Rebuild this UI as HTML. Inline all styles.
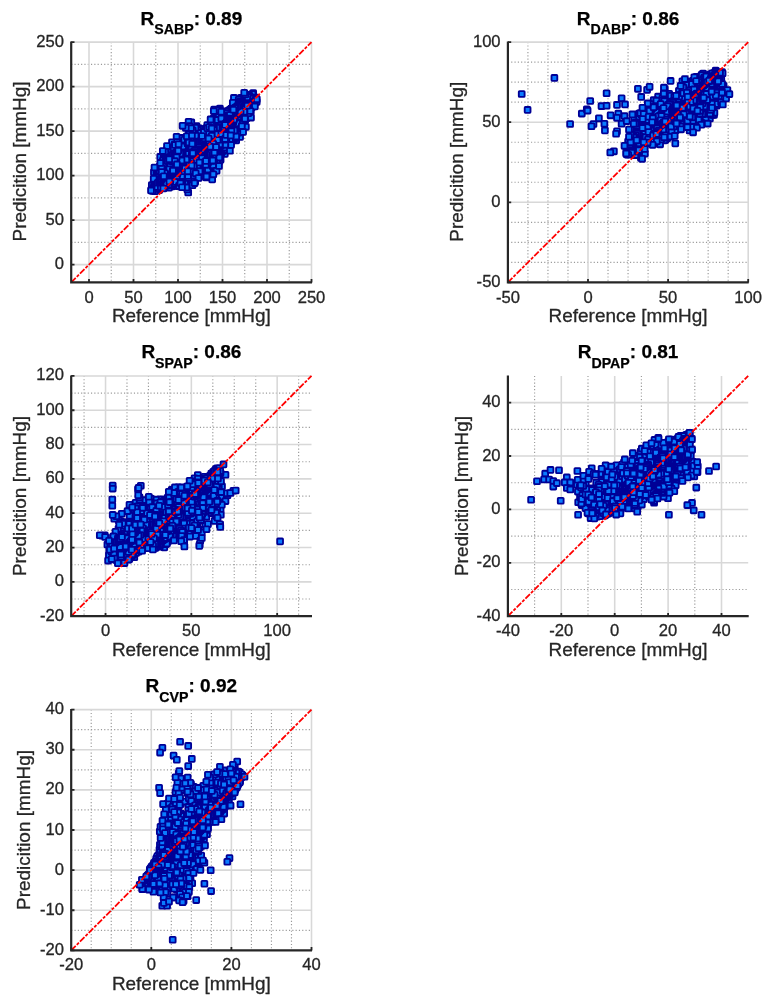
<!DOCTYPE html>
<html><head><meta charset="utf-8"><title>Prediction vs Reference</title>
<style>html,body{margin:0;padding:0;background:#fff}svg{display:block}text{font-family:"Liberation Sans",Arial,Helvetica,sans-serif;fill:#262626}.tk,.lb{stroke:#262626;stroke-width:0.3px}.tk{font-size:16.6px}.lb{font-size:18.95px}.tt{font-size:19px;font-weight:bold;fill:#000;stroke:#000;stroke-width:0.25px}.m{fill:none;stroke:none;marker-start:url(#sq);marker-mid:url(#sq);marker-end:url(#sq)}.gM{stroke:#d8d8d8;stroke-width:1.55;fill:none}.gm{stroke:#9a9a9a;stroke-width:1.15;stroke-dasharray:1.15 2.15;fill:none}.ax{stroke:#262626;stroke-width:2.2;fill:none}.tkm{stroke:#262626;stroke-width:1.8;fill:none}.rl{stroke:#ff0000;stroke-width:1.8;stroke-dasharray:6.4 1.5 3 1.5;fill:none}</style></head><body>
<svg width="776" height="1006" viewBox="0 0 776 1006">
<rect width="776" height="1006" fill="#fff"/>
<defs><marker id="sq" markerUnits="userSpaceOnUse" markerWidth="10" markerHeight="10" refX="5" refY="5" viewBox="0 0 10 10" orient="0" overflow="visible"><rect x="2.10" y="2.10" width="5.80" height="5.80" fill="#0a7cff" stroke="#000096" stroke-width="1.85" stroke-linejoin="round" rx="0.7"/></marker></defs>
<g>
<path class="gm" d="M111.25 42.10V282.40M155.75 42.10V282.40M200.25 42.10V282.40M244.75 42.10V282.40M289.25 42.10V282.40M71.20 242.35H311.50M71.20 197.85H311.50M71.20 153.35H311.50M71.20 108.85H311.50M71.20 64.35H311.50"/>
<path class="gM" d="M89.00 42.10V282.40M133.50 42.10V282.40M178.00 42.10V282.40M222.50 42.10V282.40M267.00 42.10V282.40M311.50 42.10V282.40M71.20 264.60H311.50M71.20 220.10H311.50M71.20 175.60H311.50M71.20 131.10H311.50M71.20 86.60H311.50M71.20 42.10H311.50"/>
<polyline class="m" points="202.9,146.7 202.0,147.9 200.5,149.4 199.6,150.4 198.2,151.7 197.6,152.9 196.9,153.9 196.2,155.1 176.8,168.3 230.9,128.5 181.0,140.2 175.4,171.7 211.0,173.6 169.4,160.9 179.4,141.6 177.0,167.8 215.6,126.8 216.8,125.9 217.5,125.3 218.2,124.4 219.5,123.0 178.8,161.2 205.8,145.8 207.3,127.2 174.8,178.0 162.2,169.2 160.8,170.6 159.2,172.3 158.4,173.5 157.5,174.8 157.0,175.6 155.9,176.1 182.9,162.9 198.3,145.7 214.6,156.9 215.2,156.3 216.4,155.7 217.4,154.2 218.5,153.1 219.4,152.1 185.9,176.8 226.9,115.7 217.8,124.8 161.9,182.0 161.1,183.7 160.5,184.9 159.4,186.4 158.5,188.1 157.4,188.5 156.4,189.3 199.6,134.9 168.9,182.1 161.8,176.1 160.5,177.4 159.3,178.3 158.2,179.6 195.8,137.9 244.2,105.2 181.9,146.9 224.2,147.4 209.9,157.4 210.8,155.8 211.7,155.1 212.5,154.1 213.3,153.5 239.4,130.5 198.4,160.9 232.6,111.0 227.3,148.1 197.9,129.1 233.1,138.0 197.0,176.8 175.5,148.4 160.2,156.9 225.5,144.1 180.0,176.0 229.1,121.4 231.9,110.5 151.8,185.1 164.5,175.1 182.3,160.6 241.0,97.9 193.3,160.3 223.5,115.0 161.1,187.2 197.8,156.1 173.0,173.3 185.3,175.9 220.2,145.0 255.9,97.6 196.5,126.0 231.4,125.5 218.6,113.0 166.8,165.9 211.2,149.9 178.5,173.5 198.5,138.3 176.4,175.3 230.8,111.5 232.9,115.8 172.9,162.4 171.9,163.6 170.7,164.2 170.3,165.4 168.9,167.1 167.8,168.2 166.8,168.9 166.4,169.8 233.6,120.5 222.5,120.1 203.9,166.7 238.8,110.8 196.4,141.8 188.9,171.9 192.1,161.2 180.6,149.5 192.8,143.7 191.5,143.2 189.6,148.0 235.7,120.0 189.4,179.8 190.4,178.3 191.2,177.3 192.1,176.9 192.5,176.5 193.8,175.1 194.7,174.0 240.0,107.9 196.1,168.4 245.4,104.1 244.8,104.8 243.9,105.6 242.4,106.1 241.6,107.2 240.6,108.1 239.7,109.6 211.3,156.4 177.6,182.6 176.8,183.2 175.8,184.2 175.2,184.5 173.7,185.4 228.0,120.0 235.1,115.1 221.2,137.5 218.8,133.4 240.5,123.0 236.5,107.5 217.0,158.4 203.8,154.5 203.0,155.4 201.6,156.0 200.0,156.8 199.2,158.3 198.5,159.1 187.4,160.6 217.2,122.9 174.3,159.4 193.7,174.2 192.9,153.3 184.0,145.6 241.2,101.0 208.7,171.0 245.8,105.2 246.8,103.7 248.0,102.7 248.5,101.8 249.5,100.9 250.8,99.8 252.2,98.5 252.7,97.9 218.9,120.1 196.6,152.7 167.2,178.2 165.9,179.1 164.8,180.3 163.8,181.8 162.8,182.9 162.0,184.3 161.1,185.6 212.0,129.9 190.9,146.6 207.8,137.0 196.3,133.5 158.5,184.5 159.8,183.3 160.7,182.1 161.8,180.8 162.4,179.8 163.1,178.7 200.4,162.3 173.2,149.0 208.2,148.5 170.6,154.6 164.7,167.7 226.4,128.3 172.6,174.2 251.5,96.2 235.8,124.4 204.7,156.8 196.8,129.0 237.7,99.2 224.0,147.6 226.0,133.1 237.2,113.9 236.8,114.4 235.3,115.5 234.0,116.2 232.9,116.7 231.9,118.1 189.0,166.3 192.3,144.1 218.4,113.0 182.4,178.4 183.6,145.3 200.8,161.4 219.0,131.3 222.0,146.9 252.4,105.5 223.5,134.4 215.7,157.9 180.5,147.2 220.5,111.4 198.7,147.9 197.9,148.8 197.0,150.2 196.2,151.2 195.5,151.5 194.5,152.0 181.3,183.0 178.9,161.8 194.5,151.5 163.8,158.7 203.6,140.9 186.5,158.0 201.6,167.6 183.6,154.4 202.1,157.1 216.3,139.4 182.5,176.9 250.3,102.5 197.5,143.5 181.9,173.4 238.9,112.4 171.0,167.1 170.1,173.7 159.1,190.1 214.6,138.9 186.5,162.3 199.1,135.2 225.2,125.7 219.8,124.4 245.4,114.4 227.9,120.6 253.1,101.2 251.9,101.7 250.8,103.0 249.6,104.1 192.6,139.7 230.7,123.5 225.1,137.5 171.3,161.2 172.7,160.0 173.5,159.0 174.8,158.3 175.2,157.5 176.5,156.3 230.3,141.0 168.3,176.4 169.7,175.0 170.2,174.4 171.8,172.9 178.3,140.1 206.2,161.3 208.1,137.6 182.6,147.3 205.1,133.2 196.2,132.1 197.1,130.7 198.0,129.3 199.2,128.4 206.8,128.0 204.3,151.4 204.9,150.2 206.2,149.4 207.3,148.1 207.8,146.8 233.5,117.4 230.6,132.6 236.2,140.3 203.4,133.8 231.4,108.5 233.9,138.2 234.5,137.8 235.1,136.8 235.9,135.4 237.0,134.7 238.2,133.1 175.3,180.8 254.3,102.5 199.1,142.2 185.3,168.3 218.9,145.9 245.0,98.5 231.6,134.9 252.5,101.5 251.6,102.3 251.2,103.1 250.7,103.5 242.2,103.8 223.9,149.6 185.2,158.0 173.5,176.8 221.4,127.3 178.7,155.7 245.8,99.9 241.4,126.4 212.2,132.1 226.7,135.5 213.8,169.0 226.7,141.5 179.4,179.5 234.6,120.4 235.3,119.4 236.2,117.8 237.2,116.5 163.7,157.3 213.7,148.0 180.0,163.4 231.1,136.1 230.8,124.6 241.5,102.6 173.1,171.3 162.2,172.6 211.8,136.4 225.4,112.6 167.7,175.0 199.6,162.3 252.5,101.8 173.0,147.6 157.6,184.0 224.8,153.9 196.1,164.1 251.5,102.2 199.9,160.8 164.0,179.7 204.1,140.9 234.0,130.4 235.6,129.1 236.1,128.1 236.8,126.8 238.0,125.8 238.9,125.4 239.4,124.7 241.0,123.8 163.5,182.1 199.4,150.9 188.6,157.0 189.1,156.1 190.6,154.7 192.1,153.5 193.6,152.6 194.3,151.4 195.7,149.9 197.1,148.5 207.0,164.3 184.4,145.8 179.7,146.2 193.5,142.6 158.9,174.3 246.2,110.0 247.7,103.2 200.4,162.1 194.8,150.1 205.1,153.0 209.2,145.7 192.4,127.5 221.1,124.9 201.9,166.2 194.9,138.6 201.5,137.5 180.1,146.6 227.3,115.7 226.8,116.6 226.1,117.8 225.6,119.0 224.8,119.9 223.8,120.6 223.2,121.4 222.0,122.4 198.2,155.0 206.8,134.3 250.0,102.3 170.0,182.1 182.2,155.0 176.4,174.9 245.7,98.8 174.3,169.5 209.4,153.4 208.8,153.6 174.0,158.3 240.8,126.7 211.9,140.1 213.3,139.4 214.9,138.5 215.9,138.0 216.8,137.0 218.2,135.5 162.5,179.2 240.6,130.6 181.4,157.4 197.2,140.4 218.5,135.7 236.8,104.1 238.0,103.5 239.5,102.8 240.2,101.5 160.5,180.3 221.9,143.5 180.7,144.4 173.2,154.3 208.4,161.3 201.2,169.5 220.2,116.5 158.0,175.6 193.7,167.7 211.6,174.4 203.6,173.7 191.5,165.7 201.8,131.2 248.5,108.2 246.9,109.2 245.6,110.6 244.4,111.7 243.3,113.1 169.8,175.1 253.2,93.1 183.5,142.2 190.0,144.7 219.6,117.4 214.4,151.8 207.7,151.7 155.4,180.0 176.6,162.0 225.4,113.3 248.9,110.0 218.8,128.4 189.4,176.3 210.9,137.6 211.6,136.8 212.3,136.2 213.5,135.7 214.6,134.2 215.9,132.7 217.0,131.8 203.8,137.7 214.4,159.0 247.8,101.9 187.5,174.1 191.7,132.5 228.6,119.5 228.5,122.7 224.1,134.3 184.9,159.3 207.8,129.1 206.4,130.1 205.4,131.2 204.8,132.4 227.1,123.5 243.4,102.9 244.1,101.6 244.8,100.6 245.7,99.9 246.6,99.0 248.1,98.1 248.7,97.1 226.6,127.9 236.2,116.1 251.3,99.1 245.4,108.0 187.4,150.4 217.6,139.3 236.3,126.9 205.1,163.0 200.5,154.3 182.0,169.6 180.5,170.3 179.6,171.3 178.1,172.8 222.9,136.0 224.1,135.4 224.6,135.0 226.1,133.6 227.4,132.2 190.7,175.2 163.8,168.4 195.9,156.6 171.4,154.7 225.2,123.8 180.4,180.4 212.2,127.3 211.3,128.2 209.9,128.9 208.7,129.7 207.0,131.1 205.4,132.8 204.4,133.9 186.1,178.4 161.0,186.2 205.7,172.4 183.6,147.5 193.0,153.1 191.7,154.5 190.7,156.0 189.2,156.7 188.2,157.7 187.2,158.2 185.9,159.2 222.2,118.7 229.7,123.2 237.0,117.9 157.3,188.4 156.4,189.7 155.0,191.2 176.5,156.0 164.8,178.7 242.8,125.4 219.2,126.7 219.7,125.8 220.8,125.2 221.2,123.9 174.1,176.9 214.8,164.0 175.4,183.1 174.1,184.5 173.0,185.5 171.6,186.5 186.0,183.8 236.4,131.7 237.9,130.8 238.5,129.7 239.4,128.9 240.7,127.6 241.5,126.8 242.6,125.4 224.1,124.7 169.7,177.5 209.6,137.0 227.7,148.1 196.2,134.8 208.1,175.7 174.7,185.9 221.5,131.3 207.2,148.2 198.8,157.4 177.5,162.2 211.0,156.8 212.8,155.0 213.7,153.9 214.4,152.5 215.9,150.9 172.1,167.3 172.0,157.8 173.2,156.9 174.9,155.7 175.4,154.7 176.1,153.9 185.8,184.5 187.1,183.2 187.9,181.7 189.2,180.7 189.9,179.5 176.5,170.3 251.9,98.6 193.4,164.3 199.3,158.1 227.8,141.0 249.2,95.4 232.8,132.3 198.0,168.7 241.0,128.9 210.8,157.5 172.3,152.8 189.1,140.9 216.6,143.4 215.3,144.6 214.7,145.4 214.0,146.2 213.0,147.5 211.5,148.5 232.1,115.3 225.2,129.4 206.4,159.2 187.7,165.4 231.4,108.9 230.6,109.7 229.7,110.5 228.6,111.5 227.5,112.6 207.4,146.7 208.5,145.3 209.4,144.5 210.1,143.4 211.4,142.8 212.0,142.3 201.4,143.0 201.0,172.6 174.7,181.8 199.0,143.5 200.9,132.1 213.3,129.9 222.2,140.3 199.4,146.2 214.8,147.3 199.6,161.6 245.1,105.7 208.2,161.9 183.8,183.3 182.3,184.4 180.7,185.9 215.1,139.4 240.6,120.9 247.2,110.4 161.0,168.2 169.8,168.3 217.7,117.1 217.2,157.5 237.6,122.9 248.4,102.4 210.1,176.4 193.1,158.3 250.8,101.8 155.2,184.9 214.1,128.8 248.0,97.9 247.1,99.5 246.0,100.1 245.1,100.9 244.6,101.5 243.2,102.5 242.0,103.7 241.2,104.2 200.7,163.8 199.2,170.2 180.7,138.5 159.4,187.2 194.3,162.3 165.2,170.0 175.9,168.0 171.4,163.0 237.3,127.8 240.9,111.3 241.2,122.6 242.3,121.7 243.4,121.1 245.0,119.8 245.4,119.4 246.4,118.2 216.5,152.9 215.8,154.0 215.0,155.2 213.7,156.1 212.2,157.0 211.5,158.0 210.4,159.0 178.6,180.4 155.0,183.8 192.0,141.5 234.8,109.7 234.2,110.2 232.4,111.6 231.8,112.1 230.9,113.1 229.6,114.1 228.1,115.4 159.1,181.6 206.1,147.9 207.6,168.3 244.0,115.2 220.0,112.8 191.9,155.9 224.4,114.7 209.1,126.4 168.5,178.0 169.4,177.2 170.5,176.3 171.6,175.6 172.9,174.8 174.2,174.0 175.2,172.8 213.9,164.6 213.3,165.2 212.1,165.9 210.6,166.8 209.9,167.5 209.1,168.7 207.7,170.1 206.2,171.0 198.4,135.3 218.1,141.0 245.7,113.7 168.4,181.2 251.4,100.2 200.2,173.0 207.8,133.9 199.9,156.0 198.6,156.8 197.5,157.6 196.7,158.8 236.0,114.3 183.8,167.3 156.6,178.7 185.0,163.2 185.6,162.8 186.7,161.4 188.2,160.5 201.1,135.4 201.5,134.4 203.1,133.6 204.1,132.5 204.7,131.5 206.3,129.9 200.1,135.5 201.6,134.5 202.5,133.9 204.0,132.7 191.8,154.5 201.5,138.1 182.0,164.9 180.7,166.1 179.7,167.3 179.1,168.2 155.0,186.9 224.3,114.8 197.0,172.5 221.8,137.2 216.5,125.0 190.7,161.3 231.0,132.3 248.2,96.1 188.7,149.2 174.5,182.2 188.8,163.5 191.5,156.7 204.4,138.5 180.3,181.7 162.5,167.9 187.5,144.9 193.2,166.6 207.1,168.4 162.4,166.6 164.5,166.8 222.6,121.1 217.4,145.1 210.8,128.6 187.1,168.9 191.5,154.5 190.5,155.2 189.0,156.7 188.6,157.3 187.9,158.6 187.4,159.4 186.7,160.0 242.3,113.2 187.0,167.5 159.8,166.2 218.1,150.4 213.0,137.9 168.3,162.7 220.1,118.4 198.2,143.2 235.9,110.0 161.7,164.7 229.2,129.6 188.2,192.5 236.6,118.9 241.1,129.1 181.4,158.5 223.0,150.9 225.9,138.9 226.6,138.0 228.1,137.2 229.5,135.9 230.7,135.1 231.8,133.7 191.3,138.8 192.2,137.3 192.9,136.1 194.3,135.0 195.1,133.8 196.1,132.6 202.8,129.1 211.2,130.4 211.8,129.8 212.9,129.4 214.2,128.7 215.2,128.1 216.1,127.1 217.7,125.5 218.7,124.9 195.3,163.0 181.6,172.1 222.4,147.7 191.0,162.0 221.1,145.6 222.3,144.0 223.4,142.8 224.7,141.7 225.3,140.7 225.8,139.4 227.4,138.6 213.4,158.6 216.6,160.3 188.0,172.1 189.2,171.1 190.3,170.0 191.5,168.5 192.5,167.7 254.7,100.8 253.8,101.9 253.2,103.2 252.3,104.1 251.2,105.6 249.8,106.4 248.5,107.3 247.4,107.8 223.4,129.2 209.9,127.2 246.5,102.7 248.0,101.7 248.9,100.7 250.0,100.0 227.3,124.7 248.9,111.1 188.8,178.2 187.8,179.3 186.4,180.8 185.3,182.6 217.4,150.5 223.2,117.0 180.2,144.6 158.9,184.1 187.1,175.0 205.1,148.2 177.3,157.6 207.3,132.4 156.1,187.3 195.6,170.7 197.4,156.1 211.1,137.8 210.7,138.8 209.9,140.2 208.3,141.3 179.4,171.8 207.8,155.4 220.4,130.5 238.8,119.6 207.3,128.5 206.1,129.7 204.7,130.6 204.1,131.6 203.0,132.7 202.0,134.0 200.3,134.7 198.7,135.6 185.4,179.0 200.0,134.5 168.0,182.8 223.4,144.4 222.4,145.1 221.9,145.5 221.0,146.1 219.8,147.0 219.0,148.2 217.9,149.5 247.3,96.0 178.0,183.5 244.3,111.0 223.7,134.9 164.1,176.4 165.4,175.7 166.9,174.4 168.1,173.5 169.7,171.8 170.7,170.6 171.8,169.9 178.1,179.0 180.6,150.7 190.3,157.2 237.2,126.5 238.2,125.0 239.5,123.8 240.2,123.1 157.5,179.7 231.2,133.9 189.7,151.4 217.6,128.4 173.9,159.7 174.7,159.1 176.5,157.3 177.9,156.6 166.9,175.9 177.2,143.2 178.1,142.3 179.0,141.9 180.0,140.6 181.0,139.9 181.5,138.6 182.3,137.9 195.4,177.6 200.0,171.0 155.9,182.0 173.3,162.6 159.9,176.1 205.9,141.5 247.2,101.3 238.3,104.2 189.0,162.5 222.3,145.0 219.7,151.1 229.0,142.3 170.0,153.4 247.1,111.5 246.0,112.8 244.8,113.5 243.9,114.1 243.2,115.3 242.7,116.4 242.3,116.9 240.9,118.5 173.6,144.6 196.8,173.4 197.9,172.7 198.4,171.9 199.6,170.5 200.7,169.2 202.2,168.2 202.4,167.1 203.9,166.3 192.2,154.3 215.6,137.4 173.1,166.2 165.3,173.9 164.5,174.8 163.1,176.0 162.4,177.1 161.3,178.0 159.9,179.6 189.0,167.4 205.6,150.2 199.6,135.4 186.2,184.0 187.0,183.5 188.5,182.7 189.3,182.2 190.9,180.5 184.5,158.0 194.8,162.0 188.9,130.3 191.3,153.3 186.5,160.1 232.8,128.4 181.4,153.6 179.7,154.7 178.7,155.6 177.6,156.9 247.0,113.9 200.6,143.4 176.3,177.9 164.2,154.9 251.0,98.9 177.5,174.5 196.9,173.9 204.5,155.6 209.3,137.5 238.5,102.8 232.9,117.2 234.3,115.8 235.5,114.9 236.4,114.1 237.1,112.9 238.7,112.1 240.1,110.7 182.3,166.2 168.9,172.5 238.3,129.2 229.5,111.1 172.5,175.9 205.6,148.9 200.9,145.4 206.0,157.5 203.1,143.2 214.2,109.6 207.2,162.7 247.5,113.2 248.7,101.2 248.0,102.7 247.2,103.6 246.8,104.4 245.5,105.7 245.1,106.5 243.7,107.1 243.2,108.0 234.5,116.7 170.9,183.1 172.1,181.7 172.9,181.2 173.8,180.1 174.8,179.8 176.0,178.3 177.0,177.4 251.1,103.7 229.6,118.0 228.4,119.1 227.6,119.6 226.1,121.0 224.9,122.1 231.4,113.0 230.3,113.6 228.9,115.2 227.4,116.8 226.8,118.0 225.5,119.6 224.8,120.9 165.1,183.1 199.5,131.8 189.1,162.5 190.9,160.9 191.8,160.2 192.4,159.0 193.5,158.0 204.5,150.7 196.1,157.4 216.2,126.8 222.0,137.0 179.3,177.2 226.4,128.9 229.5,117.8 230.0,116.6 231.3,115.9 231.7,114.9 232.7,113.9 233.8,112.1 235.1,110.9 236.1,109.9 183.7,167.5 221.6,152.4 193.5,149.0 207.6,136.7 170.4,172.7 253.8,103.3 157.5,183.8 156.5,184.6 155.6,185.6 154.6,186.8 153.5,187.7 209.1,146.3 201.8,165.6 225.7,118.9 232.2,116.6 242.3,120.2 235.3,111.6 234.7,112.8 233.4,114.3 232.8,114.8 201.3,165.4 154.1,184.4 155.6,182.8 156.3,182.0 157.4,180.6 158.6,179.7 187.3,142.6 200.9,159.0 214.5,132.2 226.8,138.2 158.6,170.3 191.1,148.0 215.6,127.6 192.0,160.5 168.3,160.8 182.4,163.6 238.9,111.5 219.0,154.7 220.2,153.3 220.8,152.7 221.8,151.1 222.4,150.2 223.4,149.0 224.2,148.5 173.5,154.8 185.8,167.1 182.4,178.4 191.3,163.6 207.0,145.9 221.0,138.9 222.2,137.5 222.6,136.8 224.1,135.7 225.0,134.8 239.2,104.7 214.3,146.5 242.4,109.8 243.5,109.3 245.1,108.0 245.8,107.2 247.1,105.7 217.2,145.0 244.5,113.5 236.0,128.1 237.1,127.2 237.7,126.0 239.5,124.8 240.5,124.0 240.9,123.0 241.8,122.3 237.5,120.6 202.5,138.2 223.7,123.8 223.1,124.5 222.6,125.7 221.6,126.7 220.4,127.9 219.3,129.3 218.6,129.7 246.3,114.8 209.5,170.9 155.2,182.8 231.7,116.0 233.1,115.3 234.1,114.3 235.1,113.5 235.6,112.9 237.3,111.4 238.3,110.4 239.8,109.3 241.6,114.8 241.1,115.8 240.2,116.8 239.3,117.8 172.4,157.7 200.8,153.2 171.5,183.0 171.0,184.3 170.3,184.9 169.9,185.8 168.9,186.2 174.8,169.3 194.7,141.9 250.1,103.2 183.3,150.4 171.8,154.7 171.0,155.6 169.7,156.6 168.7,157.7 167.2,159.3 183.6,152.8 243.3,116.3 194.4,156.6 232.9,127.0 168.0,178.0 226.3,141.0 230.2,138.2 212.6,160.4 222.9,143.5 224.4,141.9 225.2,141.0 226.0,140.1 227.2,139.0 228.3,138.1 229.5,137.0 230.8,136.3 188.2,162.7 177.0,154.6 187.6,173.5 250.1,98.7 215.2,144.9 184.7,181.8 222.6,143.2 224.2,139.1 167.2,149.4 226.3,136.2 214.3,126.7 233.0,135.7 236.7,112.9 233.3,110.6 169.8,172.8 213.0,128.3 192.6,153.2 220.7,144.2 220.2,145.2 219.5,145.7 218.0,146.5 216.5,147.6 215.9,148.3 214.7,149.3 243.6,118.4 235.8,132.7 186.6,165.6 185.7,156.4 177.8,172.6 183.2,158.6 205.1,135.2 201.5,140.6 225.8,129.7 182.4,181.3 181.7,182.2 180.3,182.8 178.7,184.3 177.8,185.2 222.7,112.5 221.4,113.8 220.3,115.0 219.4,116.0 173.0,175.0 211.7,148.0 220.6,159.5 187.8,136.4 223.3,126.7 222.6,127.8 221.6,128.2 220.5,129.2 240.8,117.0 223.7,130.7 209.5,144.9 188.1,183.0 236.0,128.6 220.1,122.2 161.9,175.3 169.9,171.7 176.2,142.6 236.3,103.4 229.1,125.1 175.1,159.2 231.4,129.5 197.4,131.1 237.6,118.1 219.9,123.9 195.2,181.5 170.5,160.9 203.2,155.2 202.4,156.3 201.0,157.1 199.3,158.8 198.4,160.1 171.3,173.0 183.5,183.2 193.8,162.8 166.9,169.5 157.4,172.3 185.1,146.7 216.5,136.6 229.0,110.2 224.3,137.4 225.3,136.5 225.8,135.3 226.2,134.9 226.7,134.1 227.6,133.7 228.4,133.0 229.7,132.4 162.6,177.7 163.9,176.6 164.9,175.7 165.9,175.4 167.1,174.8 167.7,173.6 168.7,172.6 169.9,171.4 224.5,119.6 209.8,142.0 242.8,107.1 244.8,111.4 220.6,141.9 180.9,161.2 188.0,181.6 189.3,180.6 189.8,179.3 191.1,178.0 191.8,177.2 192.3,176.8 194.0,175.0 187.3,167.0 243.1,119.0 243.8,116.5 244.8,116.1 245.7,115.3 246.8,114.6 248.5,113.8 250.0,112.3 250.8,111.3 203.4,161.0 189.6,143.5 187.9,144.7 186.7,145.8 185.2,147.5 184.5,148.7 176.7,178.2 177.8,177.1 178.6,176.0 179.7,175.1 180.2,173.7 181.4,172.8 211.2,136.4 170.8,161.4 188.4,170.4 228.7,129.0 180.8,166.6 240.1,136.9 200.7,139.2 201.8,138.1 203.1,137.5 203.6,137.0 204.6,135.8 233.4,136.4 190.2,172.4 171.4,175.1 202.5,167.3 235.2,127.5 213.9,140.0 228.0,134.4 227.0,135.3 226.2,136.5 225.1,137.2 224.3,138.5 223.1,139.9 222.5,140.6 221.9,141.5 184.3,172.1 191.3,122.3 177.3,172.7 226.9,114.9 186.1,157.9 169.5,175.9 169.0,187.6 238.7,118.5 240.3,117.3 240.8,116.1 242.1,114.4 243.2,113.5 244.2,112.0 245.9,110.8 246.5,110.0 174.3,169.3 196.1,136.4 194.7,165.8 195.3,164.6 196.6,163.3 198.2,161.9 198.9,161.5 170.5,177.1 169.8,178.4 169.2,179.9 168.0,180.4 166.9,181.7 165.7,183.1 164.8,184.5 217.8,155.6 227.8,139.1 236.1,135.1 192.6,159.6 191.4,161.0 189.8,161.9 188.8,162.5 187.8,163.9 186.5,165.2 185.2,166.1 244.2,110.0 242.6,117.3 236.5,119.1 244.5,109.2 245.3,108.4 246.7,107.2 248.1,105.8 249.0,104.9 250.0,103.8 242.2,105.2 220.8,143.7 197.3,169.7 194.6,170.4 183.0,142.7 170.9,161.8 241.3,103.5 199.1,152.6 244.7,118.0 226.8,112.7 227.9,148.8 165.0,156.0 219.9,154.9 206.0,134.4 173.8,147.6 194.4,142.7 239.5,118.6 188.2,162.0 189.8,160.8 190.4,160.4 191.1,159.7 192.1,158.6 224.9,136.0 225.7,134.8 226.9,134.1 227.9,133.0 229.2,132.3 230.1,130.8 163.6,171.6 242.1,113.0 214.7,137.9 157.1,183.3 172.7,169.1 171.2,170.6 170.7,171.9 169.9,173.0 168.6,173.9 167.2,175.1 166.1,176.2 190.8,168.2 222.2,143.7 220.1,137.2 209.9,139.0 218.2,117.9 221.8,147.2 168.7,181.3 213.5,159.9 208.9,151.9 210.0,151.0 211.2,150.2 212.2,149.1 213.4,148.5 214.2,146.9 214.7,143.7 207.4,130.7 162.7,170.5 161.4,171.3 160.5,172.9 159.5,173.5 158.2,174.4 157.5,175.7 156.9,176.5 191.6,157.2 177.7,176.4 202.1,154.4 203.8,153.4 205.0,152.8 205.9,151.4 207.7,150.4 187.6,156.5 217.6,118.8 180.4,151.5 217.2,145.6 230.2,134.9 199.1,159.3 158.8,168.7 219.7,111.6 157.7,180.2 187.6,181.8 178.5,167.8 180.2,166.5 181.3,165.6 181.7,164.5 181.7,183.5 180.1,184.8 179.0,186.2 238.2,122.3 185.2,182.8 218.4,116.4 198.9,163.8 166.9,155.8 235.9,112.2 236.7,111.7 238.3,110.1 239.5,109.2 240.1,108.0 241.7,106.9 242.7,106.5 242.0,104.3 156.0,185.6 153.9,172.2 241.0,124.3 241.4,123.1 241.9,122.2 243.3,120.8 244.2,119.2 244.8,117.8 245.6,116.8 246.3,115.7 188.3,165.5 189.2,164.8 190.3,163.8 190.6,162.7 191.4,161.3 192.5,161.0 193.4,160.2 194.2,159.6 166.9,152.7 179.8,151.2 200.3,168.5 253.9,104.4 253.5,104.6 252.9,105.7 251.6,107.5 250.0,108.5 220.9,111.8 250.6,95.8 251.2,95.3 252.5,94.0 217.8,151.4 236.0,101.2 234.6,102.9 233.3,104.0 232.9,104.8 236.5,124.5 234.9,113.1 246.0,101.1 237.8,119.9 238.4,118.6 238.9,117.4 240.0,116.6 216.7,151.7 164.0,179.7 200.1,132.9 209.0,158.8 218.7,111.9 228.5,116.4 200.5,140.8 201.5,140.0 202.1,139.2 203.0,138.5 203.8,137.6 204.9,136.8 206.5,135.3 240.9,125.0 218.9,122.3 230.3,133.5 211.6,133.5 214.9,149.7 214.3,150.5 213.7,151.8 212.5,152.8 211.6,154.2 210.7,155.9 209.7,157.1 212.5,151.6 176.7,167.8 189.4,162.2 159.6,186.6 160.5,185.8 160.9,184.8 162.1,183.4 163.2,182.1 164.0,181.4 158.6,176.1 223.3,140.1 224.3,139.4 225.6,138.5 226.7,137.4 227.4,137.0 188.9,166.6 190.9,172.1 228.4,148.5 174.8,155.6 179.8,164.4 177.1,170.7 183.7,158.5 211.8,123.9 246.0,116.1 243.4,108.3 194.0,127.7 182.6,175.2 193.4,132.4 167.6,171.2 166.0,172.5 165.1,173.5 163.8,174.8 212.2,162.0 210.2,149.2 219.3,113.1 217.9,114.3 217.4,115.0 216.5,115.4 215.8,116.7 214.7,118.1 213.5,118.6 210.6,135.5 194.9,176.7 181.3,154.1 219.9,108.6 200.9,168.3 200.5,168.9 198.7,169.8 197.1,171.3 186.6,181.8 181.2,151.1 194.2,163.2 193.1,164.1 192.3,165.1 191.2,166.3 190.1,166.8 189.4,168.2 188.4,169.0 187.6,169.8 194.0,146.3 193.7,174.6 230.9,126.6 231.7,125.7 232.6,124.4 233.2,123.2 234.0,122.4 234.8,121.5 232.3,113.6 237.1,125.0 190.9,163.4 202.9,161.4 222.8,141.9 220.8,121.0 177.2,168.6 211.5,137.5 183.5,184.8 162.9,160.5 250.0,97.1 250.4,99.6 234.2,121.0 176.2,169.8 228.1,119.7 229.2,118.1 229.9,117.0 230.9,116.0 232.2,114.4 203.8,146.9 211.2,138.0 205.1,143.1 163.6,170.8 225.5,139.0 233.7,139.2 232.9,140.1 231.1,141.4 230.5,142.7 229.6,143.7 229.1,144.5 227.9,145.5 242.4,122.8 172.7,150.2 233.9,97.9 179.7,168.9 245.4,111.5 198.5,137.2 193.5,144.7 210.7,135.7 201.6,147.9 192.9,130.1 178.5,162.1 185.3,177.7 225.5,128.2 195.0,144.0 212.1,127.6 218.2,128.8 212.1,142.0 239.1,127.2 203.6,174.4 204.4,172.9 205.2,171.4 206.0,170.5 189.8,131.6 250.9,102.4 175.2,179.8 213.2,166.1 247.0,109.3 246.3,110.5 244.8,111.9 243.5,113.0 242.2,113.7 240.6,114.8 184.8,160.4 183.6,161.1 182.9,162.3 181.6,163.3 180.3,164.2 179.2,165.0 208.2,144.4 166.7,183.0 179.3,168.0 209.3,171.5 173.9,182.6 186.5,155.9 187.5,154.7 188.0,153.4 189.8,152.2 239.9,111.1 184.7,182.6 212.3,142.4 248.5,114.4 207.6,147.9 188.1,153.2 206.6,168.7 170.7,175.5 235.8,122.9 236.9,122.0 237.9,120.7 239.3,119.3 159.5,174.5 177.6,177.0 176.6,177.8 175.9,179.2 174.8,179.6 174.2,180.9 173.6,181.4 171.8,182.4 170.4,183.8 190.7,148.1 193.9,141.3 202.2,134.2 194.6,176.8 225.5,149.5 202.7,144.1 170.0,149.6 224.3,130.3 215.9,127.1 214.8,127.9 214.1,128.8 213.3,129.6 212.0,130.6 195.4,172.0 178.2,155.6 215.9,128.9 154.8,184.4 160.7,179.3 254.1,99.4 179.2,157.0 229.5,128.9 163.8,164.5 185.4,159.3 186.7,158.4 188.3,157.2 189.4,156.9 190.6,156.0 191.8,155.4 219.4,147.9 217.9,149.0 216.8,150.2 216.0,151.1 215.3,152.3 165.1,163.3 214.3,158.4 184.2,164.3 176.9,163.5 195.9,174.8 212.5,153.3 214.2,155.0 237.2,125.8 226.4,131.4 225.1,132.1 224.5,132.8 223.3,133.6 222.5,134.8 221.2,136.4 217.8,115.5 205.1,154.8 216.6,124.3 217.4,123.5 218.7,122.9 219.9,122.2 221.1,121.4 222.0,120.1 222.7,119.7 165.5,151.6 191.4,152.9 192.8,151.3 193.2,150.6 194.8,149.3 195.9,147.9 197.3,147.3 160.5,187.5 222.6,130.7 182.6,152.6 225.6,138.6 207.2,147.4 206.6,148.4 205.4,149.1 204.6,150.0 204.1,151.2 203.3,152.0 202.1,153.1 209.2,154.1 236.8,127.0 237.7,125.6 239.4,123.9 240.7,122.6 241.9,121.7 243.1,120.6 208.5,126.4 206.2,174.9 207.0,153.2 185.2,167.4 169.4,181.9 157.7,170.8 252.5,99.6 165.8,182.2 166.9,180.6 167.6,179.6 168.1,178.2 169.1,177.0 224.5,131.4 185.7,185.5 238.8,130.5 192.4,174.2 188.8,143.2 187.0,144.8 186.1,145.6 185.2,146.4 184.0,146.8 182.7,148.4 181.8,149.5 213.0,149.0 233.5,115.5 216.4,154.4 177.2,151.7 230.5,125.2 232.1,123.8 233.2,122.7 234.6,121.8 235.4,120.2 236.7,119.5 202.8,144.7 189.2,168.9 205.9,136.5 192.8,168.9 185.8,157.9 187.0,156.9 188.5,155.9 189.3,154.8 190.6,154.2 191.5,153.6 192.3,152.8 193.6,151.5 174.9,184.0 168.1,180.9 203.5,138.4 165.7,163.2 225.5,142.6 160.4,188.3 218.9,118.0 211.3,163.1 226.0,131.5 224.8,132.8 224.3,134.2 223.0,134.8 222.2,136.3 220.9,137.2 220.4,138.2 235.0,119.7 188.5,173.5 170.2,162.0 170.8,161.5 171.2,161.0 172.1,159.9 173.0,158.9 174.5,157.5 204.3,142.5 182.0,180.3 247.4,103.8 202.6,170.3 193.2,142.4 219.1,110.1 224.9,149.4 212.4,169.8 175.7,160.4 198.6,148.2 181.8,173.4 183.2,143.4 191.7,161.3 187.8,154.8 214.8,130.6 202.8,131.8 201.8,133.1 200.4,134.0 199.1,134.9 198.1,136.3 236.4,115.4 217.9,112.5 191.1,176.0 152.6,190.9 183.3,159.1 232.8,138.8 244.6,101.3 192.5,159.0 178.3,162.7 204.2,165.1 234.0,123.5 232.9,124.2 231.9,125.5 231.6,126.6 230.1,128.2 168.0,185.1 241.8,126.7 189.4,146.8 254.7,101.8 185.2,166.4 225.2,126.4 239.4,100.0 242.1,102.8 200.3,150.8 201.5,149.4 201.9,148.6 203.0,147.4 203.7,146.4 204.6,145.0 205.9,144.1 206.8,143.5 247.6,112.1 205.5,153.0 215.1,166.6 206.8,139.9 179.0,154.7 180.2,154.2 180.5,153.6 181.1,152.8 182.4,151.9 183.3,151.4 184.1,150.6 185.1,149.6 171.9,179.1 173.1,178.2 174.4,176.5 175.1,175.3 176.4,174.7 176.9,174.4 231.2,123.0 175.2,166.4 239.2,116.0 225.4,141.2 169.0,170.3 241.7,128.2 215.9,136.2 214.7,136.9 213.8,137.9 213.4,138.9 212.3,140.4 226.3,131.2 191.7,161.3 219.9,141.1 177.3,155.9 215.4,121.1 216.9,119.7 217.7,118.4 218.5,116.9 155.0,184.8 208.9,141.3 236.3,121.0 221.4,127.1 226.1,126.6 238.7,99.7 156.4,179.1 207.7,149.0 208.9,147.7 210.2,146.7 211.0,146.4 212.2,145.8 212.7,145.0 213.6,143.9 245.4,100.5 186.0,182.3 158.8,188.8 246.7,111.7 221.7,132.0 192.3,142.0 193.9,140.7 194.6,140.0 195.3,138.6 197.0,137.5 197.7,136.5 199.0,135.6 165.9,170.8 204.9,141.5 176.2,179.2 225.5,111.2 237.3,105.9 173.0,172.8 178.7,168.4 164.1,174.7 188.9,162.7 210.8,171.8 215.3,143.5 213.5,133.7 207.7,126.9 245.9,126.8 192.0,151.8 166.0,161.9 213.1,131.2 197.8,130.3 225.7,142.3 214.5,170.8 213.7,171.9 212.6,173.7 211.3,174.8 246.2,98.1 169.1,157.9 186.6,153.2 177.8,162.1 226.7,112.2 164.4,168.8 195.9,135.0 198.9,174.2 192.0,143.4 169.1,179.9 236.1,109.4 166.0,171.0 163.2,185.2 163.8,184.5 164.6,183.7 165.7,182.0 167.0,181.1 167.7,180.0 230.3,109.9 238.4,132.7 242.4,114.5 171.4,161.7 155.1,183.8 238.5,122.1 181.5,183.6 236.7,128.7 183.3,153.1 237.7,113.1 198.2,174.4 217.6,115.4 191.9,155.8 190.8,157.1 189.4,158.7 187.6,160.1 186.7,161.3 185.8,162.5 220.1,135.9 188.6,121.7 221.8,132.7 238.8,111.2 222.9,141.5 224.2,141.1 225.6,140.1 226.6,139.6 228.2,138.5 229.2,137.3 230.2,136.7 238.2,121.4 245.3,107.1 253.5,105.6 208.8,132.4 168.8,172.1 211.3,161.9 251.0,102.2 195.1,159.0 181.0,171.3 228.8,133.8 180.7,169.0 188.2,149.8 197.8,156.4 218.0,127.3 194.3,138.8 231.0,110.3 245.7,114.3 171.3,149.3 234.6,130.9 194.1,131.8 232.2,112.6 230.7,113.9 229.7,114.4 228.6,114.8 227.6,115.5 227.0,116.4 167.2,172.6 165.5,173.8 164.4,174.8 163.4,176.3 162.0,177.9 217.6,144.7 199.4,139.5 222.4,135.1 221.2,136.5 219.5,137.7 218.5,139.0 217.8,140.3 216.9,141.0 216.0,141.4 215.1,141.8 205.1,142.0 224.2,132.0 222.9,132.7 221.9,133.5 220.8,133.8 219.5,135.2 218.9,136.0 217.4,137.7 216.1,138.5 205.8,160.6 156.6,184.7 219.5,161.0 222.7,143.8 200.9,137.5 181.6,160.1 235.0,137.8 170.7,159.6 230.2,139.2 158.4,179.3 189.5,161.3 196.2,162.5 191.2,174.4 234.2,125.6 224.1,137.1 184.0,147.0 251.0,117.6 171.1,156.9 227.6,111.6 156.6,171.1 168.2,175.7 182.4,152.3 219.2,155.4 193.6,148.4 211.5,134.9 164.5,183.0 242.0,113.8 248.4,111.6 249.6,95.9 183.3,168.0 234.8,133.6 210.7,168.9 211.7,142.5 206.0,143.1 232.6,108.8 199.5,144.1 200.4,142.9 201.6,142.5 203.0,141.0 176.1,181.8 198.0,152.7 231.1,127.8 174.2,150.8 239.6,112.2 178.5,181.2 185.4,165.9 219.3,111.0 175.7,179.0 180.4,148.9 217.4,127.9 172.8,163.2 191.2,177.3 199.1,150.9 218.7,110.3 181.6,147.4 226.9,113.4 228.4,136.3 199.9,160.0 168.3,167.0 167.0,173.4 180.9,162.9 197.5,132.5 159.4,188.6 170.5,168.1 187.7,156.4 252.0,106.6 252.8,105.2 253.7,104.5 254.9,102.8 256.7,101.8 165.8,180.8 214.1,153.5 215.0,152.5 216.5,151.3 217.7,150.5 218.5,149.3 219.3,147.9 220.9,146.3 217.9,144.6 216.8,145.7 215.5,147.3 214.3,148.1 212.8,149.3 210.4,137.5 212.1,151.5 156.6,174.6 177.7,166.7 193.3,157.4 165.4,168.1 191.3,161.2 217.8,162.9 240.3,110.7 239.6,111.9 238.1,112.9 236.5,114.5 235.8,115.7 234.5,116.4 233.4,117.5 232.6,118.1 215.5,141.0 214.6,141.4 213.5,141.9 212.4,142.7 211.4,143.8 210.7,145.0 209.9,146.6 168.0,167.9 217.2,151.8 218.9,150.9 219.6,149.5 221.2,148.7 222.1,147.3 223.6,146.1 219.4,123.1 221.7,125.1 222.7,123.7 223.5,122.8 224.4,121.3 225.5,120.2 226.1,119.4 227.7,118.6 229.1,117.4 219.0,130.6 213.8,124.3 224.8,115.6 201.2,151.7 172.2,168.9 211.4,150.4 189.8,133.2 207.2,156.2 206.3,157.5 205.6,158.3 204.9,158.7 204.2,159.2 182.5,169.4 181.4,170.3 180.4,171.2 179.4,172.6 177.9,173.4 177.5,173.7 177.2,174.4 175.8,175.3 207.5,157.9 177.5,167.8 181.9,182.6 219.8,119.2 218.5,120.7 217.7,121.2 216.6,122.1 215.4,123.3 214.4,124.8 213.7,125.3 212.9,125.6 224.8,128.5 227.3,137.9 240.7,125.5 204.7,151.8 182.6,143.6 202.4,167.5 201.5,169.0 200.4,170.2 199.1,170.9 197.9,171.7 197.4,172.7 213.4,156.7 161.1,179.6 163.4,163.6 175.7,146.2 179.5,172.1 205.4,149.5 204.6,165.3 158.8,181.5 191.7,140.1 194.7,163.9 191.1,174.5 206.3,146.4 204.8,148.1 203.9,149.7 203.4,150.6 201.8,151.6 201.1,152.5 200.2,153.4 215.0,152.1 190.9,181.2 243.5,102.0 234.0,117.2 214.1,165.1 221.3,131.6 184.0,143.1 241.5,109.6 218.5,117.6 193.0,162.6 217.5,147.1 236.4,109.8 207.3,125.0 210.4,162.3 200.7,176.0 246.7,103.8 200.0,132.9 215.0,146.7 215.7,145.8 216.3,144.6 217.1,143.3 218.3,142.0 219.1,140.8 189.9,173.3 165.7,160.0 216.6,160.7 202.4,153.6 204.2,152.4 205.4,151.6 206.3,150.9 213.5,140.7 211.9,141.7 210.2,143.2 209.7,143.5 208.7,143.8 207.9,145.4 198.7,150.5 238.8,123.5 233.0,129.6 169.3,180.4 212.2,179.4 177.6,146.4 212.0,142.6 203.6,142.2 168.2,177.9 235.5,127.8 190.9,163.0 192.1,162.1 193.4,160.7 194.1,159.9 195.3,159.1 196.2,157.7 197.4,156.6 198.0,156.1 217.1,127.3 216.1,128.2 215.0,129.0 213.9,130.2 212.8,131.3 211.9,132.6 210.3,133.8 210.1,134.5 189.2,164.5 190.1,136.5 222.6,141.6 166.2,170.6 230.6,121.7 168.9,184.8 220.2,136.1 222.6,138.7 190.2,141.9 163.1,175.6 157.0,175.1 158.3,173.4 159.0,172.0 159.7,170.8 172.9,154.0 170.7,167.5 217.1,135.2 182.8,167.1 247.6,97.4 246.2,98.6 244.6,100.0 243.7,100.9 243.3,102.2 242.5,103.7 214.8,139.3 230.3,118.4 212.9,134.1 212.3,134.8 211.7,135.8 211.1,136.9 170.7,178.2 219.3,157.5 195.7,152.0 197.0,151.0 197.8,150.1 199.3,148.9 200.6,147.1 201.1,146.0 202.0,145.4 203.4,144.5 197.7,165.7 169.0,178.6 244.7,111.8 194.9,134.3 190.8,165.3 190.7,139.9 162.4,178.1 176.6,136.7 183.2,146.4 184.4,171.8 218.0,122.4 164.6,176.8 225.6,118.7 197.6,165.4 177.0,162.7 187.4,189.5 218.4,116.7 227.5,126.9 183.0,172.1 233.8,111.6 173.8,164.6 194.0,180.9 171.7,151.7 212.3,152.0 185.8,155.7 162.9,174.5 208.7,157.5 162.7,180.2 205.8,164.9 172.0,142.2 202.8,141.3 193.3,180.0 249.0,96.7 235.5,136.1 222.0,133.1 226.6,116.7 225.5,117.9 224.3,119.5 223.1,120.6 222.4,121.7 222.2,138.9 190.9,164.2 248.6,105.2 191.3,179.3 249.7,101.6 251.1,100.4 252.0,99.9 253.2,98.9 254.8,97.8 189.5,126.0 245.8,112.2 218.8,121.4 231.9,137.7 178.6,162.0 181.7,175.9 205.7,150.4 225.5,118.2 199.2,157.3 174.6,144.5 225.4,134.1 176.2,166.1 188.3,152.1 199.6,171.3 206.2,168.8 233.1,122.3 188.5,177.9 211.5,169.3 165.3,175.6 162.1,180.4 210.2,153.5 215.0,150.0 173.7,147.7 214.1,149.7 226.9,144.3 233.6,137.4 215.6,136.8 241.6,123.6 208.5,141.8 196.8,137.1 249.5,109.6 196.8,160.4 207.0,146.8 225.5,134.7 225.0,135.4 223.3,136.4 221.8,137.4 221.1,138.8 165.9,183.5 191.5,129.0 244.9,111.1 243.4,112.7 242.4,113.7 240.7,114.6 239.7,115.6 238.1,116.7 190.4,152.8 189.4,154.4 187.8,155.8 187.0,156.6 185.8,157.1 242.4,110.8 209.2,152.5 214.3,162.8 213.7,163.9 212.1,165.2 210.6,166.0 210.3,166.4 209.7,167.9 209.2,168.4 207.9,169.4 199.9,150.1 179.2,158.2 184.2,139.8 224.8,142.7 176.9,176.2 225.7,131.7 177.2,142.1 218.9,138.5 166.1,160.7 187.6,143.5 164.5,178.0 163.7,171.8 241.5,112.9 200.0,150.7 209.2,144.8 175.0,144.9 159.7,185.6 251.7,100.9 250.8,102.0 250.5,102.9 249.0,104.2 203.9,132.0 209.1,133.2 206.2,138.3 170.6,179.4 206.4,142.7 184.2,171.2 248.3,113.2 175.9,182.0 169.9,167.7 169.5,171.7 168.7,172.7 168.0,173.2 166.4,174.4 165.1,175.6 164.1,177.0 163.1,178.4 222.9,119.3 230.7,126.3 225.5,135.8 189.3,155.3 242.6,107.1 169.7,180.1 233.9,119.1 233.0,120.5 232.6,121.3 231.6,122.5 230.1,124.0 229.2,124.3 182.4,183.7 181.7,184.1 180.6,184.7 179.0,185.8 214.4,152.6 232.6,135.2 170.1,163.9 180.5,183.1 173.1,169.2 187.9,175.3 188.2,151.6 188.8,151.1 189.5,149.6 190.2,148.2 190.7,146.9 191.4,146.5 177.5,173.3 244.4,111.8 208.2,153.2 206.7,154.7 205.0,155.9 203.8,156.5 202.6,157.0 201.9,158.1 236.9,123.3 190.0,170.5 191.8,155.4 238.6,108.5 217.6,138.2 167.8,183.8 167.0,184.8 165.6,185.3 165.0,186.4 163.9,187.3 161.6,168.2 227.7,122.6 193.9,175.4 207.4,128.2 178.6,144.2 212.5,166.0 190.9,171.3 219.2,132.4 220.1,131.5 220.8,130.6 221.5,129.6 222.4,128.3 223.9,127.2 213.2,165.2 196.3,144.6 236.2,136.4 190.2,165.6 232.2,111.3 235.7,114.2 165.9,173.5 170.2,180.9 225.4,147.6 184.6,158.2 214.8,121.8 195.7,173.3 211.8,135.7 187.8,142.2 190.7,161.2 216.6,127.8 168.5,184.7 233.3,121.9 199.7,137.0 157.4,187.0 180.2,153.5 171.2,155.9 172.7,154.9 174.0,153.8 175.5,153.0 176.2,152.7 177.3,151.3 178.2,150.8 220.7,145.6 169.3,169.3 232.8,116.1 251.3,98.2 160.8,187.2 247.8,97.2 225.6,144.8 224.9,133.6 188.8,142.4 212.0,160.9 224.6,123.8 195.5,127.8 188.6,153.9 197.4,145.7 235.9,111.3 205.4,148.8 178.4,170.6 194.0,165.7 218.8,116.9 186.4,160.2 200.9,148.4 201.6,147.9 202.7,147.2 203.5,145.7 234.4,130.4 185.0,168.5 230.0,139.0 233.4,116.3 234.9,115.6 236.2,115.0 236.7,114.2 237.8,113.3 239.1,112.1 240.6,111.4 239.6,101.9 253.0,98.7 216.6,170.7 208.1,162.3 214.0,128.2 219.7,144.3 252.2,103.1 253.3,101.9 254.4,101.0 255.6,99.8 256.8,99.2 195.6,135.8 226.4,139.1 189.5,163.6 206.1,146.4 204.8,147.3 203.9,148.0 202.5,148.9 201.6,149.8 166.5,183.1 188.0,176.0 198.6,148.5 199.3,147.0 200.1,145.7 201.8,144.3 225.7,121.2 187.2,158.6 228.3,126.3 229.6,125.3 230.1,124.5 230.9,123.5 232.1,122.6 233.0,121.2 222.5,136.6 191.6,165.4 163.3,188.5 165.0,173.2 192.7,130.2 194.3,152.6 231.4,131.1 205.8,164.8 167.8,161.0 191.0,128.1 217.6,139.9 213.2,143.8 199.8,144.7 200.2,145.9 189.6,134.0 213.5,122.8 212.4,124.5 211.1,125.3 209.3,127.0 177.2,168.2 176.3,169.3 175.5,170.6 174.7,171.0 173.5,171.8 172.8,172.5 217.6,134.2 186.3,159.4 236.4,104.5 205.9,161.0 187.8,171.3 191.8,154.9 192.5,185.2 254.9,106.4 221.2,111.7 212.8,160.5 221.4,133.9 245.4,94.4 167.0,146.0 185.8,127.8 173.4,170.9 172.7,171.1 161.7,172.0 223.8,139.7 232.8,102.8 186.8,136.3 206.0,177.4 186.4,187.4 206.5,176.4 160.3,163.0 169.4,181.4 243.1,131.9 211.7,128.5 217.6,119.9 244.2,92.8 191.9,135.6 177.6,164.1 178.6,162.8 179.7,162.5 180.5,161.9 181.5,160.4 250.3,111.0 162.8,151.0 241.8,126.1 225.1,138.9 213.8,111.1 153.7,178.7 182.6,125.8 226.3,134.9 182.0,187.2 172.6,161.2 174.1,160.6 174.7,159.5 175.4,158.6 176.6,157.2 244.9,118.8 210.6,119.4 213.3,174.3 229.9,150.7 199.0,146.6 198.2,148.0 197.0,148.9 195.7,150.0 194.6,150.8 193.6,152.0 192.8,153.3 198.5,178.0 221.3,118.5 229.9,115.0 210.3,146.8 174.8,161.1 247.3,105.7 216.1,147.0 229.8,123.2 231.4,121.8 232.8,120.4 234.0,119.4 169.2,159.3 151.0,190.4 219.0,166.0 241.2,102.7 240.7,103.3 239.7,104.3 238.3,105.2 237.2,106.6 235.8,107.2 235.0,108.2 233.4,109.7 154.5,167.5 199.1,143.7 199.9,142.0 201.1,140.6 202.6,139.9 203.4,139.4 204.6,138.3 202.0,136.0 231.1,144.9 173.0,170.6 194.6,183.1 230.5,118.5 229.4,119.5 228.7,120.4 228.1,120.9 227.1,122.1 226.4,122.7 225.8,123.5 225.1,124.9 192.2,143.7 176.9,164.4 157.8,182.7 159.2,181.7 160.0,180.9 161.1,179.3 161.7,178.9 162.9,177.7 163.8,176.3 208.6,138.5 199.4,162.5 230.7,135.4"/>
<path class="rl" d="M71.20 282.40L311.50 42.10"/>
<path class="ax" d="M71.20 41.60V282.40H312.00"/>
<path class="tkm" d="M89.00 282.40v-3.3M133.50 282.40v-3.3M178.00 282.40v-3.3M222.50 282.40v-3.3M267.00 282.40v-3.3M311.50 282.40v-3.3M71.20 264.60h3.3M71.20 220.10h3.3M71.20 175.60h3.3M71.20 131.10h3.3M71.20 86.60h3.3M71.20 42.10h3.3"/>
<text class="tk" text-anchor="middle" x="89.00" y="302.90">0</text>
<text class="tk" text-anchor="middle" x="133.50" y="302.90">50</text>
<text class="tk" text-anchor="middle" x="178.00" y="302.90">100</text>
<text class="tk" text-anchor="middle" x="222.50" y="302.90">150</text>
<text class="tk" text-anchor="middle" x="267.00" y="302.90">200</text>
<text class="tk" text-anchor="middle" x="311.50" y="302.90">250</text>
<text class="tk" text-anchor="end" x="63.90" y="269.10">0</text>
<text class="tk" text-anchor="end" x="63.90" y="224.60">50</text>
<text class="tk" text-anchor="end" x="63.90" y="180.10">100</text>
<text class="tk" text-anchor="end" x="63.90" y="135.60">150</text>
<text class="tk" text-anchor="end" x="63.90" y="91.10">200</text>
<text class="tk" text-anchor="end" x="63.90" y="46.60">250</text>
<text class="lb" text-anchor="middle" x="191.35" y="321.90">Reference [mmHg]</text>
<text class="lb" text-anchor="middle" transform="translate(26.30 161.45) rotate(-90)">Predicition [mmHg]</text>
<text class="tt" text-anchor="middle" x="191.35" y="24.60">R<tspan font-size="14.2" dy="9.4">SABP</tspan><tspan dy="-9.4">: 0.89</tspan></text>
</g>
<g>
<path class="gm" d="M527.92 42.10V282.40M547.95 42.10V282.40M567.98 42.10V282.40M608.02 42.10V282.40M628.05 42.10V282.40M648.08 42.10V282.40M688.12 42.10V282.40M708.15 42.10V282.40M728.17 42.10V282.40M507.90 262.38H748.20M507.90 242.35H748.20M507.90 222.33H748.20M507.90 182.28H748.20M507.90 162.25H748.20M507.90 142.23H748.20M507.90 102.18H748.20M507.90 82.15H748.20M507.90 62.13H748.20"/>
<path class="gM" d="M588.00 42.10V282.40M668.10 42.10V282.40M748.20 42.10V282.40M507.90 202.30H748.20M507.90 122.20H748.20M507.90 42.10H748.20"/>
<polyline class="m" points="696.9,89.3 720.6,92.5 679.3,120.2 687.6,123.7 670.0,101.1 637.8,140.0 715.1,86.0 658.3,108.8 676.6,126.8 665.5,133.8 664.4,134.8 663.6,136.0 662.3,136.7 661.3,138.1 660.1,138.8 719.5,89.2 689.3,81.7 700.8,87.6 658.1,96.6 669.7,115.9 655.7,128.5 692.6,98.4 693.1,97.6 694.1,97.0 695.4,96.0 698.0,78.9 698.7,78.5 700.0,77.2 701.2,75.8 701.9,74.5 703.1,73.6 678.3,123.7 699.9,121.1 670.6,128.9 707.2,104.6 716.7,99.6 667.2,97.7 693.9,82.9 695.5,81.5 696.3,80.8 697.6,80.0 699.1,79.1 700.0,77.9 701.0,76.5 702.4,75.2 682.2,122.0 691.9,103.9 693.0,103.0 693.4,102.1 694.3,101.2 694.9,100.8 696.2,99.1 672.8,109.9 700.4,89.8 717.7,76.8 652.3,132.2 662.8,116.9 681.2,103.4 636.3,139.1 664.4,119.7 705.6,94.1 638.4,152.0 688.5,119.2 633.0,143.3 683.6,101.1 684.6,100.1 685.9,99.0 686.7,97.8 688.3,96.3 688.9,95.3 690.2,93.9 683.1,108.4 684.0,99.2 714.7,83.4 658.6,126.2 689.1,104.7 700.4,92.8 711.6,76.9 714.7,89.3 670.4,129.6 689.6,130.5 709.9,118.5 711.7,76.8 710.4,77.8 708.8,79.5 707.3,80.5 705.9,81.7 705.2,83.2 704.4,84.6 647.5,127.2 712.6,104.5 637.3,141.6 705.5,90.4 682.7,117.6 687.6,104.0 651.2,121.7 674.4,100.3 690.6,92.8 711.4,82.0 701.5,84.9 700.8,85.7 700.1,87.1 698.8,88.8 697.8,89.7 696.6,90.7 695.6,91.6 695.0,92.1 632.1,144.8 654.6,129.8 678.3,106.9 679.9,106.1 680.8,105.7 681.6,104.0 682.6,103.2 682.9,102.4 709.6,84.5 710.7,83.0 712.4,81.5 712.9,80.5 703.3,80.1 679.0,104.7 666.8,128.2 670.2,106.6 685.8,83.8 714.6,77.6 715.5,78.3 716.9,77.5 717.7,76.1 718.9,74.9 661.8,112.4 689.0,110.2 715.4,79.6 687.4,104.0 694.8,80.5 685.0,110.3 709.8,77.1 708.6,78.0 707.7,78.9 706.5,79.4 705.5,80.4 704.7,81.0 703.3,81.8 679.0,96.9 641.5,144.4 640.5,145.5 638.9,147.0 638.1,147.7 637.3,148.5 633.4,136.9 632.2,138.4 631.2,139.1 630.3,139.9 629.1,141.1 628.1,141.6 667.7,100.5 698.2,85.0 699.3,83.8 700.7,82.4 701.9,80.9 702.6,79.9 703.7,79.6 705.1,78.0 655.5,124.7 650.2,117.6 644.6,145.0 666.5,134.7 633.7,143.1 638.0,152.2 709.2,107.8 664.5,128.9 645.3,137.0 683.6,105.8 684.8,105.1 686.1,104.4 687.2,103.1 688.4,101.9 688.8,101.0 689.8,99.8 638.7,148.4 674.9,97.4 673.8,129.1 673.5,106.5 674.5,105.6 676.0,104.0 677.2,102.6 670.3,116.0 705.0,103.6 721.0,102.8 702.1,93.9 663.3,127.8 684.2,98.5 698.2,94.0 691.0,104.7 710.3,88.3 716.0,80.9 714.9,82.1 713.8,83.2 712.8,84.2 636.9,142.0 637.7,134.4 648.5,133.4 648.0,134.1 646.6,135.3 645.6,136.5 644.3,138.0 643.7,139.1 642.3,140.8 641.8,141.9 667.9,131.1 634.5,143.6 689.5,92.7 669.7,115.9 661.7,127.2 663.1,126.1 663.8,125.6 665.2,124.5 666.9,122.9 668.0,122.1 668.6,121.3 714.0,114.8 631.0,144.6 661.0,115.9 671.0,113.3 695.1,94.3 695.6,105.0 695.9,104.3 696.9,102.6 697.5,101.8 698.9,100.9 700.3,100.0 701.4,99.2 660.8,132.8 675.4,125.9 674.4,126.7 673.0,127.1 672.3,127.9 671.2,129.2 670.3,130.0 669.6,131.1 693.7,90.6 676.8,121.7 668.9,99.1 672.6,118.3 671.4,119.3 670.5,120.0 669.3,121.0 667.5,122.6 666.1,123.9 665.2,124.9 664.3,126.2 686.6,121.3 644.3,141.7 644.9,141.3 646.4,139.9 646.7,138.9 685.3,97.2 690.5,109.0 652.5,128.8 686.2,112.3 681.4,122.2 679.9,123.2 679.0,124.8 678.1,125.9 677.5,127.1 677.1,128.1 675.8,129.8 695.0,100.5 696.4,99.8 697.8,98.8 698.8,97.3 704.5,86.0 663.5,132.4 643.6,144.8 642.3,145.6 641.1,146.3 639.9,147.1 638.6,148.3 637.7,149.6 636.3,150.5 711.9,91.1 711.4,91.9 710.2,92.8 709.7,93.6 709.0,94.7 708.4,96.1 699.8,111.7 651.2,116.4 656.7,134.1 713.1,84.5 712.1,85.5 710.6,86.4 709.8,87.1 709.2,87.7 708.3,88.8 691.9,92.6 674.0,116.9 675.1,97.2 653.7,100.1 646.8,122.8 695.5,124.3 676.2,122.1 656.0,111.8 677.5,106.7 668.9,124.4 670.2,110.3 703.9,87.6 705.4,86.2 706.6,85.0 707.2,84.6 708.3,83.8 709.4,82.1 661.6,122.9 679.8,100.0 696.1,102.6 694.9,104.3 694.4,105.0 693.2,105.7 687.1,85.1 678.8,125.2 692.9,100.0 714.8,92.5 708.8,85.5 697.2,102.5 642.2,124.0 715.6,81.0 687.6,100.4 677.7,116.8 691.6,119.7 687.4,97.5 649.9,140.4 678.7,104.7 647.1,141.7 657.1,133.6 656.2,134.9 655.7,135.3 654.9,136.7 673.1,124.7 669.4,98.7 709.0,79.3 651.8,109.1 647.6,140.2 704.3,106.2 705.1,105.3 706.3,104.2 707.7,103.0 708.5,101.9 673.5,127.8 674.4,126.6 674.8,125.5 676.0,123.8 677.5,122.6 678.8,121.0 680.2,119.3 681.4,118.8 643.0,146.7 707.1,91.2 698.9,86.0 681.5,100.9 640.1,124.8 680.8,100.4 658.9,135.8 696.9,80.7 705.0,96.6 705.7,95.6 706.7,95.2 708.2,94.3 709.5,93.3 710.4,92.7 710.9,92.0 711.6,91.2 705.7,92.4 661.6,131.8 667.2,123.6 698.5,93.9 696.9,102.6 700.6,98.1 699.1,99.1 698.2,99.7 696.8,100.4 695.5,101.0 640.9,157.7 642.3,149.0 634.2,117.3 701.5,90.1 684.9,112.4 692.0,111.2 684.6,95.7 668.9,113.0 675.2,111.3 701.9,81.4 702.7,80.8 703.9,79.4 705.1,77.7 705.8,76.9 668.6,114.2 696.1,104.0 670.1,110.8 709.0,89.3 708.3,90.0 706.8,91.5 705.2,92.7 703.8,93.3 702.7,93.8 701.2,94.5 699.7,95.5 692.5,83.5 673.8,103.9 645.5,129.5 647.2,128.6 647.8,128.0 648.8,126.8 649.5,125.5 650.4,124.2 671.2,107.8 678.5,112.8 680.1,111.8 680.9,110.7 681.7,109.4 683.1,107.8 705.0,92.0 703.4,93.5 702.8,94.9 702.2,95.8 700.7,96.8 687.9,120.8 657.8,134.3 659.0,132.8 660.0,132.2 660.9,131.1 687.0,98.2 689.5,82.7 695.0,94.6 723.5,90.7 682.9,98.6 663.9,125.3 662.9,127.0 662.0,128.1 660.6,129.0 655.0,139.3 644.7,123.7 642.5,126.8 665.2,103.2 705.9,95.2 711.3,91.4 672.2,104.7 667.1,107.0 704.0,82.8 702.5,84.2 701.6,85.2 700.6,85.7 699.5,86.4 697.8,87.5 674.6,111.3 684.3,96.8 669.7,110.0 685.9,112.7 715.8,80.2 683.8,116.7 643.6,147.5 665.5,108.8 676.5,109.3 663.3,115.5 640.2,149.4 710.2,77.3 665.0,126.7 714.9,80.2 695.3,98.2 694.3,99.3 694.0,99.7 693.2,100.7 692.1,102.2 691.1,103.1 697.6,90.9 654.2,139.4 689.4,98.3 640.2,142.8 660.7,117.5 659.6,118.2 658.7,119.6 657.9,120.4 657.0,121.2 655.7,122.2 698.6,105.6 686.0,110.5 684.7,111.6 683.8,113.2 682.7,114.2 681.2,115.6 680.2,117.1 679.1,117.9 652.0,129.6 694.3,106.2 642.9,150.2 687.5,113.4 664.2,97.2 678.9,90.8 648.3,127.9 667.4,110.6 675.4,123.3 670.3,121.3 647.8,116.3 645.0,137.0 686.6,109.1 687.9,108.3 689.2,107.2 690.7,106.1 692.0,104.5 692.8,103.4 694.0,102.8 652.2,128.0 701.4,118.6 653.1,133.6 670.7,123.9 626.5,147.9 649.2,142.0 634.3,133.4 697.8,115.6 708.3,114.0 692.8,126.1 677.9,103.3 672.4,103.1 661.4,133.5 709.7,92.8 666.7,126.8 700.2,94.4 699.0,95.5 698.1,96.1 697.3,97.1 638.3,143.3 659.6,125.2 646.9,119.9 690.9,93.8 690.3,103.0 689.2,103.5 687.8,105.0 687.5,105.5 669.9,135.4 668.5,136.6 667.2,138.2 665.5,139.9 712.4,109.4 674.2,126.8 702.7,95.6 640.4,121.4 646.8,121.0 693.7,98.7 658.9,136.4 712.2,80.8 715.4,87.7 630.5,150.7 631.3,149.2 632.3,148.5 633.6,147.2 634.6,145.8 635.3,145.2 707.6,84.5 714.2,75.9 684.5,107.1 685.7,105.9 686.6,105.3 688.2,103.8 689.0,103.3 690.1,101.7 671.5,131.1 706.2,88.3 658.7,132.8 715.7,70.5 690.9,104.5 689.8,106.3 689.1,107.9 687.4,109.0 686.2,110.4 685.1,110.8 684.4,111.6 663.2,127.0 663.7,126.3 665.2,125.5 666.2,124.4 696.1,110.4 698.6,97.6 717.8,75.8 697.9,115.4 667.7,98.3 690.4,102.0 658.9,121.3 700.8,89.0 702.1,88.2 702.9,87.3 704.4,85.9 632.7,149.8 633.6,148.1 634.6,147.1 635.0,146.3 636.0,145.0 636.7,143.9 638.4,142.8 639.6,142.0 632.7,130.0 654.6,138.9 653.7,140.3 652.6,141.4 651.5,142.7 650.7,143.5 706.2,95.8 713.4,79.1 640.7,151.5 674.4,115.2 647.8,113.8 702.4,120.5 671.7,117.1 721.3,79.7 657.9,121.2 684.9,105.9 676.7,116.8 676.8,103.1 663.2,113.6 662.6,114.6 661.9,115.5 660.8,116.6 659.8,117.7 658.8,118.8 657.8,120.3 676.6,112.0 704.4,81.6 705.5,80.8 706.7,80.0 708.3,78.6 708.7,78.2 709.3,77.1 660.8,119.7 636.7,147.5 671.1,126.9 652.3,120.1 689.7,100.0 660.0,122.8 647.9,131.0 638.9,113.6 664.5,106.7 666.0,106.1 667.2,104.9 668.4,104.4 670.0,103.1 670.7,102.3 671.9,101.7 672.7,101.0 677.2,126.9 688.4,112.6 664.8,111.4 714.9,73.6 712.4,96.4 702.3,102.9 701.2,104.0 699.7,104.9 698.9,106.0 697.2,107.3 695.6,109.0 670.2,124.7 652.2,137.1 653.6,136.2 654.5,135.6 655.4,133.7 656.2,132.1 656.7,131.6 657.0,130.8 641.3,127.8 705.7,83.7 676.9,101.9 675.3,103.0 674.2,103.7 673.5,104.7 672.8,105.1 672.3,105.8 671.0,106.6 670.1,107.8 671.4,120.4 670.6,122.0 670.1,123.4 669.1,124.1 668.3,124.8 667.6,126.4 666.4,127.9 660.8,124.0 684.7,108.6 681.2,123.6 710.0,84.0 711.0,82.9 711.7,81.6 712.7,80.2 713.8,79.7 715.1,79.2 716.5,78.0 712.4,114.9 710.5,79.7 657.0,124.4 635.8,150.8 634.3,152.3 634.0,152.7 632.7,153.8 640.4,138.8 710.7,83.5 682.3,120.0 666.1,118.6 713.4,77.0 669.8,134.1 668.5,97.6 691.4,91.4 675.8,117.4 653.4,133.0 675.8,114.7 677.4,113.6 678.2,112.3 679.5,110.6 680.2,109.3 712.7,110.6 712.9,90.4 672.9,123.8 651.5,123.7 632.6,140.8 690.9,108.4 667.0,121.8 651.4,125.8 651.7,125.2 652.6,124.6 653.8,123.2 654.3,122.6 654.9,121.9 682.2,104.5 655.9,131.9 662.4,125.7 675.4,120.7 663.5,129.4 716.5,105.7 664.4,134.3 698.7,92.5 697.6,94.2 696.6,95.2 696.0,96.4 694.6,97.7 675.1,124.3 672.0,104.8 671.1,105.9 670.2,106.7 669.6,107.8 702.4,109.1 712.5,84.9 713.3,83.8 714.3,82.5 715.4,82.1 716.7,80.4 652.1,123.9 717.0,81.7 639.0,122.3 651.8,140.3 666.3,136.3 686.1,85.1 687.5,84.3 688.8,83.1 689.5,82.5 690.2,81.6 659.3,118.7 675.6,98.3 660.7,123.3 659.5,124.1 658.3,124.9 657.3,125.8 655.9,126.7 654.4,127.9 653.1,129.0 667.3,113.0 679.0,113.8 672.7,100.4 706.7,87.3 677.6,113.9 657.2,139.0 651.7,140.5 694.4,99.0 694.9,98.0 695.9,96.4 697.2,95.4 698.8,93.7 700.2,93.0 669.9,106.8 674.1,122.8 674.8,121.6 675.7,120.9 676.4,119.5 677.5,118.0 678.8,117.0 679.6,116.3 707.7,77.1 719.7,80.8 707.7,108.4 695.6,83.1 676.0,115.5 640.2,152.8 690.5,118.5 703.1,85.4 701.8,86.6 701.4,87.7 700.9,88.2 699.3,89.8 698.3,90.1 697.5,97.6 704.5,108.9 644.8,138.8 650.4,137.3 663.1,97.6 683.8,89.2 681.7,104.7 662.9,134.3 679.3,108.5 705.3,91.7 706.3,90.4 707.5,89.1 709.0,88.0 710.2,86.9 693.3,83.7 697.1,92.6 702.9,107.1 647.9,132.5 661.7,134.9 639.1,118.9 674.7,104.5 712.3,110.5 714.5,89.3 671.1,98.0 670.3,99.2 669.2,100.1 668.7,100.9 668.1,101.8 667.2,103.3 666.0,104.3 650.2,131.4 651.2,129.8 652.0,129.0 652.6,127.7 653.0,127.2 698.4,116.6 650.2,142.1 657.1,127.8 641.3,114.5 668.1,100.0 706.6,105.7 638.9,144.2 710.0,109.5 649.2,123.9 688.5,84.2 649.4,142.7 667.8,100.9 647.8,111.3 699.7,118.3 700.9,79.2 664.0,108.3 679.7,100.9 662.1,115.6 661.1,117.2 659.9,118.0 659.1,118.9 657.5,119.9 659.7,116.7 693.7,81.0 661.4,134.0 662.3,133.2 663.3,132.5 664.3,131.6 701.9,80.1 713.3,99.4 713.8,98.3 714.4,97.6 715.0,97.0 716.5,95.3 717.3,94.2 718.7,93.0 671.7,114.4 670.5,115.2 668.7,116.3 668.1,117.5 666.8,118.6 665.8,119.5 664.6,120.8 716.9,79.0 712.1,103.7 697.3,97.9 700.2,81.5 681.7,103.4 650.7,133.8 669.1,93.8 678.1,118.2 670.6,111.3 679.7,106.2 678.7,106.8 677.9,108.1 676.9,109.2 676.0,110.7 667.1,136.1 662.6,107.3 638.2,140.1 648.6,129.2 704.0,82.7 705.7,85.6 699.5,101.7 698.8,102.5 697.9,103.7 696.4,105.0 656.4,124.0 657.5,122.7 659.2,121.4 660.5,120.4 661.9,119.4 663.4,118.0 664.8,117.0 665.7,115.4 704.8,111.2 629.0,150.5 714.1,74.5 718.7,104.1 664.4,103.4 653.0,135.1 699.8,95.1 691.0,83.3 692.2,81.6 693.4,80.9 694.7,80.3 695.3,79.8 686.0,88.2 678.6,122.2 678.8,121.1 680.1,120.2 681.6,119.1 681.9,118.3 721.3,91.2 720.9,92.0 719.9,92.8 718.8,93.9 717.3,95.4 716.3,97.0 715.2,98.0 714.7,99.2 681.9,105.2 683.1,104.4 684.2,103.7 685.5,101.9 686.3,101.0 687.5,99.5 634.4,147.2 655.0,133.2 639.8,146.4 656.8,114.4 667.7,120.3 668.9,114.5 696.0,112.9 708.7,85.8 685.2,121.6 691.4,95.5 690.2,96.7 689.2,97.5 688.2,97.8 687.3,99.4 685.9,101.1 684.7,101.9 683.7,102.6 640.3,144.5 673.1,100.5 721.6,90.6 675.0,113.6 668.1,101.0 673.4,116.3 684.4,118.7 660.8,126.6 695.7,109.7 640.4,151.7 710.2,81.0 715.3,97.0 650.7,129.6 653.2,106.7 698.0,87.1 698.9,86.5 700.1,85.1 701.7,83.6 702.6,82.1 680.8,99.3 647.7,121.7 642.0,136.8 672.6,129.8 634.1,149.3 704.7,121.1 673.8,119.8 686.6,123.9 679.3,116.2 636.7,138.1 676.4,103.1 662.4,111.4 710.1,82.5 674.8,121.8 673.4,122.6 672.0,123.1 671.1,124.6 669.4,126.4 668.4,128.2 698.2,113.3 696.7,114.2 696.1,114.9 695.4,115.4 632.3,142.0 701.0,98.1 666.8,106.3 699.5,93.7 658.4,115.7 685.5,101.2 683.9,102.4 683.1,103.4 682.0,104.0 680.4,105.4 679.9,106.5 679.0,107.4 678.1,108.3 666.7,121.9 715.7,81.2 712.1,89.8 726.1,92.8 696.3,114.9 644.4,125.0 707.0,99.1 690.5,84.2 691.3,82.7 691.9,81.9 693.1,80.9 694.4,80.2 695.4,78.4 696.4,76.9 665.0,113.9 716.3,104.7 678.8,115.7 693.7,80.6 695.5,98.4 694.6,99.2 694.2,99.7 692.6,100.5 697.7,95.6 692.0,110.2 671.1,121.0 670.0,122.0 668.8,123.1 667.7,124.0 666.8,124.6 665.6,125.2 664.6,126.1 665.0,108.5 690.1,82.0 691.6,89.2 702.7,110.7 710.3,82.4 709.2,83.1 708.3,84.1 707.6,85.2 706.2,86.1 705.1,86.9 688.1,103.5 640.2,134.1 656.4,111.8 662.6,106.0 647.3,111.4 647.9,142.5 690.2,111.5 655.2,141.7 694.8,92.6 634.9,139.2 697.8,94.2 703.7,84.9 697.1,82.3 696.6,83.3 694.8,84.7 694.2,85.4 692.5,86.5 672.3,127.2 696.0,99.0 639.6,138.6 693.7,88.9 685.1,99.1 712.1,90.4 661.9,111.0 635.9,149.3 643.7,132.3 631.0,149.4 687.4,89.0 643.9,133.6 680.7,101.1 652.5,131.6 664.0,128.2 710.7,80.7 672.6,107.0 668.1,109.9 667.5,110.6 666.4,111.6 665.6,112.9 661.8,112.1 680.7,113.3 679.5,100.3 687.4,94.0 711.7,82.3 700.2,90.4 678.9,110.9 642.6,113.8 716.6,95.3 662.1,135.3 642.0,133.9 719.3,87.6 718.5,88.2 717.2,89.1 716.0,90.7 715.1,91.0 714.3,91.7 713.2,92.6 711.9,93.1 698.5,113.4 699.9,112.7 700.9,111.6 701.8,110.5 703.4,109.6 704.8,108.6 704.0,94.0 687.9,115.1 632.8,142.2 664.3,140.3 659.3,127.4 647.7,134.9 662.8,134.0 650.4,141.5 687.9,103.9 669.7,129.9 707.2,85.9 706.5,86.8 705.4,87.8 704.2,89.1 703.3,89.6 701.9,90.9 701.1,92.3 699.7,93.4 703.5,122.4 675.9,103.3 685.4,85.7 655.2,128.8 683.1,92.0 697.7,82.3 660.4,111.5 709.1,89.1 711.4,96.9 710.5,97.8 709.9,98.6 708.9,99.6 636.2,145.6 666.5,134.9 703.9,81.8 718.9,96.2 646.8,120.0 644.6,138.5 643.8,139.8 642.9,141.1 642.3,142.5 640.9,143.9 640.4,145.2 687.1,94.2 680.0,125.6 668.7,118.1 667.8,119.2 667.2,119.7 665.9,120.6 664.8,121.4 664.2,122.6 641.0,143.9 653.0,131.9 668.2,130.3 687.2,107.8 648.7,135.7 712.8,75.5 713.5,74.2 714.4,72.9 715.9,71.7 672.0,107.9 689.6,84.1 723.0,91.0 683.6,90.5 637.0,152.7 635.1,155.1 671.7,108.8 660.2,137.0 658.7,138.4 657.8,139.6 656.9,140.3 655.6,141.6 654.4,142.7 653.4,143.9 654.6,113.1 639.6,136.0 686.3,113.3 686.7,112.9 687.9,112.2 689.0,110.9 689.8,109.7 690.3,108.7 691.8,107.6 693.0,106.6 636.1,122.3 722.1,90.0 638.2,135.9 697.2,112.2 631.9,147.4 685.0,97.4 702.1,87.5 683.0,122.2 640.7,144.2 641.6,142.8 643.3,141.1 643.8,140.0 651.4,130.1 662.4,98.3 700.5,95.9 701.4,94.8 702.6,93.5 704.2,92.3 649.7,118.7 664.1,118.9 686.7,96.9 688.2,119.0 652.7,124.9 642.6,139.8 698.2,113.1 701.3,86.1 700.4,86.4 699.2,87.5 698.7,87.9 697.5,89.3 696.6,89.8 695.7,90.9 694.4,91.7 718.3,88.0 719.5,84.6 640.3,138.6 647.8,136.0 689.9,94.9 691.0,93.7 692.0,92.6 692.6,92.0 692.9,90.8 693.7,89.9 661.6,112.0 711.2,105.5 686.2,93.2 681.7,104.9 660.3,115.0 701.8,75.2 656.6,115.1 655.3,116.4 654.4,117.9 653.3,118.7 653.0,119.8 651.4,121.3 671.2,133.2 658.6,112.2 646.8,121.4 642.3,130.4 694.4,105.6 698.7,99.3 670.9,109.9 701.8,92.5 702.5,91.4 703.9,91.1 704.4,90.1 705.6,88.6 706.9,87.0 707.8,85.9 708.3,84.4 676.5,116.7 675.3,117.9 673.9,118.6 673.4,119.4 672.4,120.1 671.0,121.4 669.8,123.0 693.0,88.0 645.3,126.0 716.0,77.8 717.4,76.6 719.0,75.1 719.9,74.1 721.1,73.3 722.0,72.0 675.4,102.3 674.1,103.1 673.2,103.8 672.5,104.7 672.1,105.6 671.4,106.9 670.5,107.6 713.9,74.8 715.2,73.1 707.3,88.7 653.9,124.3 698.8,89.0 659.2,138.9 677.9,112.3 723.6,85.7 664.9,125.7 668.1,125.0 679.7,122.6 707.8,88.4 683.4,112.1 661.5,128.2 688.9,93.4 697.8,124.5 670.5,114.8 652.9,121.6 635.7,148.3 636.9,147.3 637.9,146.0 638.7,145.1 639.1,143.9 639.8,143.2 640.6,142.7 701.6,105.7 700.5,107.1 699.1,108.7 698.2,109.7 697.5,111.1 696.3,112.8 695.4,113.9 694.0,114.9 711.0,92.6 639.3,145.7 671.2,114.7 689.3,117.0 655.1,134.6 670.7,119.5 688.6,101.4 664.8,127.5 663.9,128.6 662.2,130.1 660.6,131.3 659.3,132.7 680.4,118.2 701.5,90.4 692.9,123.8 663.0,129.3 700.1,81.0 711.7,81.2 710.6,81.9 709.2,83.6 708.6,84.8 699.1,104.4 718.7,85.3 664.6,128.1 666.1,126.9 667.5,125.5 669.0,124.1 669.6,123.0 671.1,122.0 671.8,121.4 673.2,120.6 640.9,151.4 640.1,152.3 639.0,153.3 637.9,154.1 679.3,102.8 682.0,118.0 680.8,119.2 679.0,120.4 678.2,121.6 677.0,123.0 643.8,136.1 660.1,144.3 652.9,130.5 694.5,95.2 708.0,91.3 639.1,129.2 654.7,128.6 655.4,128.3 656.8,127.4 657.2,126.3 658.0,125.1 659.2,123.5 704.5,81.1 704.8,80.8 705.7,79.2 707.1,77.9 707.5,77.1 708.5,75.5 710.2,74.4 705.2,88.1 661.3,100.8 645.1,133.4 685.0,103.4 635.5,136.8 700.2,113.0 680.7,105.4 682.0,104.5 683.2,103.7 684.4,102.7 686.0,102.1 674.8,107.6 673.7,108.9 672.2,110.3 671.1,111.2 670.1,112.8 669.5,113.5 668.5,114.7 670.2,102.6 684.8,113.3 722.6,73.3 665.4,108.3 648.2,137.1 651.9,122.5 653.3,115.5 651.6,116.3 650.5,117.6 650.0,118.8 648.7,120.1 647.4,120.8 646.3,121.8 645.2,123.0 636.4,132.1 700.7,87.7 660.7,121.7 660.3,122.3 659.8,123.6 658.1,124.7 657.6,125.3 656.3,126.3 655.2,127.0 654.8,127.5 690.6,107.5 691.2,106.3 692.3,105.7 693.4,104.5 694.6,104.0 695.2,103.2 693.0,124.0 636.2,152.0 635.4,153.2 634.5,154.3 650.5,112.4 690.1,89.9 693.8,87.8 693.2,84.0 701.5,111.8 659.1,118.7 660.5,117.8 661.5,117.2 662.9,116.4 659.6,130.1 705.7,119.6 690.8,101.7 646.1,114.7 705.2,84.4 706.3,82.8 706.7,82.3 708.3,81.0 709.1,80.4 656.4,107.9 640.8,152.1 630.9,146.4 649.8,107.9 714.8,84.4 713.7,84.8 712.7,85.7 711.9,87.2 671.3,112.6 635.9,136.1 707.2,94.9 706.8,79.3 640.4,130.4 690.8,106.2 695.5,98.3 703.9,92.0 695.2,113.5 705.5,101.1 647.6,126.8 685.2,110.0 702.6,83.4 644.2,130.0 659.2,135.5 656.6,129.1 655.1,130.6 654.1,131.0 653.8,131.6 652.9,133.0 648.3,112.8 696.3,105.1 632.7,152.4 706.8,93.3 682.7,108.8 684.1,108.0 685.1,107.4 686.7,106.5 687.2,105.3 688.5,104.8 684.7,111.0 658.3,128.8 656.7,129.8 655.7,131.4 654.4,132.5 653.3,133.4 651.6,134.7 649.1,132.7 707.1,79.7 705.6,80.6 704.8,81.9 703.9,82.7 707.6,96.3 708.9,95.3 709.7,94.1 710.4,92.9 711.2,92.3 712.3,91.0 682.7,119.2 639.9,138.2 656.1,115.9 698.0,93.9 707.2,78.3 704.2,96.4 705.3,95.8 706.2,94.7 707.2,93.5 707.9,92.1 650.2,124.0 633.6,148.5 634.8,147.2 635.2,146.6 636.1,145.9 637.3,144.6 666.8,108.8 685.2,98.5 651.9,107.8 673.3,127.7 710.1,89.1 680.4,99.3 681.7,98.4 682.7,97.2 683.1,96.4 684.6,94.9 685.7,93.9 687.0,93.1 688.0,92.5 683.4,103.5 682.6,104.1 681.1,105.0 680.3,106.3 649.5,130.7 708.9,86.0 717.2,79.5 704.1,77.5 691.0,87.9 691.6,87.1 693.0,85.8 694.1,84.8 695.5,83.3 696.1,82.6 694.8,106.1 702.5,106.9 675.2,105.2 666.3,128.2 695.0,94.2 645.8,119.2 672.0,115.6 697.2,118.4 671.5,127.8 672.3,126.4 673.0,125.9 674.3,125.3 675.1,123.8 689.7,97.0 688.3,109.1 687.4,110.4 685.7,111.7 685.1,112.3 684.6,113.5 684.3,114.0 699.9,114.3 664.9,126.0 699.6,107.2 702.2,99.0 701.4,99.8 699.9,100.7 698.7,101.5 696.8,103.2 695.6,103.7 694.3,104.6 692.9,106.0 701.8,122.9 682.4,117.5 677.4,97.2 678.2,96.3 679.8,95.2 680.6,94.5 681.9,93.5 683.4,92.0 640.7,146.4 663.6,136.2 654.3,138.3 699.9,87.7 701.3,86.7 702.0,86.1 703.3,85.1 703.6,84.8 704.2,84.0 702.7,113.5 668.9,111.4 684.3,113.5 680.3,122.1 675.5,106.3 648.2,134.7 643.9,149.2 643.2,150.4 642.6,151.4 641.3,152.5 640.5,153.4 640.1,154.2 681.8,120.1 679.4,102.7 630.1,151.4 629.3,151.9 627.9,153.1 626.8,154.3 640.5,151.5 642.2,133.8 645.4,129.7 646.1,128.4 646.7,127.5 647.8,126.7 649.2,125.5 650.0,124.0 694.1,89.6 691.3,100.3 682.7,100.1 651.7,111.8 650.7,112.9 649.4,113.9 648.0,115.0 671.5,124.4 681.2,100.1 640.5,135.7 640.9,130.6 642.0,130.1 643.2,128.9 645.0,127.5 646.0,126.6 647.4,125.7 662.7,126.6 682.5,98.8 691.0,101.5 700.6,107.8 643.4,131.0 644.9,130.3 645.8,129.4 647.2,128.7 647.8,128.0 693.7,91.9 650.7,125.0 656.1,132.1 670.2,107.7 705.7,97.4 657.4,135.8 663.2,130.1 661.3,103.3 696.7,121.2 658.2,111.1 717.7,76.3 677.0,118.0 706.7,93.4 703.4,82.5 709.0,76.3 658.1,120.8 709.5,106.9 656.7,115.7 626.5,152.7 685.3,123.8 701.8,97.8 703.2,97.2 704.0,96.2 705.1,95.0 706.1,94.2 707.5,92.7 708.3,91.9 708.8,91.1 664.2,127.3 669.6,111.1 669.2,111.8 667.9,113.0 667.0,114.2 670.9,105.3 681.3,114.5 638.2,138.1 690.3,88.3 676.7,107.1 682.8,118.6 690.4,94.5 689.3,95.9 688.1,97.2 686.7,98.7 685.7,99.5 684.5,100.6 683.4,101.7 672.2,103.7 710.2,84.0 709.2,84.5 707.9,85.3 706.6,85.9 704.7,103.5 685.4,102.0 668.7,126.7 669.4,125.2 670.4,124.3 671.2,123.2 672.9,121.8 673.9,120.7 675.2,119.4 676.0,118.6 651.4,126.6 652.2,107.0 664.4,134.7 665.7,133.3 666.6,132.3 667.5,130.9 669.1,129.9 669.9,129.4 670.3,128.4 671.4,128.0 684.6,116.9 701.5,89.2 700.9,90.5 699.4,91.9 698.0,93.3 696.6,94.5 695.8,95.6 694.5,96.9 682.1,114.1 682.7,112.6 683.6,111.9 684.2,111.4 685.6,110.0 691.3,99.3 711.6,107.2 705.0,98.1 697.2,85.6 644.8,142.5 645.9,141.5 647.0,140.2 648.7,138.8 649.6,137.8 650.6,136.8 651.8,135.6 642.0,139.7 708.4,91.2 707.7,104.0 693.4,106.4 699.4,107.4 640.3,139.2 682.0,123.7 663.5,110.6 716.2,104.0 707.6,79.4 717.7,90.3 717.1,91.0 716.4,91.4 715.1,92.7 713.8,93.2 713.2,93.6 712.2,93.9 669.2,110.7 692.9,82.3 675.0,119.5 675.9,118.9 677.4,117.4 678.6,116.4 679.6,115.3 680.4,114.2 681.4,113.0 682.7,111.5 648.5,116.5 677.2,116.7 717.6,74.7 649.1,137.4 656.7,136.1 670.3,106.8 697.7,111.1 701.5,90.1 702.5,89.3 703.5,88.3 705.0,86.6 705.9,85.7 707.1,85.2 708.2,84.7 636.6,125.9 686.2,110.8 684.9,111.4 683.9,111.8 683.4,112.4 681.9,113.6 641.8,137.0 696.1,81.3 692.4,102.0 675.6,130.1 714.6,92.4 702.6,113.7 660.8,106.2 683.0,107.6 699.1,82.0 687.0,111.1 684.0,104.2 631.6,152.2 637.9,140.9 677.5,113.4 692.1,113.3 693.0,115.2 698.6,98.4 680.3,109.2 712.2,73.4 693.6,89.9 719.9,92.0 699.3,101.6 640.4,113.1 655.2,125.5 706.5,78.5 687.4,115.2 688.7,114.3 689.7,113.8 690.9,113.0 692.3,111.6 693.7,110.7 657.7,116.7 672.5,102.8 707.1,77.2 647.5,119.9 699.0,80.2 634.0,151.6 666.3,127.9 638.0,133.2 676.5,104.2 675.8,105.1 674.4,106.4 673.7,107.4 672.2,108.4 655.9,134.9 677.8,104.8 663.4,103.6 664.4,102.3 665.7,100.8 666.7,99.8 667.5,98.8 668.6,97.7 669.5,96.6 670.8,95.8 702.7,87.5 711.7,94.0 702.5,88.9 671.3,125.5 690.3,96.5 706.7,95.4 721.1,102.4 687.3,95.5 698.6,119.6 643.2,126.6 645.7,140.7 704.3,78.5 683.6,109.8 682.2,111.0 680.6,112.2 679.5,113.7 679.2,114.7 677.9,115.6 677.2,117.1 676.6,118.5 672.3,113.8 688.1,113.2 687.7,114.3 686.4,115.6 684.6,116.6 683.3,117.0 683.1,117.8 681.3,118.9 680.3,120.1 660.3,129.7 671.5,107.9 671.9,107.4 672.8,106.3 674.1,105.3 675.2,104.7 676.2,103.8 677.6,102.6 678.7,102.0 701.6,89.3 664.8,113.1 711.8,96.9 714.4,112.7 681.9,111.4 694.9,90.2 689.9,105.0 704.2,78.6 674.4,96.7 668.6,130.0 667.4,131.0 666.6,131.5 665.9,132.0 664.5,133.1 663.1,133.6 662.6,134.7 661.9,135.4 693.9,102.9 662.0,110.7 660.7,111.5 659.2,113.1 658.6,113.7 658.1,114.0 657.7,114.4 656.4,115.6 715.5,90.8 664.3,101.2 656.0,123.4 669.2,104.1 670.3,103.7 671.6,103.3 672.5,101.8 673.9,100.8 683.9,109.6 666.3,123.7 634.1,150.7 669.8,125.3 712.5,91.3 655.4,137.2 712.4,81.4 712.8,81.0 714.4,80.1 715.6,78.6 716.9,77.8 663.2,134.4 670.1,109.3 682.4,81.2 697.4,113.2 685.8,123.9 672.1,103.2 697.8,99.6 697.0,100.3 695.7,101.4 695.3,102.3 694.0,102.9 659.6,126.8 665.3,122.0 707.9,101.4 707.1,102.9 705.8,103.5 705.0,104.3 704.3,105.7 703.2,106.9 702.4,107.9 701.5,108.8 665.2,130.6 669.2,131.1 664.6,115.0 667.7,133.2 652.6,121.9 644.0,147.2 683.6,88.9 711.9,88.1 713.2,87.0 714.9,85.7 716.5,84.8 718.0,84.1 719.7,82.7 675.0,119.5 642.9,137.8 695.4,95.0 696.0,93.9 697.0,92.9 698.1,91.5 642.7,142.3 641.8,143.4 641.5,144.5 640.3,145.9 638.9,146.6 638.2,147.5 637.7,148.5 641.0,136.4 659.5,133.5 703.6,84.2 705.8,82.1 634.1,152.4 696.9,89.1 653.9,126.5 691.5,124.6 681.6,100.1 655.4,131.3 659.2,122.7 660.6,121.4 661.6,120.3 662.3,119.5 663.7,118.1 646.4,140.3 705.7,97.7 664.1,121.3 681.0,115.5 694.6,91.9 644.7,133.6 694.3,99.3 695.0,102.8 669.9,119.4 651.9,131.5 693.1,94.8 656.3,111.6 670.3,107.7 670.3,107.5 663.9,110.6 664.5,110.0 665.8,108.6 666.8,107.1 667.2,106.1 668.4,104.8 726.1,98.4 710.9,113.6 688.2,98.7 669.0,121.6 681.2,123.8 694.3,77.2 636.3,138.5 678.5,116.5 679.3,115.1 680.1,114.3 680.8,113.2 682.2,112.4 682.7,111.9 683.9,110.9 671.7,109.2 711.3,82.3 673.9,118.4 686.0,91.0 643.6,114.0 646.1,142.2 698.9,89.3 699.3,88.1 699.9,87.2 701.5,86.0 702.9,84.9 704.2,84.1 704.7,82.8 705.3,82.0 668.7,122.5 669.5,121.0 671.1,119.5 671.7,118.2 672.6,116.9 674.0,115.8 674.8,114.7 651.7,141.8 653.4,140.0 654.3,139.2 655.1,138.0 656.8,137.0 658.0,136.7 701.7,92.6 680.6,126.4 693.6,111.6 683.8,91.6 687.5,84.5 660.9,137.0 654.5,105.1 693.0,85.3 637.8,149.7 638.5,148.7 639.8,147.8 640.6,147.2 641.0,145.9 641.8,144.5 642.2,143.6 657.2,124.8 696.3,98.2 694.6,99.4 693.7,100.9 692.6,101.6 691.8,102.7 690.4,103.6 711.9,90.9 640.5,150.0 639.8,151.2 638.6,152.1 637.6,153.3 636.8,153.7 635.3,155.1 649.5,134.6 704.8,85.7 645.6,137.2 635.0,150.0 636.2,149.3 637.0,148.8 638.2,147.3 638.5,146.7 638.9,145.7 639.5,145.0 716.2,90.0 716.9,88.5 718.1,87.2 719.1,86.5 720.4,85.7 721.7,84.4 722.1,83.9 642.7,119.0 671.4,105.6 677.1,111.2 681.8,101.2 688.8,100.4 691.6,98.3 692.3,91.6 643.0,148.6 639.5,137.8 691.5,87.1 692.9,107.2 684.0,100.4 692.9,120.7 693.7,98.3 637.8,142.8 652.7,138.8 653.9,138.1 654.6,136.9 655.5,135.6 656.5,135.2 657.9,134.3 658.4,133.7 658.7,133.2 699.9,96.9 636.1,141.5 670.9,123.8 670.1,125.2 669.4,126.7 668.3,128.3 667.1,129.6 665.6,130.6 664.4,131.9 662.6,133.0 668.7,128.8 693.0,100.3 711.3,83.8 634.0,145.2 636.4,149.9 698.4,99.2 699.4,98.9 700.5,98.1 701.8,97.4 702.0,96.7 703.1,95.8 704.2,94.9 698.9,112.3 699.5,91.3 669.9,134.7 687.5,120.7 692.7,116.8 698.5,91.3 704.8,79.6 706.0,79.0 706.6,77.9 707.5,76.9 708.4,76.5 640.4,136.7 671.9,115.9 684.0,113.3 676.8,117.3 687.1,112.7 706.1,99.5 692.3,126.9 654.8,127.9 654.2,128.3 653.0,129.0 651.9,129.8 650.9,130.4 649.4,131.7 648.9,132.6 717.0,92.7 676.6,110.7 676.7,98.7 699.9,92.6 699.1,93.4 698.3,94.0 697.5,95.5 696.5,96.6 657.3,138.0 665.6,134.7 664.6,135.9 663.3,137.3 661.9,138.0 661.0,139.5 666.6,124.9 672.4,115.3 704.4,106.5 653.8,141.6 683.7,100.4 665.3,118.0 635.6,151.4 707.3,78.6 649.9,132.8 711.8,103.8 650.6,104.0 673.8,109.5 664.3,137.4 689.5,90.7 644.9,127.6 706.8,97.7 696.0,86.7 697.3,85.5 698.1,85.0 698.9,83.5 700.1,82.5 640.8,143.6 673.2,106.4 668.7,107.2 701.3,124.7 653.9,130.8 707.9,90.5 707.1,92.1 706.1,92.9 705.4,93.7 704.6,94.3 661.4,124.7 668.8,128.7 675.7,124.1 696.2,91.6 711.4,108.2 664.2,111.8 663.1,113.0 662.0,113.6 660.7,115.1 659.6,116.0 658.5,116.3 644.9,153.6 693.9,93.5 669.8,110.7 691.9,84.0 665.7,120.7 664.1,121.8 662.8,122.7 661.4,123.4 660.1,124.1 659.0,125.2 657.5,126.5 656.7,128.2 696.7,96.0 695.3,97.2 694.4,98.4 693.5,99.3 659.9,122.1 696.2,81.0 636.5,134.3 683.3,87.4 666.2,121.9 667.3,121.0 668.3,119.9 670.0,118.9 705.9,90.1 666.4,113.7 666.8,112.8 668.2,112.2 668.8,111.3 670.1,109.8 702.3,114.1 656.4,100.6 657.9,127.0 707.2,89.6 692.3,117.3 654.7,106.4 653.3,107.4 652.1,108.4 651.0,109.6 650.6,110.2 649.6,110.7 670.6,131.5 673.1,121.0 680.1,100.8 681.6,99.8 682.3,98.5 683.1,97.4 667.3,112.4 656.8,141.3 699.9,113.4 687.5,113.6 688.9,112.5 690.2,111.6 691.0,110.7 691.8,109.5 640.3,148.8 660.2,134.8 698.8,96.6 660.2,129.6 686.1,113.8 666.9,120.8 701.8,94.5 694.1,89.4 658.6,125.3 705.6,82.1 660.7,104.0 665.4,115.8 653.6,107.2 679.3,117.6 661.4,115.9 647.7,127.1 665.6,134.7 648.7,116.7 660.7,120.3 700.1,110.8 706.5,93.9 667.4,111.6 704.2,83.1 652.8,118.1 702.4,103.4 715.8,95.4 641.2,141.4 642.8,140.4 643.8,139.1 644.4,137.8 645.6,137.3 707.1,100.1 649.7,136.0 678.1,98.4 669.6,129.6 633.1,145.9 695.8,106.2 648.5,132.0 696.7,93.5 695.7,94.6 694.8,95.6 693.4,97.2 692.3,98.1 691.0,98.7 689.5,99.7 687.9,100.8 710.0,113.5 679.2,96.4 663.2,129.4 666.8,119.7 680.5,112.2 680.1,113.1 679.3,114.2 678.0,115.0 677.3,116.1 676.1,117.0 675.3,118.4 674.4,119.7 713.4,80.3 663.5,122.6 662.0,123.9 661.6,124.7 660.6,125.4 659.0,126.7 657.8,127.7 656.9,128.4 707.6,81.6 706.2,83.1 705.3,83.4 703.6,85.1 676.2,118.7 689.8,106.5 648.0,139.5 671.0,120.8 664.3,137.2 711.6,91.6 678.4,114.4 710.7,109.9 682.6,107.8 671.6,131.3 700.3,106.9 673.2,101.8 672.6,102.8 670.8,104.1 669.5,104.8 673.2,112.9 642.4,128.0 674.1,120.1 675.9,119.1 676.5,118.4 677.7,117.3 679.4,116.1 680.6,115.4 652.1,122.3 639.3,145.2 638.4,146.1 637.7,146.8 636.5,148.0 635.6,149.0 634.0,149.9 632.7,151.0 631.7,152.6 689.8,116.5 698.8,94.3 698.0,95.5 696.7,96.8 695.6,97.4 683.3,93.2 693.2,108.4 692.4,101.9 702.9,85.7 704.1,84.5 705.6,82.9 706.9,81.5 706.2,76.4 673.6,126.5 665.2,121.5 670.7,136.6 727.4,90.0 714.8,77.3 687.4,127.1 652.6,144.8 638.9,150.1 711.3,77.1 637.4,133.7 636.0,135.2 634.5,136.8 633.7,137.5 647.8,103.4 671.1,126.4 628.2,154.7 633.4,140.7 698.3,100.4 718.1,81.2 684.9,79.1 697.5,110.8 683.8,114.3 711.9,107.7 681.0,129.3 720.0,72.7 696.9,127.7 642.5,107.8 711.5,80.6 667.5,106.2 675.2,121.4 676.9,120.4 677.6,119.6 679.2,118.8 680.0,117.4 680.6,85.9 715.3,74.3 714.1,75.3 712.8,76.4 712.0,77.7 711.2,78.4 710.5,79.3 709.1,80.8 707.7,123.6 647.6,142.5 696.3,100.5 729.4,94.1 722.8,104.5 664.8,89.1 722.0,92.6 686.9,92.6 644.7,148.9 630.0,144.2 673.6,111.4 658.3,130.7 657.7,132.0 656.4,132.7 655.2,133.3 653.8,134.2 653.1,135.4 635.4,123.8 671.9,110.3 672.4,109.2 673.2,108.8 674.3,107.7 674.8,106.9 675.6,106.1 676.7,105.4 663.8,93.4 676.1,95.7 630.6,142.3 687.7,96.7 674.7,135.9 676.5,123.4 630.5,134.8 699.5,101.5 700.7,100.8 702.0,99.4 702.7,98.2 703.7,97.8 656.5,134.0 639.3,143.2 663.6,108.0 693.1,132.3 636.7,140.3 643.7,142.3 521.7,94.0 554.4,77.9 527.6,109.9 570.1,124.0 581.8,113.6 586.8,109.4 587.6,110.6 590.2,101.0 606.6,93.2 601.5,106.1 606.6,105.7 598.9,118.3 593.5,124.0 591.5,126.2 604.4,123.7 604.9,130.4 610.6,115.3 617.0,104.9 621.6,98.2 625.0,104.4 618.3,113.6 617.0,117.8 624.5,116.1 621.6,123.7 617.0,131.2 616.1,133.7 626.7,121.1 632.4,114.4 633.7,123.7 629.0,129.5 629.0,136.7 624.5,145.8 613.9,151.3 610.3,152.5 626.2,153.5 637.9,88.8 647.1,89.8 649.6,86.8 641.2,96.9 663.9,87.6 670.6,80.9 675.3,143.4 642.1,158.8"/>
<path class="rl" d="M507.90 282.40L748.20 42.10"/>
<path class="ax" d="M507.90 41.60V282.40H748.70"/>
<path class="tkm" d="M507.90 282.40v-3.3M588.00 282.40v-3.3M668.10 282.40v-3.3M748.20 282.40v-3.3M507.90 282.40h3.3M507.90 202.30h3.3M507.90 122.20h3.3M507.90 42.10h3.3"/>
<text class="tk" text-anchor="middle" x="507.90" y="302.90">-50</text>
<text class="tk" text-anchor="middle" x="588.00" y="302.90">0</text>
<text class="tk" text-anchor="middle" x="668.10" y="302.90">50</text>
<text class="tk" text-anchor="middle" x="748.20" y="302.90">100</text>
<text class="tk" text-anchor="end" x="500.60" y="286.90">-50</text>
<text class="tk" text-anchor="end" x="500.60" y="206.80">0</text>
<text class="tk" text-anchor="end" x="500.60" y="126.70">50</text>
<text class="tk" text-anchor="end" x="500.60" y="46.60">100</text>
<text class="lb" text-anchor="middle" x="628.05" y="321.90">Reference [mmHg]</text>
<text class="lb" text-anchor="middle" transform="translate(463.30 161.75) rotate(-90)">Predicition [mmHg]</text>
<text class="tt" text-anchor="middle" x="628.05" y="24.60">R<tspan font-size="14.2" dy="9.4">DABP</tspan><tspan dy="-9.4">: 0.86</tspan></text>
</g>
<g>
<path class="gm" d="M84.07 375.90V616.20M126.98 375.90V616.20M148.44 375.90V616.20M169.89 375.90V616.20M212.81 375.90V616.20M234.26 375.90V616.20M255.72 375.90V616.20M298.63 375.90V616.20M71.20 599.04H311.50M71.20 564.71H311.50M71.20 530.38H311.50M71.20 496.05H311.50M71.20 461.72H311.50M71.20 427.39H311.50M71.20 393.06H311.50"/>
<path class="gM" d="M105.53 375.90V616.20M191.35 375.90V616.20M277.17 375.90V616.20M71.20 581.87H311.50M71.20 547.54H311.50M71.20 513.21H311.50M71.20 478.89H311.50M71.20 444.56H311.50M71.20 410.23H311.50M71.20 375.90H311.50"/>
<polyline class="m" points="138.5,545.3 126.4,552.4 143.5,527.7 177.8,507.5 177.1,509.0 175.6,510.6 174.5,512.1 123.4,540.2 186.7,509.4 187.8,508.1 188.2,507.6 189.0,506.8 189.8,506.2 153.6,545.8 213.2,472.0 199.1,486.9 214.1,496.8 172.3,509.7 146.0,528.1 160.5,531.2 155.5,535.2 212.3,482.9 211.9,483.4 211.3,484.0 209.7,484.9 208.5,485.8 207.3,487.3 205.7,489.0 204.8,490.3 156.8,505.5 219.2,483.9 149.1,529.4 130.4,554.3 168.0,532.6 160.4,517.9 161.4,517.2 162.6,516.0 163.9,514.5 165.1,513.3 165.8,512.2 216.5,474.6 200.2,489.6 191.2,521.4 113.3,556.8 201.3,498.6 163.6,525.8 159.8,542.5 159.4,542.9 158.6,544.2 158.0,545.3 156.6,546.7 155.2,548.0 113.8,559.2 147.2,520.9 150.1,526.9 161.9,509.1 184.2,542.9 203.0,480.3 192.8,495.5 136.6,531.8 161.3,513.8 209.9,478.9 208.3,479.1 176.8,491.8 195.3,516.2 201.6,503.9 163.5,527.7 147.8,516.3 190.9,503.4 216.9,495.3 174.1,511.4 146.3,531.2 142.4,526.0 184.8,507.8 185.6,506.8 186.8,505.5 187.6,504.7 188.5,503.3 189.5,502.5 167.2,541.1 166.5,542.3 165.2,543.5 163.7,544.2 162.7,545.2 162.2,546.1 151.5,528.0 183.3,509.2 131.2,528.1 216.8,485.9 215.6,486.2 214.9,486.7 213.9,487.9 213.1,489.0 198.7,485.8 168.9,526.6 119.0,536.2 158.0,503.1 129.0,548.9 128.2,550.4 127.2,552.1 126.5,553.4 152.4,527.9 175.1,520.0 145.5,528.2 191.5,491.3 153.7,521.1 209.8,496.9 148.5,534.8 182.6,504.5 185.0,509.6 171.0,499.1 220.1,524.5 203.7,485.2 213.1,476.1 166.5,500.1 176.4,494.8 177.3,493.7 178.7,492.6 180.0,491.2 181.5,490.2 182.7,489.1 184.3,488.2 160.7,528.8 200.6,495.9 195.7,516.5 155.3,538.1 119.4,546.3 183.7,488.9 188.4,496.5 189.8,516.4 156.7,543.8 115.4,543.3 187.6,504.2 182.5,525.6 139.4,545.0 207.8,481.3 178.5,495.0 163.9,529.0 165.1,527.9 166.1,526.9 167.4,525.2 189.6,495.0 188.2,496.5 187.2,497.1 186.0,497.7 184.7,498.1 184.1,499.4 182.3,500.5 181.6,501.4 166.7,514.6 192.0,487.9 152.4,536.3 128.9,542.2 208.7,504.8 188.9,497.8 195.5,487.7 191.5,489.8 190.0,491.0 188.5,492.7 187.2,494.1 115.2,555.6 136.6,551.3 182.0,500.8 183.7,506.3 183.1,506.6 182.3,507.5 181.8,508.8 181.2,509.4 179.7,511.1 178.2,512.8 177.6,514.0 144.1,530.7 150.8,516.7 158.6,538.7 158.1,524.8 172.7,503.7 164.1,508.4 172.4,524.4 158.2,534.1 167.6,530.4 206.4,516.7 148.6,506.4 215.1,483.0 169.4,505.9 169.9,504.6 171.4,503.8 172.4,502.6 173.2,501.6 173.8,501.0 174.5,500.1 175.8,498.9 189.7,494.5 196.0,505.6 194.6,506.4 193.5,507.2 192.5,508.0 191.3,509.8 190.7,510.7 153.0,508.7 111.1,548.3 166.8,537.0 190.3,506.1 189.0,507.2 187.7,508.0 186.6,509.2 185.7,510.2 184.3,510.8 182.8,511.9 210.0,502.3 191.6,502.1 180.6,504.6 178.5,507.7 202.8,486.1 203.7,485.1 204.1,484.7 205.2,484.3 206.2,482.9 220.6,509.4 168.9,525.5 152.8,537.7 166.8,527.7 166.5,528.8 165.5,530.3 164.2,530.9 162.5,532.1 161.3,532.8 160.0,533.3 174.6,489.9 178.0,513.9 180.7,490.5 143.2,538.7 206.6,485.9 147.3,539.4 169.2,531.5 183.7,496.2 169.7,497.3 169.9,496.8 170.7,496.0 171.2,495.1 172.4,494.1 169.9,524.1 191.7,496.4 111.1,548.8 203.8,512.1 170.4,514.9 170.0,515.7 169.6,516.6 168.9,517.1 167.5,517.7 166.4,518.7 165.6,519.9 164.4,521.2 160.3,521.8 201.0,506.4 203.6,489.6 151.5,544.4 151.5,530.7 130.1,521.7 131.0,545.6 138.3,534.8 171.8,491.4 157.5,516.5 188.0,521.7 125.9,552.7 126.6,549.9 153.5,528.2 153.2,528.8 151.8,530.4 150.3,531.5 149.9,532.3 199.0,497.7 154.7,528.7 160.8,514.5 129.3,556.4 212.0,511.0 194.6,486.2 194.0,487.0 193.6,487.9 192.2,488.5 190.7,490.0 189.7,491.4 189.2,492.6 187.9,493.6 164.3,519.1 163.8,522.0 162.9,523.2 161.7,524.1 161.2,525.3 160.5,526.1 159.4,527.2 210.4,506.1 212.8,482.8 151.8,538.6 171.8,510.2 173.1,508.8 174.4,507.5 175.5,506.7 176.4,505.3 201.6,492.2 200.7,493.2 199.6,494.2 198.9,495.7 197.9,497.0 168.5,528.4 126.8,539.5 142.6,547.8 139.4,503.3 126.3,548.3 181.7,513.1 113.0,537.2 153.5,526.3 199.2,514.1 161.1,522.3 162.1,521.5 162.7,520.4 164.3,519.0 165.4,518.6 173.5,507.8 159.4,517.9 131.9,519.1 129.2,535.8 142.3,530.0 160.8,520.4 156.3,529.3 160.6,499.3 165.3,544.1 165.6,543.7 166.7,542.7 167.9,541.4 169.0,540.4 170.7,539.6 129.1,550.4 176.8,490.8 137.7,503.5 192.2,483.2 199.1,509.9 144.0,505.1 152.9,543.3 181.6,503.1 167.0,521.6 135.1,550.9 137.2,545.6 193.6,500.2 153.3,540.6 152.5,541.9 151.8,542.8 151.0,544.3 150.1,545.1 149.2,545.4 148.0,546.1 146.9,546.8 111.3,548.2 110.5,549.1 110.1,549.4 109.3,550.3 190.7,502.7 118.5,528.7 185.2,512.2 180.5,504.7 204.4,476.8 132.4,520.7 176.4,515.0 175.7,516.1 174.7,517.0 173.8,518.0 173.1,519.4 171.5,520.8 164.2,518.6 165.6,538.8 170.5,511.2 187.8,493.1 194.6,489.9 166.7,532.3 121.5,551.8 171.1,501.1 184.8,514.4 155.1,519.5 189.1,491.7 184.3,505.3 185.2,504.2 185.8,503.2 186.9,502.1 187.7,501.3 157.6,533.5 150.9,539.0 150.3,540.1 149.7,540.6 148.2,542.4 147.2,543.9 145.9,545.1 145.1,546.3 154.1,531.0 194.0,499.0 202.3,513.8 168.6,536.5 125.7,549.6 151.0,508.2 190.2,486.8 201.6,516.8 120.4,521.0 179.4,524.9 209.6,485.5 153.8,522.9 140.8,546.3 139.5,547.4 138.7,548.2 138.0,549.3 136.6,550.7 134.8,552.3 189.3,494.6 217.3,474.7 156.9,534.6 217.2,509.9 194.1,494.7 138.0,539.0 122.0,560.0 213.7,482.8 194.1,517.6 195.7,504.4 201.0,491.8 200.4,492.5 198.7,494.0 197.4,494.9 197.1,495.7 126.0,550.6 125.2,551.5 123.9,552.8 123.3,553.5 122.5,554.4 121.6,555.3 120.1,556.6 119.1,557.4 192.9,492.0 146.3,533.2 161.0,530.7 217.1,489.2 127.6,553.3 128.4,551.8 129.7,551.0 131.3,549.5 132.3,548.3 133.2,547.1 204.0,496.0 163.1,502.2 125.7,538.1 161.2,523.5 171.7,489.9 167.7,531.5 169.1,532.5 212.8,479.2 164.3,547.4 145.8,536.4 119.4,534.7 133.1,515.2 186.7,495.7 187.7,494.9 188.6,493.3 189.1,492.3 165.2,517.3 139.1,512.7 217.9,480.7 160.1,535.0 153.9,517.0 167.5,536.2 174.0,510.4 215.2,474.0 175.2,491.7 163.7,536.4 118.6,555.8 152.5,519.2 153.6,518.1 154.8,516.9 155.4,516.3 172.0,493.8 148.2,528.6 147.6,529.9 146.6,530.5 145.4,531.8 143.7,532.8 142.9,534.1 215.4,476.8 195.0,485.1 176.7,532.6 117.4,554.6 193.2,500.5 129.2,544.6 168.4,516.6 107.4,544.5 193.1,518.2 214.6,520.9 146.1,540.5 219.0,472.3 152.5,544.8 176.5,499.1 199.0,499.8 207.0,493.1 154.0,528.1 153.1,529.3 151.5,530.2 150.7,531.3 149.5,532.0 137.7,504.7 207.8,479.8 158.6,529.9 149.8,525.3 178.2,519.2 177.0,520.1 176.2,521.1 175.0,521.7 134.5,546.3 171.2,508.8 172.6,508.1 173.3,507.1 175.0,506.0 175.7,505.0 196.1,518.5 162.6,511.3 212.2,484.1 157.4,538.1 212.2,496.9 211.7,497.3 211.0,498.4 209.9,500.0 208.9,501.4 208.0,502.1 207.1,502.9 205.8,504.3 176.3,515.9 174.1,519.0 205.5,487.1 192.7,482.1 136.0,543.4 128.5,550.3 179.4,510.8 137.6,532.9 136.5,533.8 135.8,534.3 134.8,535.2 133.9,536.3 132.8,537.1 132.0,538.2 130.3,539.9 196.4,491.0 198.0,490.0 198.4,489.7 199.6,488.7 167.5,523.0 154.6,536.1 178.3,529.7 129.1,528.2 133.9,544.6 155.3,537.8 145.4,537.9 146.7,537.2 148.1,536.1 149.2,535.1 150.1,534.4 151.9,533.4 153.3,532.0 154.0,531.5 127.1,549.9 180.1,491.2 179.4,492.3 178.5,493.3 177.2,494.1 176.3,495.5 174.7,496.6 173.5,498.1 172.9,499.1 130.1,541.8 137.6,550.7 214.7,476.9 159.0,526.5 145.4,510.1 177.6,523.8 176.3,524.6 175.3,525.4 174.1,527.0 172.8,528.0 197.5,486.5 198.5,485.3 199.5,484.5 201.2,482.9 202.5,481.7 173.1,513.3 127.0,548.9 152.0,541.4 205.2,484.0 204.3,484.8 203.7,486.4 203.1,487.0 202.6,488.2 201.3,488.8 200.5,490.3 118.7,520.3 174.0,503.2 176.6,490.3 119.4,545.3 211.2,513.1 179.7,522.1 185.6,498.8 184.2,500.3 183.2,501.3 182.1,503.0 117.2,535.9 140.8,527.4 195.8,501.2 162.8,517.7 167.9,515.6 149.6,517.5 138.3,548.5 209.6,486.7 128.3,557.1 186.6,489.5 157.3,532.0 131.8,513.0 155.7,515.5 190.8,507.4 189.3,513.0 122.9,558.7 172.7,525.5 135.8,548.2 215.9,487.9 160.4,532.0 161.4,530.7 162.5,529.4 164.1,528.6 165.2,527.9 166.4,527.1 167.1,526.4 185.0,510.1 145.1,508.7 207.2,497.6 161.7,511.4 160.8,512.7 159.7,513.8 158.5,515.1 182.4,514.5 173.0,535.5 186.7,528.2 227.5,495.3 147.5,531.9 208.1,484.7 163.5,509.7 123.8,533.1 124.1,532.4 125.3,531.1 126.2,529.8 126.8,528.7 127.5,528.2 184.4,524.4 167.5,526.3 181.6,518.5 191.3,486.1 149.3,521.0 119.2,559.3 183.1,504.3 194.1,486.3 168.3,509.6 219.1,474.9 115.5,531.7 179.7,491.4 189.4,513.5 202.8,484.3 137.3,526.4 138.3,539.2 139.9,538.1 140.9,537.5 141.4,536.5 143.2,535.6 186.7,497.1 165.0,534.4 166.0,533.4 167.0,532.7 167.9,532.3 168.9,531.5 169.8,530.0 112.3,559.2 233.4,490.7 178.5,501.3 214.6,490.0 213.1,491.0 212.1,491.9 210.9,492.8 210.5,494.1 209.8,495.0 195.4,488.4 179.3,498.5 198.0,484.5 198.9,483.5 200.2,482.7 200.8,482.3 201.4,481.8 202.4,481.0 199.3,519.3 176.5,505.1 208.9,504.1 213.7,489.4 214.9,488.3 216.1,487.0 217.4,486.2 218.6,485.6 191.5,506.6 199.9,485.6 201.5,484.3 202.1,482.9 203.0,482.6 204.4,481.7 205.3,481.2 206.5,480.1 207.2,479.6 138.3,538.3 207.2,492.9 132.6,535.0 188.1,512.0 192.7,481.8 147.1,533.6 152.5,538.0 127.8,524.6 185.9,496.3 156.8,515.5 178.5,506.8 176.9,508.8 131.4,556.5 130.2,557.6 129.2,558.9 128.7,559.4 151.9,527.9 150.8,528.8 149.5,530.5 148.5,531.3 147.9,532.6 161.2,509.7 119.1,551.8 169.8,538.7 113.4,536.4 191.9,497.6 191.2,498.8 190.0,499.2 188.4,501.0 187.6,501.3 186.0,502.3 185.7,502.7 144.8,543.4 183.4,516.7 125.2,546.6 171.2,524.4 163.7,500.7 175.9,506.1 149.5,532.2 104.7,535.3 131.7,554.1 135.6,502.7 152.6,544.9 147.4,507.9 211.1,492.7 222.2,500.9 131.4,517.5 162.7,530.0 163.5,529.0 164.6,528.1 165.0,527.1 166.3,526.6 152.3,541.0 155.5,519.8 163.0,527.9 187.2,516.4 172.4,514.8 160.1,515.5 186.7,490.9 188.2,511.4 208.7,485.3 175.6,514.1 144.8,528.7 192.1,518.5 203.2,507.5 128.4,541.8 157.4,541.1 214.0,476.0 183.2,503.4 184.8,501.7 186.5,500.5 187.9,499.4 188.8,498.8 214.8,504.8 186.9,514.3 141.7,535.6 208.5,493.2 177.8,496.8 134.7,541.9 123.8,522.6 117.7,557.1 164.3,515.5 175.5,490.5 176.2,489.4 177.1,488.2 178.2,487.2 192.2,484.2 126.6,535.7 161.8,515.2 197.5,497.6 148.7,529.5 198.8,481.2 146.9,539.6 166.8,519.5 149.2,528.2 164.2,535.7 200.2,494.4 200.9,489.2 175.7,498.2 162.6,511.8 199.9,478.8 194.8,509.9 208.3,489.0 150.1,522.1 172.6,537.6 153.0,528.1 176.2,525.5 116.3,553.2 180.2,506.1 130.2,553.3 140.5,506.4 130.6,556.3 132.4,536.9 210.3,500.1 159.8,546.6 186.1,495.1 124.6,551.8 163.6,541.0 162.3,542.3 160.7,543.5 159.6,544.3 158.6,545.3 139.2,538.0 138.2,538.7 137.8,539.8 137.5,540.9 136.4,541.7 143.0,544.4 144.6,542.9 145.6,541.8 146.3,540.9 113.6,555.3 114.6,554.1 115.9,552.8 117.2,551.7 117.7,550.8 130.3,530.8 172.0,522.9 170.8,524.0 170.0,525.3 169.4,526.0 144.6,531.9 134.3,557.2 142.0,501.9 129.1,551.5 140.1,548.7 204.1,500.6 123.4,556.1 211.0,508.8 194.6,496.7 195.2,495.7 196.4,495.1 196.9,494.4 197.4,493.8 186.3,487.2 164.0,530.8 157.8,521.3 147.1,544.4 187.5,510.3 151.9,543.7 121.9,556.6 120.1,554.7 118.7,555.4 117.3,556.7 116.4,558.0 115.7,559.5 190.4,507.7 189.7,508.4 188.8,509.8 187.9,510.7 186.8,511.5 186.5,512.3 185.9,513.3 185.1,514.0 207.1,484.8 145.1,546.0 144.0,547.2 143.3,547.7 142.1,548.8 140.9,549.6 139.1,550.8 138.3,551.7 126.6,554.1 209.0,489.8 195.1,503.3 155.1,537.7 154.4,539.2 153.6,539.7 152.6,541.1 151.1,542.4 149.9,543.9 149.4,544.2 206.1,480.0 207.2,479.2 208.3,478.4 209.0,477.4 210.0,476.0 211.7,475.2 150.6,540.8 206.1,491.3 198.0,490.2 176.3,538.0 183.1,499.7 157.8,540.6 136.2,543.7 177.6,520.3 134.3,510.2 130.4,532.5 153.0,526.7 211.7,478.3 160.2,505.0 159.0,506.2 157.9,507.3 156.2,508.5 155.7,509.0 154.8,509.6 190.2,492.3 191.0,490.7 192.3,490.0 193.3,488.4 193.6,487.7 194.3,487.1 195.7,486.4 196.6,485.8 163.3,518.4 130.0,543.4 217.0,484.0 173.1,518.2 153.2,538.5 168.1,528.3 156.9,527.6 158.0,525.9 159.3,525.0 160.3,524.1 161.3,523.3 162.0,522.3 162.7,521.4 164.0,520.5 212.1,488.2 161.4,529.6 132.9,554.7 133.7,553.7 135.3,552.2 135.8,551.5 124.6,533.8 218.1,489.1 213.9,479.9 146.0,535.9 168.1,519.7 145.3,533.6 204.8,495.9 144.6,518.7 102.4,535.8 184.9,493.8 155.9,535.2 163.1,535.0 161.9,536.1 160.8,536.5 159.4,537.7 158.7,538.3 157.8,539.3 156.9,540.1 146.9,546.4 216.3,477.8 215.3,479.2 214.6,480.3 212.9,481.3 211.4,482.2 210.1,483.6 132.6,543.3 133.3,542.9 134.3,541.7 135.5,540.6 200.0,494.3 201.4,493.3 202.2,492.0 203.3,490.8 203.7,490.4 204.0,489.9 205.2,489.3 206.8,488.1 173.1,529.0 213.7,472.3 154.5,529.1 138.9,538.2 176.3,532.1 216.8,476.5 216.0,477.2 215.5,478.1 213.9,478.8 212.8,480.2 212.2,481.3 210.7,482.2 209.6,483.1 137.6,516.0 202.8,482.9 123.2,524.3 171.2,522.1 186.5,511.9 153.3,533.5 152.1,534.2 151.7,535.4 150.5,537.0 149.9,538.2 148.7,539.0 169.5,537.6 193.4,508.6 219.1,496.2 146.1,530.9 170.4,503.5 164.2,516.0 170.7,511.0 189.8,508.6 190.8,507.3 191.4,506.8 192.3,506.0 218.4,481.9 148.9,536.4 176.0,525.5 171.3,527.8 165.9,501.6 180.1,507.5 180.7,506.9 181.8,506.4 182.3,505.5 183.7,504.4 187.4,492.1 130.0,545.9 183.8,500.8 211.4,496.6 210.2,475.8 147.0,541.1 212.7,485.1 181.0,496.3 181.6,495.0 182.8,494.7 184.3,493.4 185.7,492.7 186.6,491.5 198.8,480.4 197.7,481.5 196.9,482.4 195.8,483.2 195.0,484.5 194.0,485.5 190.0,508.6 190.7,495.7 175.0,517.6 174.0,519.2 173.4,519.9 172.2,521.3 171.0,521.8 169.6,523.0 156.0,499.6 150.4,533.4 197.0,481.2 198.2,480.4 198.7,479.7 199.7,478.9 149.5,508.5 216.3,497.8 143.4,510.7 192.2,484.6 151.8,519.3 173.5,525.4 217.2,480.9 215.9,481.7 215.2,482.5 214.4,483.6 213.3,484.4 212.5,485.4 139.3,547.7 171.1,492.4 154.2,507.8 164.2,528.1 204.6,498.1 163.5,517.0 168.1,526.3 186.7,529.3 125.7,554.8 124.7,556.3 123.9,557.5 123.2,558.1 121.4,559.1 119.8,560.4 119.0,561.5 118.3,562.3 131.5,544.1 168.1,520.4 192.6,488.2 165.2,544.1 188.4,492.6 186.8,494.0 185.9,495.7 185.1,496.7 183.9,498.3 183.3,499.4 182.7,500.9 193.0,488.9 194.1,487.5 195.4,485.9 196.0,484.8 197.3,484.0 198.0,483.1 198.9,481.8 199.7,480.7 199.6,488.6 180.9,507.7 139.3,532.1 195.3,533.8 167.6,532.7 155.8,509.4 155.7,509.3 206.0,490.9 194.3,495.5 142.3,524.2 151.1,535.8 170.6,507.0 169.2,508.2 168.3,509.2 167.7,510.6 167.1,511.1 166.3,512.7 165.7,513.2 164.6,514.1 181.5,533.6 182.8,532.8 183.5,532.1 184.7,530.8 141.1,533.6 119.0,548.3 129.4,547.9 127.8,549.1 127.1,550.2 126.0,550.8 166.3,532.1 124.6,552.2 149.2,526.6 203.4,492.0 170.2,534.8 155.5,541.1 118.0,548.7 164.9,523.2 187.4,489.8 188.9,488.2 189.9,487.1 191.2,486.3 192.5,485.0 193.5,484.1 193.8,483.0 194.7,482.0 181.9,516.0 180.6,517.1 179.6,518.3 178.6,519.4 178.3,520.5 221.2,496.1 122.8,554.4 132.1,550.7 131.1,551.7 130.0,553.2 128.7,554.0 127.4,555.6 126.2,556.6 124.6,558.1 152.7,540.4 197.6,492.0 198.8,490.8 199.1,489.8 199.8,489.3 201.1,488.6 112.8,558.6 222.0,486.4 197.2,491.2 181.5,496.4 180.0,497.8 178.8,498.6 177.3,499.6 176.2,500.8 174.8,501.9 116.5,555.1 191.6,494.3 123.0,522.0 149.3,540.3 190.4,533.5 148.1,534.7 137.3,506.4 187.0,495.8 169.2,519.2 147.5,538.1 148.5,537.5 149.7,536.6 150.2,536.2 151.5,535.0 201.7,499.9 165.6,516.7 186.2,507.3 146.4,538.6 188.4,511.7 205.5,486.7 204.8,487.9 204.0,489.2 202.2,490.4 201.3,491.6 199.8,492.6 198.6,493.2 129.5,504.8 202.9,480.4 150.7,498.6 144.1,535.1 211.5,478.8 157.7,511.3 192.1,493.7 185.8,514.5 161.3,513.9 167.5,497.7 160.7,525.4 142.8,526.0 147.7,525.1 196.9,516.7 201.8,493.1 166.2,500.4 157.3,523.1 156.3,524.3 155.3,525.0 154.7,526.1 179.0,505.8 171.3,509.2 154.0,532.0 200.2,499.3 144.8,526.2 116.5,560.0 131.3,555.9 211.5,479.2 210.1,480.5 209.2,481.7 208.3,482.7 207.1,483.5 206.1,484.4 204.8,485.6 204.1,487.0 187.7,516.6 195.2,487.3 197.8,505.2 176.2,502.8 175.0,503.8 174.3,505.2 172.8,506.3 171.9,507.6 170.9,508.6 169.9,509.9 168.7,511.4 148.3,534.5 147.9,534.9 147.0,535.9 146.1,537.0 163.1,533.0 164.0,531.4 165.4,530.3 166.4,529.5 167.1,529.0 168.1,527.5 169.2,526.8 170.1,525.6 171.1,502.3 177.4,508.1 214.7,471.6 215.2,470.7 215.6,469.5 216.6,468.9 217.1,468.2 192.0,499.8 131.2,555.9 209.8,477.4 131.5,536.1 194.1,489.8 198.4,494.8 174.8,503.0 111.8,556.8 197.0,491.6 178.9,496.9 157.2,542.6 137.4,529.3 128.3,555.1 160.3,520.9 135.3,551.0 197.3,512.3 117.8,540.6 172.9,506.8 174.5,505.4 176.0,504.7 176.6,503.9 134.9,534.8 205.7,480.6 215.1,476.4 186.4,501.8 198.0,491.9 176.3,516.4 166.5,507.7 165.3,509.3 164.7,509.8 163.8,510.3 162.1,511.7 173.0,503.9 108.9,555.3 201.1,486.7 169.5,520.7 220.5,498.6 218.4,486.8 201.8,480.4 195.1,491.2 130.2,532.7 148.3,545.7 155.9,521.5 217.0,478.9 198.9,529.5 214.4,485.0 174.1,528.8 173.0,530.1 171.9,531.2 171.1,532.0 169.9,533.4 169.3,533.8 168.8,534.2 150.5,508.6 173.8,512.2 174.7,511.6 175.7,510.6 176.5,509.7 177.1,509.1 178.5,508.5 180.2,506.8 205.3,524.6 198.2,484.3 138.6,544.9 139.8,543.5 141.0,542.9 142.1,542.6 143.4,542.0 144.6,540.6 145.7,539.3 131.9,541.5 146.9,535.8 178.8,494.9 193.3,500.4 175.7,503.4 169.2,513.5 125.0,553.9 148.0,544.5 207.6,478.1 214.5,481.7 173.0,498.2 202.6,482.1 194.2,529.3 216.7,513.0 150.5,538.4 163.3,508.7 189.9,491.1 166.4,514.7 167.6,513.3 168.4,512.1 169.7,511.0 171.1,509.8 148.2,525.1 166.9,537.9 208.3,504.1 216.4,482.6 122.6,546.6 195.7,513.2 143.8,541.1 171.1,526.1 168.2,509.2 133.3,547.8 123.8,557.9 160.9,540.4 161.9,539.1 162.7,538.2 163.8,537.4 200.2,488.2 116.4,548.8 126.8,556.1 150.8,524.2 130.4,552.9 189.8,499.8 145.2,524.5 136.3,550.7 225.5,474.7 149.2,501.7 153.6,513.5 170.8,529.3 137.1,536.3 146.8,540.5 169.0,518.6 168.5,519.2 167.4,520.0 166.8,521.1 166.2,522.5 165.1,523.7 163.7,524.9 151.1,524.3 197.4,492.2 154.6,516.2 154.3,532.8 153.2,534.5 152.5,534.9 151.2,536.0 149.8,537.4 148.7,538.0 147.5,532.7 194.8,505.3 149.7,531.4 191.4,493.2 190.8,493.9 189.5,494.6 188.8,495.4 132.9,554.2 147.9,519.6 196.4,486.5 165.0,513.1 197.7,497.2 196.2,499.7 156.6,538.5 173.4,526.2 171.8,527.8 170.8,529.5 170.3,530.7 169.6,532.0 169.0,533.3 167.7,534.0 166.4,535.0 181.6,514.4 163.5,508.9 152.8,543.2 153.9,530.3 121.4,522.7 150.7,514.8 143.2,543.5 144.3,542.1 145.1,541.1 146.5,539.4 197.9,484.8 113.6,548.5 176.4,501.1 177.5,499.7 178.1,498.5 178.7,498.0 179.1,496.7 179.6,496.4 179.9,496.0 180.3,495.7 145.5,528.5 146.9,527.7 147.7,526.6 149.1,525.9 145.6,535.6 146.9,534.6 148.4,533.4 149.2,532.2 149.5,531.2 150.1,530.5 151.3,527.4 152.5,533.7 151.3,534.2 150.6,535.4 149.6,536.4 148.9,537.4 148.1,538.0 147.1,539.1 145.8,540.2 154.0,530.7 130.7,549.8 197.8,475.0 141.6,511.0 180.2,499.5 207.6,482.5 164.0,521.1 164.8,520.1 166.2,518.8 167.3,518.0 168.5,516.3 169.2,515.1 170.5,514.3 171.4,513.6 189.9,492.2 221.0,496.8 135.6,547.8 136.2,547.2 137.4,546.1 138.5,545.3 139.6,544.6 209.5,479.9 182.8,525.2 162.0,534.8 161.2,525.2 184.7,521.3 188.4,499.9 192.3,492.9 190.0,487.2 162.0,529.2 163.4,528.5 164.2,527.7 165.4,526.2 176.8,512.2 209.9,483.8 174.9,493.8 203.0,503.4 191.1,496.3 155.5,541.0 190.6,505.7 119.5,554.4 149.8,520.4 120.4,543.8 167.4,511.3 168.1,509.8 168.6,508.5 169.2,508.2 170.4,507.2 171.6,506.3 172.2,505.1 193.5,508.3 200.9,520.4 181.2,516.3 180.0,517.5 178.8,519.1 177.1,520.2 143.5,546.5 199.2,483.0 126.5,555.1 121.6,552.1 172.7,517.4 142.0,527.5 126.6,557.0 152.8,544.1 209.7,478.3 114.2,557.3 193.0,517.0 135.9,540.9 149.7,530.5 167.4,515.8 137.7,535.2 147.7,526.0 145.5,539.1 174.0,496.7 177.7,490.2 173.4,524.1 149.1,528.5 171.0,528.7 130.3,529.0 123.7,527.8 173.1,495.6 172.1,497.1 170.8,498.6 169.5,499.6 168.1,500.4 167.4,501.1 165.9,502.4 164.8,502.8 131.3,537.4 162.7,529.4 157.7,535.4 164.4,522.7 140.6,543.8 138.3,546.4 148.6,541.2 156.0,505.6 143.2,500.1 216.5,481.2 169.2,524.4 170.0,523.7 170.9,522.9 171.5,521.7 172.5,521.2 173.2,520.1 174.8,518.4 175.7,518.1 135.6,508.4 190.0,527.0 178.0,510.5 163.1,532.7 164.0,504.3 193.3,489.4 192.0,490.7 190.8,491.8 189.8,492.8 188.8,493.5 167.5,520.7 181.9,505.1 129.0,546.8 185.4,498.1 184.5,498.4 183.1,499.3 181.8,500.6 181.4,501.6 158.2,519.3 159.1,518.3 159.8,517.6 160.5,516.9 162.0,515.3 167.4,504.5 216.0,498.3 187.2,487.2 190.0,523.4 165.3,533.8 149.6,518.9 169.5,522.3 150.2,540.0 148.1,544.4 161.0,539.8 207.9,489.2 191.4,485.5 153.2,541.1 132.1,537.1 171.8,515.6 204.3,499.2 200.9,487.1 180.3,496.6 163.2,523.9 179.4,495.2 178.7,496.5 177.6,496.9 176.4,498.5 175.1,499.6 153.7,533.7 117.9,559.4 115.4,558.1 153.8,530.3 166.3,531.0 214.4,471.3 147.0,512.9 196.5,509.0 165.5,515.5 186.6,517.5 210.2,477.3 209.0,478.1 207.7,479.3 206.2,480.4 204.9,481.6 203.6,483.0 202.6,483.8 182.1,499.0 201.2,491.8 156.1,534.4 160.0,536.1 152.4,531.8 213.1,494.6 123.4,551.8 220.8,514.7 173.1,517.8 173.9,516.9 174.4,516.0 176.0,514.7 160.8,527.4 161.9,525.9 162.6,525.6 163.4,524.6 164.9,523.0 165.4,521.8 166.1,520.4 167.1,519.5 152.4,525.0 156.2,540.7 155.2,542.1 154.0,542.8 152.6,544.2 152.0,545.2 150.5,546.4 144.3,540.2 169.7,534.7 189.1,515.4 210.2,477.8 191.5,487.4 126.3,544.4 142.6,536.1 174.9,487.4 151.0,520.7 185.7,498.4 145.6,531.7 147.6,529.5 135.2,543.6 131.6,516.2 170.6,506.8 213.7,510.9 186.1,509.8 156.1,508.7 166.2,520.5 139.7,499.6 163.0,536.2 164.0,534.9 165.2,533.4 165.9,532.0 166.8,530.8 167.8,529.7 169.2,528.8 170.7,527.5 211.2,510.9 154.2,518.3 206.4,498.1 151.7,513.7 152.4,532.5 157.3,544.0 189.6,486.6 184.0,522.8 188.8,527.7 205.8,489.0 171.6,507.5 163.3,534.0 122.5,549.2 202.9,488.1 111.4,551.5 152.6,523.6 169.3,506.6 159.6,518.4 209.9,487.5 157.3,513.1 149.8,539.7 179.5,505.7 185.6,501.5 149.4,538.3 113.2,557.5 218.1,489.5 215.8,483.9 191.8,482.8 145.6,542.9 170.8,533.8 173.0,515.7 204.3,501.6 192.9,517.1 144.9,537.1 166.5,525.8 129.0,549.3 215.4,488.7 116.6,550.7 165.9,510.6 146.7,532.2 148.3,530.6 149.3,530.2 150.6,529.2 216.3,471.4 215.8,472.4 214.4,473.0 213.8,473.6 213.1,474.2 212.6,474.9 211.9,475.4 210.1,476.7 175.7,503.8 167.5,508.8 158.0,535.0 144.2,543.3 200.0,482.5 139.4,539.0 112.2,559.5 179.5,528.8 191.7,506.7 203.7,488.0 130.7,544.7 157.0,527.1 159.2,544.6 157.7,545.4 156.2,546.4 154.8,547.6 173.5,510.6 173.0,522.1 190.0,536.6 190.8,505.7 191.8,505.1 192.8,504.4 193.6,503.2 217.4,490.5 163.1,516.8 166.2,535.1 166.5,511.1 128.8,554.0 128.9,547.5 154.8,511.2 176.7,508.9 218.7,486.3 176.4,503.1 160.3,518.8 141.9,536.8 174.8,515.8 173.9,508.6 179.7,510.2 153.3,514.6 132.0,527.7 199.1,506.5 171.5,511.0 191.5,508.5 171.6,521.7 114.1,558.1 186.9,496.1 190.7,495.4 120.0,556.4 124.3,525.7 167.9,514.0 136.6,520.9 131.4,530.3 202.2,506.2 123.6,538.0 217.7,483.8 135.2,535.3 216.6,516.3 123.3,552.8 116.3,549.3 146.4,523.7 183.7,517.7 156.7,503.4 196.7,481.5 169.8,510.0 203.4,495.0 122.8,523.8 205.0,488.7 172.4,508.9 155.3,544.2 191.5,508.6 141.4,547.7 117.9,538.4 168.9,508.6 179.2,513.3 180.1,511.7 181.7,510.6 183.1,509.5 184.6,508.3 186.0,507.2 161.9,518.1 170.5,507.8 151.4,528.2 178.6,507.0 192.7,523.5 166.3,516.0 205.3,482.9 198.0,500.7 214.8,511.8 175.9,498.8 174.4,499.9 172.8,501.4 171.6,502.5 169.9,504.1 213.4,486.8 189.3,491.8 189.1,492.6 139.1,529.8 203.1,479.9 173.9,498.1 144.1,538.5 212.7,474.7 152.2,507.1 192.7,512.2 207.4,488.7 180.9,530.5 165.1,541.2 161.7,530.2 188.1,502.0 166.8,543.6 157.7,533.2 166.7,530.7 164.9,532.0 164.6,532.6 163.2,534.3 162.5,535.2 161.3,536.5 160.9,537.6 159.8,538.8 204.5,497.0 125.8,556.3 149.0,537.1 204.8,480.7 110.2,546.1 131.5,552.4 129.3,525.8 131.4,554.9 169.3,521.4 197.5,495.6 217.7,477.7 136.0,551.1 176.6,494.4 187.1,509.2 194.6,478.2 190.8,507.1 193.1,502.4 177.6,517.4 147.4,536.2 175.5,507.2 131.9,555.8 145.4,545.5 205.4,504.1 172.2,503.1 203.9,486.5 174.7,535.5 160.5,506.5 191.3,512.7 154.7,518.7 157.7,528.9 156.6,530.6 155.9,532.2 155.3,533.4 154.7,534.3 154.1,535.4 152.7,536.7 151.9,538.0 210.7,488.9 209.4,489.9 207.9,491.5 207.1,492.6 206.1,494.0 205.3,494.7 204.3,495.6 203.1,497.0 134.4,531.9 133.4,533.2 132.2,534.0 131.6,535.0 187.6,504.5 186.2,505.1 184.8,505.9 184.0,507.2 182.7,508.7 181.8,509.9 205.2,505.0 114.4,558.1 209.4,481.0 146.6,524.5 190.7,513.8 128.8,528.1 131.9,549.1 130.4,550.4 129.1,551.3 127.5,553.1 126.3,554.2 125.1,555.1 123.6,556.0 122.1,557.4 162.6,528.1 197.8,484.1 198.6,483.1 199.9,482.1 200.8,481.5 207.9,489.1 213.7,490.1 132.6,541.8 190.8,496.4 189.8,497.3 188.4,498.5 187.7,499.7 186.3,500.4 184.7,501.6 183.3,502.4 181.8,503.6 167.0,526.1 142.4,544.3 196.3,481.0 206.6,478.2 154.8,537.9 138.1,539.6 125.1,535.6 188.1,512.7 188.8,512.1 189.3,511.3 190.0,510.7 190.5,510.1 141.3,548.1 140.3,549.2 139.8,549.9 138.9,550.6 137.7,551.4 136.0,553.0 164.2,517.7 201.8,491.3 206.5,481.6 175.2,521.5 213.8,490.6 184.5,494.1 199.8,511.1 187.8,514.5 161.6,504.0 212.8,510.0 141.6,547.6 201.9,488.2 145.8,540.6 146.8,538.8 147.3,537.7 147.8,537.0 148.8,536.4 150.0,535.6 158.3,524.9 204.9,482.6 160.5,502.2 114.4,547.5 114.8,547.0 116.0,546.3 117.5,545.5 118.7,544.0 120.0,543.4 177.7,517.5 209.4,492.4 196.3,502.3 139.0,542.5 156.8,512.9 155.7,514.0 155.3,515.3 153.7,516.1 152.5,516.3 151.2,517.7 150.4,518.9 129.8,526.7 170.5,492.7 129.9,548.5 138.5,542.6 167.5,524.9 169.1,497.5 161.9,512.0 162.9,510.9 163.8,510.2 164.1,509.3 165.5,507.8 166.6,507.1 168.3,506.1 168.7,505.6 176.5,516.6 157.5,529.1 164.9,521.9 164.3,532.6 175.3,499.2 175.8,498.5 176.5,496.9 178.1,495.7 196.4,506.4 195.3,504.5 188.8,496.3 200.8,507.5 122.7,548.6 161.1,537.2 215.9,512.7 143.0,528.2 197.5,522.9 193.2,505.2 191.8,502.2 214.6,486.5 217.2,478.2 188.3,495.7 187.2,496.4 185.7,497.1 185.0,497.8 184.1,498.7 165.1,513.7 182.5,516.9 171.9,501.8 134.2,523.8 213.0,503.8 144.8,540.5 146.3,539.8 147.5,538.9 149.0,537.9 159.3,515.4 158.1,516.7 157.1,518.0 156.2,519.0 155.7,520.2 155.0,521.1 99.8,535.3 111.9,544.4 146.9,546.2 124.7,554.2 212.4,478.6 211.6,479.5 209.8,481.1 208.7,481.5 207.8,483.0 207.1,483.8 206.1,485.1 167.2,524.6 142.7,507.9 127.1,531.3 216.0,478.9 215.1,480.5 213.8,481.6 212.4,482.7 210.9,483.5 209.7,485.1 208.4,486.6 114.3,518.8 154.3,533.5 210.6,484.1 156.3,533.1 159.2,507.3 141.5,530.7 211.4,478.6 153.2,528.0 157.9,522.1 213.7,495.7 209.3,483.2 147.2,539.3 140.9,522.7 174.5,515.8 175.4,514.6 176.3,513.2 177.2,512.5 178.2,511.3 179.4,510.2 180.4,509.4 159.2,509.6 160.7,508.7 161.5,508.4 162.7,506.9 195.1,483.9 125.0,542.9 195.9,535.9 197.1,509.5 127.8,549.8 174.2,518.3 124.5,553.3 172.8,532.2 170.7,505.5 172.1,504.5 173.1,503.3 174.3,502.1 149.9,542.6 197.9,478.7 183.4,536.8 152.8,518.9 124.6,538.7 172.3,529.2 197.1,521.5 151.9,526.3 152.3,525.5 153.6,524.4 155.2,523.6 156.4,522.2 157.5,521.0 174.9,508.3 188.5,512.9 189.5,498.6 200.6,497.9 183.8,508.7 185.2,507.1 186.1,506.3 186.7,505.2 187.0,504.4 188.1,503.5 189.8,502.2 211.9,482.3 194.6,525.5 139.0,540.5 204.3,499.5 201.8,532.5 151.9,516.6 169.9,505.9 178.3,491.7 108.1,560.6 163.1,521.3 182.0,506.0 181.0,507.0 179.9,508.8 178.4,510.1 177.6,510.6 176.0,511.9 175.2,513.2 174.5,514.4 142.5,538.9 137.1,512.3 117.9,563.3 176.3,516.8 180.4,493.8 172.4,521.9 127.1,555.1 183.4,532.4 133.9,546.6 151.7,532.4 159.1,522.7 183.9,502.4 149.2,546.8 130.2,529.1 125.8,551.7 149.3,531.0 188.5,509.4 169.4,514.6 203.0,501.3 174.4,495.1 155.7,516.5 169.3,510.6 124.5,544.7 180.7,516.9 111.7,559.1 206.5,506.3 185.5,507.7 129.6,515.7 136.7,549.9 171.6,502.1 170.4,503.0 169.4,503.7 168.1,504.7 171.1,530.4 169.3,513.9 167.6,515.2 167.2,515.8 165.5,516.8 164.7,518.1 166.5,534.6 130.6,531.0 166.4,512.3 178.7,506.9 216.6,486.4 155.9,531.0 156.3,510.9 121.1,557.0 129.3,524.0 173.2,536.1 200.9,520.0 191.8,487.4 121.7,538.5 150.2,530.3 175.1,512.0 158.3,537.2 159.5,536.5 161.0,535.2 162.4,533.8 163.4,532.7 163.7,532.3 139.7,518.1 139.3,518.8 138.0,519.8 136.7,521.1 135.3,522.4 134.4,523.7 198.0,530.0 217.1,473.7 170.8,533.6 168.7,516.1 170.0,514.8 171.0,513.7 172.1,512.5 172.9,511.5 174.3,510.6 175.0,509.8 134.1,550.6 205.0,485.1 203.9,485.5 202.6,486.4 201.3,487.9 200.4,489.0 199.8,489.6 211.3,473.6 191.4,512.2 180.3,516.4 151.4,531.9 173.9,493.0 217.7,503.3 105.2,537.0 192.0,506.5 150.0,515.1 127.8,543.9 133.8,551.7 140.3,535.0 160.0,526.6 127.3,538.3 220.5,472.8 155.5,514.9 167.7,526.7 193.4,484.2 132.3,554.3 212.6,475.5 213.2,474.3 214.8,473.0 215.9,471.3 217.0,469.9 218.5,468.7 219.3,468.2 186.0,492.6 211.5,510.1 204.7,491.2 206.0,490.0 206.6,489.4 207.5,488.8 208.1,488.1 208.9,487.0 209.7,486.3 210.1,485.1 186.2,492.9 185.7,493.4 184.7,494.3 184.0,494.9 182.4,496.1 181.8,496.8 180.8,497.8 163.2,529.0 150.9,542.5 163.8,525.1 199.5,517.6 161.9,540.9 162.9,540.2 164.1,539.3 165.5,538.6 166.6,538.0 203.5,497.1 214.3,471.2 200.4,488.6 169.9,536.6 178.4,514.9 178.4,510.1 176.7,511.4 175.8,511.8 174.4,513.1 173.2,514.0 172.0,514.8 191.4,528.1 139.4,542.4 204.5,480.4 163.5,524.0 182.3,532.1 191.8,501.7 113.8,552.8 176.3,521.4 128.5,551.9 227.0,493.3 137.3,518.7 132.3,534.0 210.9,478.2 138.5,535.7 138.7,521.9 216.0,471.4 136.8,530.2 135.6,531.2 134.9,532.8 133.5,533.6 132.4,534.1 128.1,544.1 129.6,542.4 130.7,541.2 131.2,540.6 132.0,539.8 121.8,550.8 122.2,549.6 123.7,548.5 124.2,547.9 125.6,546.5 126.8,545.4 204.1,503.9 176.5,499.1 178.5,500.0 182.2,493.2 166.4,531.5 168.0,530.7 168.4,529.8 168.8,528.8 170.2,527.6 171.3,526.8 172.3,525.8 169.5,502.1 197.0,482.4 144.2,519.7 186.1,495.6 175.8,512.2 137.1,518.1 127.9,528.6 184.5,495.8 159.1,505.8 159.9,524.9 161.3,523.4 162.3,522.2 163.6,521.2 140.8,485.8 192.6,496.0 127.5,511.1 192.7,484.2 218.6,491.4 187.9,512.8 220.2,471.8 181.6,536.1 208.0,524.1 225.5,501.1 155.1,544.1 194.7,496.8 196.2,495.9 197.1,494.3 197.9,493.5 198.7,492.1 200.2,490.8 200.9,490.0 201.9,488.9 121.7,513.7 221.8,504.7 217.9,476.9 217.6,517.7 220.2,471.1 180.5,488.2 181.2,487.4 184.0,540.1 132.0,528.4 218.0,480.9 213.2,478.5 170.3,528.4 203.5,489.7 204.6,488.2 205.3,487.8 206.7,486.8 207.6,485.9 208.2,485.0 209.6,484.5 124.4,563.1 132.3,507.2 199.7,544.5 221.1,492.1 125.4,546.6 119.9,547.1 109.0,540.7 221.0,481.2 157.3,534.5 135.6,524.7 207.8,482.4 219.8,524.3 148.1,548.2 138.0,489.2 139.5,497.3 217.5,500.8 230.3,493.0 140.6,524.6 181.2,541.2 138.6,487.9 155.0,516.6 209.3,501.8 109.8,549.8 189.6,480.8 202.8,503.3 115.3,542.8 116.6,541.8 118.0,541.1 119.1,539.5 120.2,538.5 121.9,536.9 116.3,516.2 187.4,486.2 206.5,529.3 148.8,496.8 153.1,545.6 156.3,528.7 153.9,538.3 202.9,507.9 159.3,523.3 177.8,511.6 152.9,549.5 198.3,483.0 150.5,542.1 187.6,508.2 200.3,540.6 168.8,491.7 151.6,534.0 195.2,494.1 201.8,538.0 165.3,535.1 214.3,490.0 128.6,559.6 173.9,540.4 138.2,495.2 217.9,478.5 119.2,524.8 217.2,501.6 114.0,548.6 131.7,549.7 142.1,550.7 168.8,511.4 217.6,472.2 198.3,512.0 191.9,510.6 120.9,554.6 112.7,485.5 112.7,488.6 112.3,499.5 112.3,505.7 112.7,514.9 220.3,526.9 184.4,546.5 199.3,545.9 280.1,541.4 223.5,464.4 235.7,490.5"/>
<path class="rl" d="M71.20 616.20L311.50 375.90"/>
<path class="ax" d="M71.20 375.40V616.20H312.00"/>
<path class="tkm" d="M105.53 616.20v-3.3M191.35 616.20v-3.3M277.17 616.20v-3.3M71.20 616.20h3.3M71.20 581.87h3.3M71.20 547.54h3.3M71.20 513.21h3.3M71.20 478.89h3.3M71.20 444.56h3.3M71.20 410.23h3.3M71.20 375.90h3.3"/>
<text class="tk" text-anchor="middle" x="105.53" y="636.20">0</text>
<text class="tk" text-anchor="middle" x="191.35" y="636.20">50</text>
<text class="tk" text-anchor="middle" x="277.17" y="636.20">100</text>
<text class="tk" text-anchor="end" x="63.90" y="620.70">-20</text>
<text class="tk" text-anchor="end" x="63.90" y="586.37">0</text>
<text class="tk" text-anchor="end" x="63.90" y="552.04">20</text>
<text class="tk" text-anchor="end" x="63.90" y="517.71">40</text>
<text class="tk" text-anchor="end" x="63.90" y="483.39">60</text>
<text class="tk" text-anchor="end" x="63.90" y="449.06">80</text>
<text class="tk" text-anchor="end" x="63.90" y="414.73">100</text>
<text class="tk" text-anchor="end" x="63.90" y="380.40">120</text>
<text class="lb" text-anchor="middle" x="191.35" y="655.70">Reference [mmHg]</text>
<text class="lb" text-anchor="middle" transform="translate(26.30 496.05) rotate(-90)">Predicition [mmHg]</text>
<text class="tt" text-anchor="middle" x="191.35" y="358.40">R<tspan font-size="14.2" dy="9.4">SPAP</tspan><tspan dy="-9.4">: 0.86</tspan></text>
</g>
<g>
<path class="gm" d="M534.60 375.90V616.20M588.00 375.90V616.20M641.40 375.90V616.20M694.80 375.90V616.20M507.90 589.50H748.20M507.90 536.10H748.20M507.90 482.70H748.20M507.90 429.30H748.20"/>
<path class="gM" d="M561.30 375.90V616.20M614.70 375.90V616.20M668.10 375.90V616.20M721.50 375.90V616.20M507.90 562.80H748.20M507.90 509.40H748.20M507.90 456.00H748.20M507.90 402.60H748.20"/>
<polyline class="m" points="608.7,507.7 657.5,466.3 659.0,464.6 660.2,463.4 661.5,462.3 661.9,461.4 662.9,460.3 664.3,459.0 665.0,458.1 642.7,489.6 642.2,490.7 641.2,492.4 639.9,493.8 639.3,494.9 638.4,496.0 637.7,469.5 643.4,492.7 643.1,493.0 641.4,494.2 640.4,495.5 639.3,496.2 638.6,497.3 636.8,498.5 654.9,493.5 682.1,467.3 655.3,465.2 656.4,464.0 657.2,462.5 658.3,461.4 659.9,459.7 661.1,458.7 661.6,457.9 610.9,507.5 659.1,470.1 626.5,486.5 644.3,465.9 634.0,468.5 602.2,494.7 625.8,469.1 687.4,459.0 619.8,502.7 620.2,502.1 621.0,501.2 621.6,500.3 622.8,498.9 660.7,472.2 609.5,507.9 626.6,486.0 680.9,448.3 649.9,447.1 652.7,472.4 596.2,482.6 641.4,466.3 672.2,453.1 629.2,491.6 664.6,466.0 663.7,466.4 662.5,467.1 661.7,468.6 660.9,469.3 677.4,447.2 642.4,479.0 614.1,511.5 622.6,482.7 621.4,483.6 620.4,484.8 619.6,485.4 618.4,486.5 628.7,488.6 662.0,445.4 661.3,484.3 610.3,491.6 590.9,496.1 609.5,497.8 689.4,466.1 650.6,446.4 662.7,456.3 628.1,503.9 627.1,505.2 626.5,505.8 626.0,507.0 624.0,462.4 674.3,448.3 673.4,448.8 671.9,449.5 671.5,450.4 581.7,505.1 652.6,474.5 650.9,475.9 650.0,476.8 648.9,477.4 648.5,477.9 648.0,478.3 604.3,499.1 672.7,446.5 671.5,447.6 670.6,448.6 670.0,450.1 668.9,451.0 667.8,452.4 635.9,463.5 636.9,462.2 638.0,461.4 638.6,460.7 679.9,450.9 626.4,494.3 614.1,488.7 654.3,495.0 587.8,497.7 642.6,471.4 641.9,472.6 640.8,474.2 639.3,475.7 638.3,476.9 684.0,458.2 642.3,484.7 669.1,454.3 688.0,443.3 686.7,444.6 685.8,445.5 684.8,446.6 683.9,447.3 682.9,448.5 681.7,450.2 680.5,451.3 602.1,480.0 608.1,494.6 654.3,465.6 654.8,464.5 655.5,463.0 656.7,462.3 657.1,461.9 658.6,460.8 659.4,459.6 659.9,458.4 678.3,452.6 679.6,452.1 680.4,451.6 681.9,450.7 682.5,449.7 683.6,448.8 602.4,491.6 600.8,493.2 600.2,493.9 598.8,495.2 597.5,496.5 596.4,497.1 595.6,498.4 645.8,469.9 614.0,508.8 633.8,476.0 598.5,484.7 589.4,476.3 646.6,474.2 657.9,473.7 663.0,471.9 662.8,468.2 672.1,444.8 673.4,443.3 674.8,441.9 675.6,440.8 676.0,440.5 677.0,439.3 678.1,438.3 679.2,437.1 682.7,456.7 615.3,478.0 664.8,490.7 684.0,472.7 651.2,478.1 652.4,477.1 653.5,475.9 654.8,475.0 655.8,473.7 657.1,472.1 619.2,507.0 670.7,455.8 672.1,454.9 672.9,454.4 674.4,453.3 675.8,452.6 676.9,451.7 677.6,450.6 632.9,484.2 692.4,461.5 672.9,449.6 633.7,491.8 634.5,490.8 635.1,490.4 636.8,488.7 638.2,487.4 663.3,467.0 679.3,439.7 666.4,459.3 621.0,473.9 663.1,461.5 664.2,459.7 665.3,459.2 666.5,458.4 667.0,457.4 602.3,473.3 617.7,495.7 635.8,480.6 638.2,475.0 638.8,492.9 685.2,456.0 665.7,458.3 613.8,491.3 671.5,449.4 670.7,450.5 670.0,452.1 668.9,453.4 667.8,454.8 666.9,456.1 666.1,456.7 653.4,478.1 647.1,479.3 665.5,464.3 653.9,460.9 654.5,460.6 655.9,459.3 657.0,458.5 657.4,457.4 658.2,456.8 675.7,485.2 616.7,482.5 615.5,509.8 678.1,447.7 678.7,446.8 679.7,446.4 681.0,445.6 680.0,471.6 684.2,464.8 612.7,508.5 663.7,467.3 657.4,474.3 632.5,490.2 631.0,494.2 629.3,495.5 629.0,496.3 628.4,497.2 627.7,497.7 626.2,499.2 653.6,465.8 649.9,471.9 664.7,474.8 665.6,473.9 667.0,472.3 668.5,471.2 669.2,470.6 670.3,469.1 647.6,458.2 646.2,459.6 644.9,460.6 643.5,462.1 642.7,462.7 641.4,464.0 623.7,481.1 661.5,450.0 660.1,451.7 659.4,452.4 658.1,453.8 678.3,450.3 681.9,444.3 681.5,446.5 652.1,477.1 668.0,473.1 669.1,472.5 669.9,471.0 670.8,470.0 658.3,437.7 688.4,458.1 662.7,474.9 672.0,448.8 636.8,485.6 652.0,459.2 623.3,494.3 622.3,495.4 621.8,496.3 620.8,497.5 620.3,498.6 619.1,499.9 617.9,501.2 601.1,500.6 600.6,501.1 600.0,502.4 598.9,503.7 628.0,502.5 672.1,449.9 634.6,495.7 633.7,496.0 632.7,497.1 631.7,497.8 630.2,498.4 629.4,499.4 628.6,500.1 679.1,448.5 678.4,449.9 677.3,451.3 676.5,452.6 675.6,453.7 675.0,455.1 673.8,456.4 672.4,457.5 678.9,447.3 612.7,510.0 611.5,511.2 610.5,512.0 609.3,512.9 607.9,513.7 610.8,491.0 674.8,451.9 658.1,468.2 650.5,482.2 629.2,504.3 663.7,443.9 629.6,490.0 634.7,459.5 658.4,475.3 628.0,468.0 660.3,459.9 602.9,489.0 635.8,483.6 592.4,497.6 632.3,497.2 631.8,498.5 630.6,498.9 628.9,499.9 628.2,501.4 687.1,466.3 684.8,443.1 640.3,472.4 670.3,463.6 668.9,477.5 615.2,478.4 625.3,496.2 626.1,495.0 626.6,494.2 627.0,493.7 628.2,492.7 629.2,491.5 630.3,490.3 652.9,498.1 652.0,490.0 675.1,449.5 675.9,449.0 676.3,448.6 677.6,447.2 678.8,446.6 679.4,445.5 681.0,443.8 682.5,442.4 616.1,500.2 673.8,465.0 677.1,451.5 675.8,452.8 674.0,454.3 672.4,455.1 671.4,456.1 670.3,457.5 623.8,499.9 604.2,476.3 625.5,495.2 686.2,445.4 664.4,444.1 684.5,450.0 684.1,450.8 683.1,451.4 682.3,452.1 680.6,453.3 676.5,440.7 677.4,440.1 678.0,439.1 678.8,438.0 679.4,437.4 680.5,435.8 655.6,477.9 656.5,476.6 657.3,475.7 658.7,474.5 585.8,483.1 615.8,501.4 617.2,500.1 618.3,498.8 619.2,497.5 620.2,496.4 630.3,483.7 629.8,484.8 628.9,485.9 628.2,487.4 627.5,488.8 626.6,489.5 625.6,490.9 624.3,492.2 622.2,495.4 669.4,455.2 681.3,438.5 644.6,494.3 645.3,493.6 646.1,492.1 647.6,490.6 659.3,476.3 594.6,507.5 593.7,508.6 592.5,509.3 591.1,510.7 589.9,512.3 588.8,513.1 588.2,513.4 639.9,488.8 636.8,455.9 637.2,465.0 635.4,498.1 634.8,499.4 633.8,500.3 633.0,500.8 632.8,453.1 599.6,488.8 667.8,454.1 627.7,490.3 676.8,470.8 600.2,501.0 681.6,454.4 624.6,499.4 647.1,474.6 648.8,473.3 649.6,471.9 651.1,470.6 651.9,469.2 652.9,467.8 654.0,466.4 652.3,462.7 644.9,455.6 675.7,452.0 627.7,497.1 638.4,498.7 681.3,449.0 677.8,441.4 632.8,477.8 636.9,491.0 654.5,472.0 655.4,470.7 656.1,470.4 656.9,469.7 658.3,468.9 659.2,467.2 660.2,465.6 653.7,451.2 654.5,463.3 633.5,477.9 627.8,487.7 606.5,510.1 643.0,489.4 644.6,487.8 646.2,486.6 647.4,485.8 648.6,484.4 650.3,483.6 651.5,482.9 652.6,481.9 650.1,470.3 673.8,444.6 612.6,499.1 628.1,484.5 629.0,483.6 630.2,481.7 630.8,481.0 631.7,479.9 632.6,479.1 633.3,477.9 647.1,456.2 662.6,473.8 663.2,473.2 665.0,472.2 665.7,471.3 666.5,470.2 667.4,468.9 671.1,451.5 677.7,444.5 676.0,446.2 675.4,446.5 673.9,447.4 673.0,448.0 671.8,449.2 670.1,450.2 669.2,451.7 625.9,477.0 657.9,441.7 634.5,468.6 688.5,456.1 676.3,456.7 622.9,494.7 624.1,494.3 625.0,493.9 626.5,492.5 627.1,491.2 628.3,490.1 684.1,450.9 639.8,483.8 646.7,488.1 654.9,472.9 642.1,472.8 673.8,468.9 676.7,462.2 655.7,468.2 637.2,501.0 689.2,451.9 605.8,510.6 652.9,483.2 660.6,454.6 646.2,494.3 672.9,456.5 672.0,457.5 670.7,458.5 669.5,459.2 668.6,459.9 667.6,460.7 667.2,462.2 664.9,465.4 686.1,438.1 685.1,439.1 684.3,440.4 683.5,441.6 682.8,443.3 622.0,469.0 645.0,494.1 646.3,492.8 647.7,491.9 648.4,491.0 650.0,489.2 651.1,488.1 651.3,487.4 652.2,486.3 646.5,471.8 635.5,493.2 683.2,438.6 627.6,497.4 622.1,480.9 626.8,492.5 625.6,493.2 623.9,494.6 622.4,496.0 621.4,497.2 620.4,504.1 635.1,476.6 648.0,471.8 672.0,454.6 633.6,485.0 635.1,483.7 636.3,482.0 637.9,481.1 631.2,475.5 654.9,474.7 634.7,508.5 677.2,458.9 623.8,495.8 618.2,506.1 657.9,462.6 658.7,461.3 659.6,460.2 660.9,459.1 662.1,457.9 663.6,457.4 670.3,447.7 650.7,462.5 620.4,502.6 618.6,503.5 617.7,504.7 616.5,506.1 616.2,507.1 615.4,507.8 671.6,488.6 615.5,499.5 621.8,477.0 578.2,502.3 662.7,460.3 629.4,489.9 628.3,491.2 627.0,492.0 625.8,493.4 624.6,494.6 659.1,468.7 660.3,467.8 661.8,466.8 662.7,465.2 671.3,467.8 671.8,466.6 673.1,465.4 673.6,464.4 674.8,463.1 676.1,462.2 677.4,460.9 692.4,470.2 664.3,444.2 641.8,476.0 640.2,480.3 671.9,464.1 627.3,492.8 585.5,508.1 662.4,485.7 632.5,498.5 630.8,489.0 628.9,488.9 628.2,489.5 627.2,490.7 626.6,491.9 625.7,492.9 625.0,494.2 624.3,494.9 623.4,496.0 614.5,493.1 658.3,464.9 624.9,486.9 655.2,473.2 651.6,497.1 658.9,463.9 628.9,501.4 652.0,466.8 637.9,486.9 654.6,470.1 655.7,469.8 656.1,468.5 657.2,468.1 658.4,467.0 659.5,466.1 678.4,451.8 661.4,462.6 663.0,461.8 664.3,461.1 665.9,459.7 667.0,458.9 668.0,458.1 669.4,456.6 661.6,475.7 601.4,476.3 639.8,494.5 609.1,511.3 608.1,512.0 607.6,512.6 607.4,512.9 606.2,513.9 605.2,515.0 604.4,515.6 678.3,457.0 679.3,455.6 680.9,454.3 682.6,453.3 683.2,452.3 684.4,451.4 671.5,466.8 672.8,466.1 673.9,464.8 675.1,464.0 595.6,511.3 619.7,498.3 618.2,499.3 617.3,500.1 616.1,501.4 647.0,458.9 683.5,452.6 693.7,465.7 673.4,450.5 614.8,494.0 623.5,480.3 674.0,463.0 674.5,459.4 665.1,472.3 648.0,478.1 624.7,505.4 675.8,443.0 624.5,492.0 626.2,490.8 627.3,489.9 628.4,489.2 629.2,488.8 624.1,504.7 666.1,456.9 672.1,444.8 672.6,443.9 673.3,442.9 674.5,442.0 611.1,473.4 669.4,446.4 670.6,445.3 671.5,443.6 671.8,443.2 672.6,442.4 674.1,441.7 675.4,440.9 676.5,440.3 636.8,500.5 670.0,459.9 670.6,459.6 672.2,458.3 673.6,457.7 674.2,456.5 674.5,455.7 675.7,454.3 630.6,473.6 607.6,511.2 643.6,473.8 646.3,478.8 607.5,481.6 659.5,487.6 631.1,487.5 630.1,488.3 628.8,489.2 628.3,490.0 627.6,491.2 635.3,483.4 686.2,445.6 685.2,445.8 684.3,447.0 682.8,448.4 681.5,449.4 680.5,449.8 679.1,450.7 615.6,486.2 651.5,473.2 652.1,471.7 653.2,470.6 654.5,469.6 655.5,468.7 656.1,467.6 656.9,466.1 668.1,446.1 609.6,508.9 671.7,473.1 677.1,449.5 678.4,448.4 679.3,447.2 680.3,445.8 681.9,444.7 682.7,443.8 609.7,507.0 630.0,469.1 635.8,496.3 624.7,495.9 623.0,497.3 622.1,498.5 620.9,499.4 620.1,500.9 585.6,501.0 674.9,453.4 666.9,456.0 659.6,484.3 605.6,489.2 592.9,501.9 634.7,486.2 635.3,485.8 635.9,485.4 637.1,484.2 637.9,483.1 612.0,502.0 610.7,503.3 610.0,504.4 609.2,505.3 608.2,507.0 607.1,507.5 606.2,509.0 604.9,509.7 604.0,510.5 610.7,505.0 672.6,469.5 671.7,470.4 671.2,471.7 670.1,473.1 668.8,474.5 667.5,475.4 666.7,476.9 607.3,499.5 684.0,454.5 609.3,495.6 666.1,450.3 661.1,467.0 660.1,468.2 659.4,469.6 658.2,470.5 657.4,470.9 656.6,471.3 649.6,468.0 619.3,501.8 652.1,475.1 628.6,499.7 665.1,447.0 641.9,494.9 640.8,495.7 639.6,497.1 638.1,498.0 637.5,498.4 636.9,499.0 636.0,499.4 635.3,500.1 640.6,467.4 641.6,466.3 642.7,464.8 643.8,464.2 645.0,462.6 646.5,461.6 617.3,503.2 618.9,501.7 619.6,500.7 620.7,499.8 621.2,498.7 622.4,497.5 624.0,496.4 625.7,495.0 637.6,474.7 688.6,457.5 687.3,472.1 670.6,460.8 650.7,488.5 633.5,491.7 634.3,490.7 635.5,489.0 636.1,488.6 655.1,491.3 676.2,456.4 647.4,477.1 654.9,467.4 653.7,468.3 653.0,468.6 652.3,469.5 651.0,470.7 650.2,471.4 649.1,472.9 648.0,473.5 670.8,442.8 648.9,491.7 598.6,490.5 610.3,493.4 621.5,500.8 654.8,473.1 607.4,501.6 625.7,505.2 631.2,481.5 669.5,451.8 659.5,446.1 591.5,488.4 607.8,505.4 645.3,474.1 644.4,475.6 643.0,476.9 642.5,477.9 641.1,479.3 621.9,473.9 584.8,488.2 615.8,486.3 678.9,453.8 627.6,498.4 667.4,459.0 683.9,442.3 684.7,440.8 685.8,440.5 686.3,439.2 644.6,465.2 651.5,456.5 652.5,455.0 653.4,454.0 654.1,452.8 655.3,451.4 655.9,450.8 657.0,449.7 591.7,468.2 672.1,460.5 672.4,452.4 661.6,449.6 649.0,493.5 606.5,503.4 617.7,496.0 638.4,486.2 610.2,488.5 641.2,469.8 667.7,466.1 605.7,499.4 666.2,459.1 674.2,443.3 666.4,453.0 644.9,477.9 667.8,470.0 677.0,456.3 605.5,492.4 624.5,489.1 657.3,458.5 646.9,474.4 657.5,458.5 626.7,496.1 676.7,443.4 658.2,459.1 663.2,461.2 669.3,462.4 663.2,458.4 599.4,486.9 629.0,491.6 681.4,446.5 618.3,507.6 618.7,506.9 620.0,505.7 620.9,504.6 621.6,503.4 622.9,502.9 623.8,501.9 679.3,449.2 617.7,486.8 655.4,491.7 676.8,457.4 576.9,484.7 595.5,507.1 671.4,466.0 633.5,486.6 651.1,483.7 671.9,472.5 665.0,460.4 618.7,493.3 618.2,494.0 617.6,494.6 616.7,495.3 616.1,496.5 615.4,497.9 635.8,483.7 646.0,490.4 673.3,441.3 672.2,442.6 670.6,444.0 670.0,444.5 668.7,445.4 668.2,446.5 666.5,447.6 625.4,499.1 657.9,478.9 672.1,464.2 636.9,492.3 673.9,454.9 613.7,511.5 614.2,510.4 615.7,508.9 617.1,507.6 624.2,473.1 581.3,503.5 617.3,496.1 668.0,498.3 580.0,497.1 651.1,495.7 591.5,489.9 630.0,485.7 629.0,486.3 627.8,487.3 627.0,488.2 664.7,443.7 632.0,471.7 650.8,481.8 622.8,493.3 621.9,493.8 620.8,495.0 620.1,495.8 618.4,497.3 617.3,497.8 616.5,498.6 622.2,494.2 637.9,472.1 643.8,499.3 670.4,464.3 671.4,462.9 672.8,462.0 673.7,461.6 674.7,460.5 675.9,459.2 676.6,458.3 677.8,456.7 622.8,473.7 686.4,446.0 676.3,463.6 677.3,462.4 678.0,461.3 678.8,460.5 679.4,459.4 625.0,483.6 624.2,484.5 622.9,485.8 622.1,486.8 621.6,487.7 621.0,488.4 619.6,489.7 618.6,490.7 605.8,469.3 624.3,473.1 673.3,453.1 621.7,491.2 592.4,512.0 605.5,489.7 656.0,458.2 673.1,466.4 649.2,472.7 650.4,472.2 650.9,471.1 651.8,469.4 653.1,468.6 653.7,467.8 654.2,466.4 655.0,466.1 640.6,451.6 647.7,447.8 631.5,476.8 664.4,443.3 663.8,444.3 662.7,445.3 661.9,446.3 660.9,447.2 660.6,447.6 659.9,448.3 654.9,466.0 675.9,465.0 634.0,484.0 633.4,484.9 631.8,486.2 630.5,486.9 629.8,488.3 628.9,489.4 627.6,490.9 656.6,457.5 657.5,456.7 659.0,455.1 660.1,454.7 661.6,453.2 662.7,452.3 646.3,455.7 647.3,455.0 648.4,453.4 649.3,452.4 673.1,446.2 688.5,451.6 608.5,472.7 625.7,484.2 670.4,467.1 593.6,497.4 633.0,479.1 652.4,459.9 680.2,450.1 621.4,506.2 638.7,501.0 653.2,484.9 624.6,503.1 600.5,495.3 646.2,466.5 635.7,499.5 636.1,499.2 636.4,498.4 637.9,497.0 639.0,495.6 639.3,494.7 640.2,493.7 640.6,492.9 647.1,488.3 646.2,489.1 645.0,490.5 644.3,492.0 643.3,492.5 642.6,493.6 641.6,494.0 669.3,464.5 668.3,465.5 666.7,467.1 665.9,467.8 631.1,497.7 638.0,490.3 639.2,489.2 639.5,488.3 640.1,487.3 641.4,486.2 642.8,485.5 651.5,481.2 619.6,498.7 618.2,499.8 617.4,500.9 615.8,502.3 597.2,501.0 659.1,493.1 643.6,460.6 666.0,451.8 640.9,492.3 657.5,471.5 653.8,474.7 660.6,470.3 605.1,508.4 603.9,509.7 602.8,510.5 601.6,511.5 600.3,512.4 599.4,513.9 598.0,515.2 597.0,516.6 683.0,451.4 683.6,450.4 684.2,449.4 685.2,448.9 653.0,497.8 677.4,455.0 682.2,451.1 672.8,478.9 671.2,451.7 639.9,457.1 629.3,486.6 630.1,485.5 631.3,484.2 632.4,482.9 633.5,481.6 634.3,480.8 635.2,479.7 636.3,479.2 619.5,496.6 591.6,496.9 664.1,451.8 688.4,440.3 661.3,445.8 675.1,461.5 669.8,452.6 670.5,451.9 671.3,451.3 671.7,450.6 672.9,448.9 673.3,447.9 674.3,447.4 675.0,446.4 680.3,459.8 610.9,500.6 629.2,504.6 652.5,460.4 650.9,461.2 649.8,462.1 649.4,463.2 648.3,463.6 647.1,465.3 646.0,466.1 645.7,466.4 686.3,434.7 659.4,479.1 583.4,479.8 620.6,506.7 678.1,443.4 672.7,463.6 662.6,461.1 656.8,456.4 670.9,477.6 645.3,463.3 627.9,500.2 629.2,498.6 629.6,497.3 630.8,496.9 631.2,496.1 611.5,512.4 636.7,491.1 672.1,460.0 671.4,460.8 669.6,462.3 668.7,463.0 667.6,464.3 666.9,465.0 674.1,451.7 641.9,483.0 667.9,457.1 658.8,460.9 618.7,506.8 656.9,461.4 642.5,492.5 643.2,492.0 643.8,491.2 645.4,490.2 646.1,489.8 627.4,505.0 657.0,445.8 623.1,488.7 590.2,513.9 591.9,512.9 593.4,511.1 594.3,509.7 595.1,507.9 595.6,507.5 596.5,506.6 597.3,505.4 627.7,483.9 616.8,510.4 626.3,501.7 625.4,502.8 624.5,503.3 623.4,505.0 655.2,447.5 667.8,448.4 653.4,454.3 661.1,451.6 624.1,493.3 686.4,443.5 687.0,443.1 688.6,442.0 690.0,440.2 691.4,438.9 648.4,452.5 664.7,463.0 678.1,452.6 679.2,451.3 680.5,450.5 681.4,449.4 682.4,447.9 599.0,510.1 643.2,475.2 622.4,464.5 654.1,489.7 661.6,467.2 644.0,484.5 645.3,483.5 646.2,481.7 646.9,481.2 647.9,479.9 609.4,497.2 669.7,457.6 624.8,459.4 608.7,489.7 665.9,448.2 665.0,449.7 663.6,450.8 662.7,451.3 662.1,452.4 661.5,453.4 661.0,454.5 659.8,455.6 675.4,446.8 676.9,445.6 677.2,444.8 678.4,443.5 680.0,442.7 648.4,492.2 649.7,491.6 650.7,491.0 651.7,489.5 653.0,488.8 654.2,488.2 655.0,487.4 656.0,486.2 649.3,471.1 648.7,472.5 647.9,473.5 646.0,474.6 643.1,490.7 655.0,474.3 653.8,475.2 653.3,476.2 652.4,477.0 651.4,477.5 653.8,475.9 617.3,494.8 616.6,495.3 615.5,496.7 614.4,497.7 612.9,499.4 612.0,500.1 610.9,500.8 620.6,504.7 646.2,473.4 645.2,474.2 644.3,474.7 643.4,475.2 642.2,475.9 641.3,477.5 640.8,478.2 639.3,479.5 659.5,471.8 668.8,451.4 670.9,462.5 666.8,458.1 630.4,475.2 623.0,492.2 663.0,476.4 626.7,490.8 630.0,491.0 674.3,491.2 670.6,458.6 671.1,457.9 672.3,456.9 673.6,456.5 674.7,455.7 675.2,454.9 676.5,454.6 678.1,453.0 638.8,481.7 630.8,494.2 607.4,508.7 606.4,509.8 605.4,511.0 604.4,511.8 605.3,471.4 668.2,461.5 667.3,462.7 666.1,463.1 665.3,464.3 663.6,465.5 663.1,466.5 662.3,467.9 661.6,469.1 632.5,472.9 659.3,445.6 666.8,461.4 665.7,462.7 665.0,463.4 663.3,464.6 662.8,465.8 661.6,466.9 660.3,467.5 659.3,469.0 686.5,459.0 612.0,485.9 631.8,488.2 633.0,487.5 634.1,486.8 635.0,485.5 635.7,484.3 636.6,483.7 633.9,470.0 632.4,471.1 631.8,472.1 631.2,473.0 630.1,473.4 629.0,474.7 627.7,476.0 659.0,464.5 677.1,447.7 676.1,449.3 675.0,450.7 673.6,451.3 672.8,452.6 671.5,453.2 670.6,453.8 670.3,454.5 646.1,494.2 646.7,493.6 647.4,492.9 648.3,491.4 649.7,490.8 647.3,456.5 626.2,500.6 641.8,448.6 657.8,460.8 658.8,459.7 660.4,458.8 661.4,457.4 661.9,456.9 662.9,456.1 663.8,455.2 649.9,467.2 649.5,468.4 648.7,469.0 647.9,470.2 647.3,471.5 645.7,472.7 644.3,474.3 643.6,475.0 654.3,459.6 620.2,491.4 621.7,490.2 623.1,488.7 624.0,487.3 673.3,450.7 626.2,481.9 663.6,496.6 662.9,474.2 655.4,481.5 636.1,477.8 667.9,471.3 685.4,439.0 684.2,439.8 683.3,440.7 682.5,441.9 681.6,443.5 680.6,444.6 678.8,445.6 677.7,446.8 675.7,467.9 675.2,469.0 674.5,470.4 673.3,471.7 672.4,472.3 670.7,473.2 669.9,474.0 669.0,475.2 627.3,495.8 610.7,504.7 611.5,503.5 612.7,502.2 613.9,501.8 614.7,501.1 664.8,446.7 665.6,446.0 667.2,444.9 668.1,443.5 669.0,442.6 616.6,489.3 615.7,490.6 614.5,491.5 613.5,492.4 612.5,492.8 611.4,494.2 610.0,495.7 609.4,496.5 636.8,482.9 638.4,482.4 664.8,472.0 631.5,494.6 655.9,458.3 616.0,489.4 615.0,490.1 614.0,490.6 613.5,490.9 608.2,507.1 611.2,499.1 618.8,486.5 661.5,453.2 663.6,480.6 627.8,488.1 678.7,476.4 654.3,468.9 655.4,467.2 657.0,466.6 657.6,465.7 658.2,464.2 659.3,463.0 660.9,461.5 633.2,472.3 637.1,463.0 611.4,496.6 661.4,464.9 660.1,465.6 659.2,466.9 658.5,467.8 657.6,468.6 656.0,470.2 676.4,453.7 613.1,496.4 579.7,486.9 657.5,475.7 659.1,474.7 660.3,473.7 661.8,472.2 662.9,471.8 663.6,471.0 595.0,500.4 577.7,479.8 630.2,497.5 629.8,498.8 628.4,500.1 627.1,500.8 663.5,486.8 633.6,488.8 623.1,499.5 622.5,500.2 620.8,501.1 620.1,502.6 619.6,503.0 618.4,503.6 679.3,457.2 638.5,491.5 590.2,503.4 624.5,469.4 618.1,503.7 662.5,477.6 670.8,452.7 672.3,451.8 673.3,450.7 674.3,449.5 674.9,449.1 675.8,447.9 676.8,446.4 665.0,481.1 603.4,511.1 661.9,457.5 630.1,494.4 628.5,473.4 607.8,501.7 611.7,491.7 599.0,503.0 620.5,496.5 660.6,469.2 659.8,470.4 659.0,471.9 657.9,472.6 656.8,473.6 656.1,474.4 654.4,476.0 653.6,477.1 626.6,504.4 670.5,445.2 663.7,451.0 662.4,452.2 661.6,453.5 661.2,454.2 660.0,454.9 659.1,456.3 686.4,446.2 680.7,474.5 600.8,490.7 577.9,491.6 630.2,502.5 662.8,464.7 632.1,498.3 653.3,492.9 666.6,468.9 632.1,485.2 632.6,484.2 634.4,482.5 635.1,481.6 636.0,481.3 636.6,480.8 637.7,479.5 638.4,478.4 653.3,458.9 638.4,493.7 666.9,448.3 662.0,459.1 616.5,470.8 647.2,473.3 664.0,459.9 678.4,441.6 639.4,493.1 630.7,474.8 598.7,490.2 621.2,488.7 665.9,454.6 583.4,475.7 643.6,476.6 644.9,475.9 645.8,474.6 647.0,473.4 647.4,472.9 648.6,471.7 649.1,471.2 649.8,470.3 606.9,512.1 608.3,510.0 607.6,511.1 607.0,511.6 605.5,512.5 604.5,513.6 603.2,514.9 595.6,492.5 642.9,474.6 646.0,471.7 658.5,455.0 647.2,480.6 621.1,500.9 687.0,451.8 686.0,452.6 684.7,453.8 684.1,455.1 683.2,456.3 672.9,449.4 605.4,496.0 604.0,504.3 656.7,447.1 674.9,441.4 669.7,449.0 582.4,494.9 660.3,448.4 659.0,449.4 658.6,450.6 657.5,451.1 628.8,497.9 661.7,463.9 621.0,469.9 646.1,464.0 670.2,442.1 640.5,496.2 635.0,473.3 600.5,507.2 617.0,494.3 666.3,453.2 666.8,452.0 667.9,450.8 669.1,449.8 670.2,449.4 671.3,448.1 671.8,447.3 626.6,495.1 634.6,505.3 649.2,484.0 662.4,493.0 641.3,486.7 684.4,449.1 683.1,450.0 682.2,451.2 681.3,452.2 680.3,453.2 679.3,454.3 678.6,455.1 677.9,468.3 675.8,451.2 676.9,449.8 677.4,448.7 678.8,447.9 679.9,446.5 681.3,444.9 645.1,454.5 663.9,462.6 624.2,502.9 681.1,457.5 666.7,461.5 660.0,472.4 654.7,483.1 676.6,442.0 629.6,467.3 610.8,508.8 679.8,459.9 652.7,473.3 667.2,457.6 667.9,457.2 668.8,456.5 669.4,455.7 647.1,489.9 608.2,474.3 636.9,494.9 679.4,438.8 606.7,491.9 655.5,474.0 652.2,459.5 622.8,493.9 640.6,488.2 639.8,488.7 639.2,489.2 638.2,490.1 637.0,491.2 636.2,492.8 671.6,448.2 630.4,481.4 614.1,493.8 649.6,492.6 632.1,500.0 622.7,501.6 621.1,506.8 622.7,505.4 623.7,504.5 624.6,504.0 625.3,503.1 661.5,491.8 628.5,473.9 652.3,480.6 599.2,506.7 601.7,474.9 653.3,493.3 624.0,488.8 648.7,489.7 647.9,491.0 646.9,491.6 645.9,492.6 644.1,494.1 643.2,495.2 581.0,487.4 631.5,495.3 654.6,490.3 653.8,491.3 653.3,491.9 652.6,493.3 651.5,493.9 652.0,461.7 652.7,460.7 653.5,459.4 654.3,458.5 655.3,457.3 656.3,456.4 656.8,455.4 634.4,502.1 623.7,491.0 663.5,473.0 664.8,471.8 666.2,470.7 667.4,470.3 668.4,469.2 616.0,505.6 677.7,447.3 616.8,500.8 618.0,499.9 618.4,499.3 619.1,498.7 620.3,498.0 621.0,497.1 623.1,493.1 635.8,497.7 664.8,471.2 669.4,459.0 667.6,460.3 666.8,461.2 666.0,462.2 619.5,484.3 666.2,469.4 683.0,458.5 683.6,457.4 685.0,456.2 686.7,455.2 688.0,454.8 688.8,453.0 689.7,452.0 690.7,451.4 599.8,516.2 666.3,461.3 687.6,440.0 688.5,439.1 653.0,465.7 652.0,467.2 650.5,468.2 648.7,469.6 647.8,470.9 646.6,472.3 645.4,473.1 664.4,477.5 605.6,465.4 640.4,479.7 641.5,478.8 642.2,477.7 643.7,476.6 645.0,476.1 646.2,474.6 649.6,467.9 668.0,451.9 668.9,450.5 669.7,449.1 670.7,448.2 671.5,447.3 672.2,446.3 673.1,444.7 658.3,484.5 679.4,455.3 592.0,473.3 655.2,474.1 654.0,475.7 652.8,476.3 651.7,477.0 657.7,473.2 663.5,453.4 605.1,500.2 593.6,515.6 623.2,487.8 622.3,506.2 657.5,480.3 653.7,461.7 663.7,455.1 622.8,487.3 639.6,476.1 671.3,459.9 633.8,495.1 632.6,496.5 632.0,497.7 630.8,499.2 629.3,500.4 628.8,501.0 627.7,501.6 623.9,496.1 630.3,478.2 658.6,452.1 660.3,480.2 675.0,446.5 676.6,457.9 606.8,508.4 666.7,442.7 641.3,490.7 640.3,491.9 639.9,492.5 639.0,493.6 638.0,494.2 665.9,469.7 627.8,466.9 677.2,445.5 650.2,469.8 651.9,471.8 645.0,488.9 649.5,460.1 647.9,469.0 663.1,483.5 636.7,499.2 645.5,468.1 644.5,468.6 643.4,470.3 642.5,471.9 641.7,472.9 640.6,473.9 646.3,479.9 647.6,478.4 648.0,477.6 649.3,476.6 650.1,475.9 651.6,474.9 652.4,474.0 648.4,490.4 639.9,476.2 668.4,466.7 667.1,468.3 666.4,468.9 665.7,469.7 665.4,470.9 665.0,471.4 671.6,450.9 629.7,496.3 630.3,496.4 628.6,485.1 673.8,466.7 614.6,507.5 661.5,457.3 662.7,455.7 663.6,454.3 665.1,453.7 666.1,452.5 667.2,451.5 668.8,450.0 670.2,449.0 646.1,451.0 628.2,473.2 662.5,453.2 677.5,450.2 612.2,507.7 611.6,508.5 611.0,509.1 610.3,510.0 609.2,510.6 608.0,511.8 617.8,510.5 679.6,467.4 668.4,466.3 669.2,465.1 670.3,463.7 671.1,462.1 655.6,446.6 631.4,486.7 652.5,488.1 634.6,479.2 683.9,450.5 682.4,451.5 681.4,452.1 679.7,453.0 678.4,454.3 677.3,455.1 676.0,456.8 674.4,457.9 634.9,475.0 679.7,469.6 653.6,494.8 673.4,443.8 606.9,489.9 632.9,490.7 631.4,492.2 630.2,493.2 629.1,493.9 686.8,455.0 595.4,506.7 667.2,448.3 670.1,444.1 671.5,470.6 643.9,479.4 669.2,470.1 663.3,460.2 640.6,482.2 684.5,439.7 591.3,502.8 649.1,477.5 662.2,443.8 660.9,444.8 660.1,445.7 659.2,447.2 658.2,447.9 588.7,501.8 669.2,461.3 669.2,466.1 667.8,467.6 666.6,468.8 665.4,469.6 664.8,470.7 648.1,495.8 609.8,508.2 608.5,508.9 606.8,509.9 605.9,511.0 604.6,511.7 603.6,513.3 633.4,472.4 615.2,508.9 596.9,511.0 675.9,442.2 621.4,494.4 684.7,448.9 675.9,466.5 601.6,502.1 600.3,503.4 599.2,504.3 597.9,505.3 596.9,505.9 661.6,446.4 623.9,489.7 645.6,483.4 638.6,485.6 627.4,491.0 668.7,485.5 593.0,514.5 644.1,493.7 633.5,490.0 679.3,449.4 611.9,504.5 611.2,505.9 609.7,507.0 609.2,507.7 615.7,474.7 632.8,488.2 625.3,492.3 638.0,483.1 636.8,484.1 635.9,485.4 635.2,486.9 633.8,488.0 633.5,488.5 671.2,461.3 606.1,484.8 686.7,457.8 637.1,489.0 649.3,470.1 624.3,505.8 622.9,507.1 622.2,507.6 620.7,509.2 619.5,510.1 618.7,511.1 617.7,512.1 633.3,491.0 686.4,463.0 685.8,464.5 625.7,486.7 642.8,488.8 626.3,500.2 665.5,459.4 631.2,497.1 603.7,497.0 685.8,436.8 687.5,435.1 688.8,433.8 689.7,433.0 653.0,464.3 581.8,498.9 651.7,475.3 604.9,505.8 639.9,494.0 641.2,492.8 642.1,492.0 643.6,490.6 644.6,490.2 645.7,488.9 608.0,472.0 621.5,506.2 611.3,482.5 652.8,480.9 640.0,488.1 639.7,489.3 638.4,491.0 636.8,492.0 635.7,492.7 634.9,493.7 656.3,467.5 686.6,437.4 688.7,434.4 630.3,490.6 631.9,488.9 633.1,487.5 633.8,486.6 635.0,486.0 635.5,485.7 636.8,484.3 637.5,483.0 655.0,474.5 652.7,466.9 654.1,502.8 644.6,485.2 633.1,474.7 656.1,474.5 656.7,492.8 623.4,491.7 628.2,496.6 637.0,497.4 630.6,498.6 630.0,499.2 629.3,500.3 628.2,501.5 627.0,502.9 625.6,504.4 624.1,505.4 623.6,506.6 682.2,458.7 606.9,505.2 685.2,447.5 619.9,488.7 615.0,505.3 647.6,465.1 620.1,504.0 620.5,503.1 621.8,501.8 622.9,500.5 623.9,499.3 647.1,465.2 646.5,466.6 645.4,467.3 643.9,468.5 643.3,469.1 642.0,470.3 637.6,507.3 677.4,467.4 676.7,442.3 633.8,474.1 634.8,505.1 600.2,508.6 683.9,442.5 682.8,443.5 682.1,444.8 681.3,446.1 680.5,447.3 679.6,447.8 661.2,489.3 640.4,478.4 640.9,477.7 642.3,476.9 643.5,475.9 649.4,496.6 633.6,492.9 653.6,475.1 652.3,476.5 651.8,477.0 650.9,478.0 649.7,478.7 648.9,479.5 623.6,495.0 625.0,493.4 625.8,492.5 626.8,491.3 628.1,489.7 623.0,499.8 621.4,500.6 620.1,501.7 619.8,502.6 630.7,497.7 653.7,459.7 667.3,451.6 669.0,450.8 669.8,450.5 671.3,449.2 634.6,495.9 632.8,483.3 631.3,484.4 630.1,485.4 629.3,486.3 649.3,465.7 621.6,473.7 624.2,495.6 627.9,492.3 679.0,439.4 680.5,438.0 682.0,436.5 682.8,435.9 616.4,465.2 678.8,479.7 586.2,489.3 644.0,483.3 685.8,463.5 625.5,491.9 661.5,455.6 650.5,486.2 649.4,487.6 648.5,488.8 647.1,490.1 645.7,490.8 644.2,492.0 643.4,492.9 681.5,447.6 656.7,454.1 663.1,460.7 612.9,510.9 614.4,498.0 642.0,490.0 656.6,492.1 652.1,493.8 595.8,509.4 609.8,498.0 609.2,499.5 608.0,501.1 607.3,501.7 606.2,503.0 605.2,504.2 603.6,505.0 626.5,501.1 657.0,477.0 655.8,477.9 654.4,478.7 653.7,479.5 652.9,480.7 651.8,481.2 650.7,481.9 650.3,482.6 641.7,484.9 611.1,493.4 655.7,473.6 642.2,472.0 605.7,504.5 661.9,477.2 629.0,486.4 663.3,464.3 619.8,469.3 652.2,449.5 650.1,457.8 654.5,455.5 652.0,481.0 650.6,482.7 649.2,483.9 648.0,484.7 677.1,477.8 679.3,443.8 677.9,444.4 676.8,445.7 675.9,446.4 674.7,446.8 673.7,447.5 672.8,448.5 671.9,449.7 607.2,480.2 660.1,460.1 659.4,460.6 658.1,461.5 656.8,462.7 600.2,506.3 616.6,499.6 644.4,488.1 668.5,462.2 669.7,461.0 671.0,459.8 672.0,459.1 673.6,457.3 674.4,456.0 675.3,454.7 676.7,453.6 688.8,450.1 619.5,480.3 670.4,471.7 652.1,468.2 651.5,469.1 650.2,469.8 649.8,470.8 649.1,471.8 648.2,472.5 647.8,473.2 646.5,474.2 651.8,487.4 621.4,467.0 616.8,485.3 680.5,468.3 650.3,452.4 685.5,467.3 676.0,446.9 683.4,457.4 686.3,456.0 617.0,491.5 616.0,492.2 615.2,493.8 614.2,494.9 585.5,494.5 638.4,472.7 629.4,491.3 663.6,453.3 626.7,470.9 661.0,455.9 659.6,457.2 658.2,458.2 657.0,459.0 656.8,459.5 656.1,461.0 654.8,462.2 631.7,494.3 613.2,491.0 678.2,457.8 652.2,460.1 651.1,461.1 649.7,462.7 648.9,463.5 648.4,464.5 648.0,465.4 647.2,466.3 653.5,489.3 652.7,490.5 652.1,491.1 650.8,492.0 600.1,473.8 597.2,509.4 637.2,511.7 629.9,484.8 629.1,485.2 628.0,486.8 626.7,487.4 625.4,488.3 624.7,489.5 645.8,457.2 685.0,454.8 683.9,455.8 683.0,457.5 682.4,458.9 681.1,459.8 679.8,461.4 679.4,462.4 654.5,439.9 620.0,502.0 622.3,476.3 653.5,445.9 598.9,508.8 633.8,470.6 635.0,469.9 636.1,469.1 637.1,468.0 638.1,467.0 638.9,466.1 610.0,507.6 610.9,506.9 612.4,505.3 613.3,504.2 614.8,503.5 615.9,502.5 617.3,502.0 671.4,453.6 628.8,491.7 613.8,471.6 666.4,450.2 634.3,488.1 632.9,489.2 632.4,489.9 631.5,490.9 631.0,491.8 629.5,493.3 628.3,494.9 654.5,468.0 653.3,468.6 652.3,469.3 651.7,469.7 650.8,470.9 623.6,503.6 678.6,440.8 649.0,469.2 648.4,470.2 647.0,471.6 646.3,472.4 644.6,473.5 643.8,474.1 642.3,475.4 644.0,478.7 685.4,446.7 608.6,484.4 687.2,450.9 656.9,469.9 633.4,495.8 673.2,469.3 672.4,470.0 671.9,471.3 670.3,472.0 612.2,508.3 672.4,452.4 652.1,471.7 629.9,491.8 595.6,509.3 635.6,486.6 637.0,485.5 638.0,484.8 638.6,484.5 639.0,484.2 660.3,488.0 662.0,486.4 662.9,485.4 663.9,483.8 665.0,482.6 666.2,481.2 666.8,480.1 680.7,448.2 659.4,463.4 624.9,479.5 648.6,493.2 677.5,441.0 638.9,470.4 638.3,470.9 637.4,472.1 636.4,472.8 634.8,474.5 633.7,476.1 632.7,477.3 631.4,478.4 671.2,460.4 694.3,476.4 649.1,457.6 666.7,476.9 636.1,494.3 627.6,475.9 687.5,443.5 619.5,495.4 618.1,496.7 616.6,498.2 615.5,499.0 614.4,500.0 613.5,501.6 664.7,448.6 664.4,449.5 663.4,450.1 662.3,451.3 660.9,452.1 659.2,453.5 610.2,478.1 647.9,495.6 648.5,494.9 649.7,494.3 650.7,493.7 651.2,493.0 656.0,480.5 673.5,445.6 614.9,476.7 658.0,465.5 614.3,485.5 608.5,508.5 642.2,465.5 612.2,502.1 637.7,466.4 659.6,454.4 606.7,477.2 628.4,492.1 673.6,455.7 683.3,445.9 629.0,491.3 658.3,458.5 659.0,457.4 660.5,456.1 661.8,454.7 662.7,453.6 664.1,453.0 672.0,442.2 638.3,469.6 637.9,491.3 636.5,492.6 635.8,494.0 634.7,495.2 646.0,473.1 647.0,471.7 648.3,470.3 649.6,468.7 650.4,468.0 674.5,447.1 675.2,446.1 676.2,444.9 677.7,443.5 635.5,476.5 645.1,449.6 655.3,471.5 679.6,450.0 595.9,474.2 673.8,446.7 661.5,469.8 620.8,494.8 667.8,482.1 672.6,457.8 669.1,476.1 611.7,479.1 666.4,453.2 665.7,459.3 664.5,460.6 663.4,461.8 662.8,462.5 661.8,463.6 661.0,464.4 669.5,461.7 667.7,462.9 666.7,464.4 665.6,465.2 656.2,444.9 665.6,466.9 590.6,518.1 622.1,498.9 623.5,498.2 624.5,497.2 625.2,496.5 626.8,494.9 630.2,498.0 652.5,484.8 653.0,483.9 654.6,483.3 655.7,482.7 656.5,481.8 657.5,480.4 658.8,479.5 659.7,478.1 614.2,510.5 630.2,484.2 629.0,485.2 627.4,486.4 626.0,487.9 625.5,488.9 624.6,490.2 623.5,491.1 622.9,492.0 644.4,467.1 682.1,454.5 681.5,444.3 681.1,451.4 663.0,444.8 654.1,486.6 599.0,498.4 667.0,450.3 627.0,491.3 625.7,491.8 624.5,492.9 623.5,494.0 622.5,494.9 621.9,496.1 645.7,456.2 638.4,484.0 616.9,502.0 653.7,470.8 662.1,448.0 661.2,449.1 659.9,449.8 659.5,450.1 658.1,450.7 657.0,452.3 655.9,452.7 608.4,491.0 670.6,454.2 663.1,470.2 630.5,486.8 641.8,504.6 588.2,494.6 677.1,447.7 634.6,499.9 660.2,479.8 677.1,475.8 638.2,468.7 647.9,452.0 665.2,455.2 664.3,456.4 663.9,457.4 662.9,458.6 615.9,503.4 619.4,506.6 618.4,507.5 617.9,508.7 616.8,510.2 674.6,445.8 675.4,445.1 677.1,443.8 678.1,443.0 679.4,442.0 679.7,441.0 680.4,440.4 606.0,509.8 676.6,477.8 683.4,448.2 638.7,488.6 640.0,487.6 641.5,486.7 642.7,485.8 596.0,492.3 633.7,497.6 612.3,497.2 639.2,500.4 676.4,445.1 671.6,463.6 672.3,462.8 673.5,461.8 675.0,460.5 676.2,459.9 630.7,464.8 596.9,506.5 627.8,475.5 667.4,461.7 583.2,486.0 658.2,463.5 641.6,487.5 648.2,460.3 613.0,506.3 613.4,505.4 614.8,504.5 615.9,503.7 596.6,508.2 595.1,509.0 594.1,509.8 592.7,511.3 591.1,512.8 590.0,513.5 649.5,468.3 654.9,494.6 655.6,494.3 657.0,492.9 657.9,491.8 658.9,490.8 660.2,489.5 661.7,488.3 623.0,473.2 596.0,514.4 650.3,474.2 669.1,447.6 610.1,508.7 618.6,500.8 655.5,465.7 614.5,501.1 670.3,460.3 636.7,495.2 612.8,509.0 643.8,469.6 645.4,468.2 646.6,467.0 647.6,466.2 639.6,469.0 646.1,483.8 641.6,460.8 663.6,486.5 635.5,492.9 637.2,491.4 637.7,491.0 639.4,490.3 640.4,488.8 641.9,487.3 643.0,486.0 643.9,485.0 661.4,457.8 662.5,457.2 663.5,456.4 664.2,456.0 665.7,455.3 666.9,453.9 667.7,453.1 658.4,488.5 649.2,472.4 623.6,500.2 624.6,498.7 625.7,498.1 626.9,496.4 628.2,495.8 629.6,494.8 668.2,459.9 666.9,461.1 665.7,462.4 664.3,463.6 663.2,465.2 662.3,466.3 634.9,502.9 667.9,476.2 643.8,480.4 676.1,458.5 652.0,484.6 653.1,483.5 654.7,482.6 655.9,482.0 656.5,480.9 657.4,479.8 658.4,478.5 659.3,477.6 612.3,474.4 662.6,475.5 681.3,455.7 604.8,486.1 689.9,448.6 672.5,449.5 667.1,461.4 666.0,461.9 665.1,462.9 664.2,463.4 662.7,464.4 635.2,481.6 636.4,480.3 638.0,479.3 638.6,478.8 639.3,477.8 664.0,457.8 665.0,456.2 666.1,455.7 667.3,454.4 669.0,453.2 669.6,452.0 670.2,450.4 615.4,500.2 636.5,492.2 607.6,497.9 647.3,481.0 664.9,448.0 655.8,475.7 660.5,457.6 635.4,498.0 640.0,490.6 661.4,445.2 594.1,504.6 672.7,444.0 673.3,443.2 673.8,442.3 675.1,441.1 675.7,440.4 649.9,456.3 658.0,492.3 674.7,448.3 606.5,510.2 626.0,485.8 627.6,484.0 628.6,483.4 629.2,482.4 630.3,480.9 631.0,479.8 591.5,497.5 691.6,475.5 631.1,483.2 667.8,442.1 668.8,441.4 670.0,440.7 671.0,439.5 634.4,482.9 666.6,473.5 640.5,474.4 628.6,482.8 668.5,482.3 580.8,485.2 620.3,500.7 618.8,502.1 618.4,503.0 617.1,504.1 615.8,505.4 614.8,506.4 626.8,497.8 626.4,498.8 625.2,499.9 624.0,501.1 633.5,473.4 643.0,469.6 653.5,477.9 682.5,457.1 681.2,457.7 680.7,458.4 679.2,459.6 678.1,460.7 653.7,490.6 588.4,478.9 677.6,474.8 646.2,482.3 647.3,480.8 647.7,480.0 648.8,479.7 650.2,478.8 651.0,477.9 652.3,476.9 635.3,485.9 591.6,510.6 668.8,469.3 667.5,457.3 665.7,458.6 665.2,459.7 663.6,460.8 662.7,461.4 661.9,462.7 656.9,492.9 655.8,494.3 655.2,495.2 654.2,496.0 653.4,497.2 658.1,465.1 639.6,485.6 640.3,484.3 641.2,483.4 643.0,482.1 644.1,481.1 613.0,501.1 618.9,503.0 619.4,502.0 620.1,500.6 620.6,499.5 621.7,498.3 623.0,497.6 676.0,457.4 651.0,462.4 641.6,494.3 639.8,493.9 633.1,496.1 648.2,478.9 646.6,480.5 645.5,482.0 644.5,483.2 643.5,483.7 642.6,484.2 667.3,479.2 648.4,464.9 647.1,465.8 646.4,466.6 645.3,467.7 644.5,469.0 661.1,473.8 626.7,492.4 627.5,491.1 628.6,490.4 629.7,489.5 630.5,488.7 631.2,487.9 632.7,486.4 617.3,498.1 628.4,508.5 598.9,510.8 599.7,509.7 601.0,508.6 602.5,506.9 603.6,505.7 670.7,454.3 641.7,488.0 589.1,471.8 697.5,472.1 652.1,485.5 644.7,450.9 620.2,503.9 697.8,466.4 690.8,455.7 646.3,445.3 620.4,513.4 696.7,471.8 674.1,441.6 598.8,507.4 697.2,462.1 656.2,495.9 661.1,457.7 689.9,444.5 687.9,477.4 599.0,494.1 593.0,512.3 669.5,492.7 653.3,483.2 652.1,483.9 651.5,485.2 650.5,486.1 649.6,487.1 648.7,487.5 594.3,518.4 626.9,473.2 617.3,506.9 632.1,460.7 639.0,480.7 663.4,442.8 678.5,436.9 648.1,483.3 651.9,477.5 601.6,468.7 587.5,512.8 682.1,460.6 683.4,459.2 683.9,458.1 684.5,457.2 685.6,456.6 687.0,455.7 688.0,454.5 611.3,466.6 633.5,492.3 662.5,456.4 593.7,473.7 592.2,513.2 658.5,438.6 658.5,474.4 595.5,474.8 663.2,458.3 653.9,501.1 680.7,478.1 615.3,506.4 668.9,439.2 615.0,508.3 682.4,481.0 657.5,498.5 624.5,497.1 600.3,504.2 602.3,510.5 664.5,448.3 653.4,479.6 684.5,438.9 684.1,440.1 683.1,440.9 682.7,441.6 681.9,442.5 680.9,443.3 679.8,444.0 640.7,467.4 651.5,499.6 675.8,476.4 654.8,471.1 654.2,471.8 653.3,473.2 652.1,474.8 651.5,475.6 650.8,477.1 649.5,478.5 616.2,514.6 691.9,439.1 645.8,494.9 622.1,506.7 675.6,457.0 676.5,456.1 677.7,455.0 678.4,454.2 679.1,453.1 680.4,451.5 681.2,450.2 689.6,432.7 692.1,449.6 674.4,457.1 605.9,514.4 652.9,476.5 657.7,467.2 656.3,468.0 655.5,468.9 654.6,470.0 651.5,443.2 531.1,499.8 537.0,481.2 545.2,473.6 544.1,479.5 550.5,469.9 549.1,479.5 553.3,481.0 553.3,486.6 556.9,483.1 559.0,470.3 560.7,500.8 566.8,477.4 564.7,482.4 570.3,482.4 566.8,488.0 570.3,489.5 577.4,471.0 578.1,514.7 716.1,466.5 709.0,471.0 696.3,487.6 692.0,502.9 687.3,505.1 693.7,510.4 701.5,514.7 668.9,514.7"/>
<path class="rl" d="M507.90 616.20L748.20 375.90"/>
<path class="ax" d="M507.90 375.40V616.20H748.70"/>
<path class="tkm" d="M507.90 616.20v-3.3M561.30 616.20v-3.3M614.70 616.20v-3.3M668.10 616.20v-3.3M721.50 616.20v-3.3M507.90 616.20h3.3M507.90 562.80h3.3M507.90 509.40h3.3M507.90 456.00h3.3M507.90 402.60h3.3"/>
<text class="tk" text-anchor="middle" x="507.90" y="636.20">-40</text>
<text class="tk" text-anchor="middle" x="561.30" y="636.20">-20</text>
<text class="tk" text-anchor="middle" x="614.70" y="636.20">0</text>
<text class="tk" text-anchor="middle" x="668.10" y="636.20">20</text>
<text class="tk" text-anchor="middle" x="721.50" y="636.20">40</text>
<text class="tk" text-anchor="end" x="500.60" y="620.70">-40</text>
<text class="tk" text-anchor="end" x="500.60" y="567.30">-20</text>
<text class="tk" text-anchor="end" x="500.60" y="513.90">0</text>
<text class="tk" text-anchor="end" x="500.60" y="460.50">20</text>
<text class="tk" text-anchor="end" x="500.60" y="407.10">40</text>
<text class="lb" text-anchor="middle" x="628.05" y="655.70">Reference [mmHg]</text>
<text class="lb" text-anchor="middle" transform="translate(467.70 496.05) rotate(-90)">Predicition [mmHg]</text>
<text class="tt" text-anchor="middle" x="628.05" y="358.40">R<tspan font-size="14.2" dy="9.4">DPAP</tspan><tspan dy="-9.4">: 0.81</tspan></text>
</g>
<g>
<path class="gm" d="M91.22 709.60V950.40M111.25 709.60V950.40M131.28 709.60V950.40M171.32 709.60V950.40M191.35 709.60V950.40M211.38 709.60V950.40M251.43 709.60V950.40M271.45 709.60V950.40M291.48 709.60V950.40M71.20 930.33H311.50M71.20 890.20H311.50M71.20 850.07H311.50M71.20 809.93H311.50M71.20 769.80H311.50M71.20 729.67H311.50"/>
<path class="gM" d="M151.30 709.60V950.40M231.40 709.60V950.40M311.50 709.60V950.40M71.20 910.27H311.50M71.20 870.13H311.50M71.20 830.00H311.50M71.20 789.87H311.50M71.20 749.73H311.50M71.20 709.60H311.50"/>
<polyline class="m" points="159.4,861.7 195.0,820.8 189.4,836.8 180.8,821.7 233.5,773.4 199.1,812.1 171.2,880.8 193.7,856.5 218.0,781.7 158.1,871.5 187.0,820.3 204.7,819.4 203.2,820.2 202.2,821.2 201.3,822.1 199.7,823.3 198.5,823.9 197.0,824.5 196.0,824.9 170.8,801.8 222.8,797.4 182.9,840.2 162.6,846.4 163.3,845.4 164.9,844.4 165.7,843.6 167.0,843.2 185.7,883.6 189.7,840.8 181.0,803.9 198.2,792.3 169.3,844.3 170.0,843.6 171.0,842.2 172.0,840.8 173.2,840.2 174.2,839.1 187.8,828.4 163.9,852.8 178.9,842.8 179.8,841.0 180.7,840.2 180.9,839.8 182.1,839.2 180.3,846.6 180.9,813.5 180.5,814.2 179.5,815.1 179.2,815.5 178.0,816.6 177.3,817.9 177.0,818.6 174.0,857.2 185.0,847.7 167.6,853.6 180.5,835.1 158.0,856.4 180.5,839.1 155.4,864.1 208.6,807.2 238.1,779.9 239.3,779.0 240.0,778.3 240.8,777.5 241.9,776.5 242.6,775.4 194.1,827.3 151.8,876.1 203.8,809.5 188.6,813.4 189.0,812.6 189.9,812.0 190.5,810.6 191.1,809.9 192.3,808.4 193.1,807.6 193.7,806.4 180.0,839.4 169.7,837.4 233.2,778.4 176.7,800.4 159.8,831.5 233.2,790.4 190.5,877.5 201.2,855.5 155.5,868.2 154.3,869.4 152.7,871.1 152.1,871.8 150.4,873.5 148.8,874.2 147.6,875.2 180.7,849.8 192.9,806.4 201.9,823.4 174.3,852.0 185.8,843.1 194.2,837.5 156.3,861.4 157.5,860.4 157.9,859.2 158.9,858.2 201.0,799.4 191.3,823.6 218.0,816.7 187.5,833.0 188.9,831.7 189.7,830.5 191.3,828.9 192.5,828.1 193.6,827.3 158.9,867.5 157.8,868.4 156.8,869.8 155.9,870.6 154.7,872.0 154.1,873.2 153.0,874.6 221.4,794.6 225.3,782.1 226.7,780.7 227.6,779.2 228.7,778.6 230.0,777.2 231.1,776.2 232.1,775.8 170.2,863.2 221.5,806.1 188.8,834.6 161.0,868.8 196.1,813.7 179.7,845.4 174.6,854.6 221.0,815.4 228.3,780.7 206.5,792.4 209.1,782.0 187.7,777.5 206.5,809.0 233.8,779.3 192.5,840.3 156.5,878.7 155.8,879.6 154.2,880.5 153.5,881.4 151.9,882.4 151.3,883.6 150.0,884.2 207.1,812.2 208.5,810.9 209.2,809.5 209.7,809.1 210.5,807.6 211.6,805.9 213.3,804.9 213.9,803.6 180.1,851.5 202.6,800.1 181.6,845.0 182.4,843.6 183.1,842.6 183.9,841.6 185.4,839.9 187.1,838.3 187.7,836.8 155.4,871.5 213.7,816.3 192.8,817.1 191.5,818.7 190.7,819.7 189.2,821.0 188.6,822.3 187.4,823.4 164.7,844.2 201.9,823.9 202.6,822.6 203.4,821.3 204.0,820.1 205.2,818.9 194.8,828.1 179.1,837.1 168.3,840.4 160.7,865.1 159.2,866.0 158.4,866.6 157.5,867.5 213.0,802.1 211.6,803.3 210.4,804.3 208.8,805.1 207.8,806.1 143.3,884.9 165.8,893.4 233.4,782.7 167.1,829.4 180.6,872.6 180.0,850.1 207.4,795.2 215.6,809.4 162.6,876.3 206.6,813.9 206.0,814.9 204.6,816.4 203.8,817.8 159.9,864.9 158.6,866.1 157.6,867.5 156.9,868.3 188.7,871.3 217.6,815.8 162.6,862.2 233.1,783.1 232.0,784.6 231.5,785.4 230.9,786.3 230.6,786.7 229.6,787.6 228.6,788.3 227.8,788.8 155.4,887.4 223.3,793.4 184.7,835.5 224.8,791.3 155.4,872.1 204.7,811.3 184.8,821.9 170.4,820.6 198.6,848.4 199.7,847.3 201.2,846.0 202.0,845.3 221.8,787.6 221.4,788.6 220.0,789.9 218.8,790.5 217.5,792.0 216.3,792.9 215.8,793.7 215.1,794.7 230.0,791.8 229.2,793.2 228.0,794.2 227.4,794.5 226.9,795.9 225.6,796.5 224.2,798.0 223.8,798.5 222.6,785.4 183.4,848.2 162.7,866.0 161.1,867.1 160.0,867.8 158.6,868.9 158.3,869.5 148.5,876.9 149.4,875.7 151.0,874.1 151.4,873.0 152.9,871.9 153.6,871.2 175.9,848.5 213.4,798.6 188.8,792.7 183.1,844.0 184.3,842.4 184.6,841.4 185.8,839.7 187.3,839.0 187.9,838.6 189.0,837.3 189.9,835.6 175.5,852.1 180.6,783.4 153.5,869.5 216.4,805.5 215.1,807.0 214.8,807.7 214.4,808.1 213.1,808.5 211.5,809.8 210.2,810.9 209.3,812.2 198.2,851.5 150.5,880.9 200.5,809.0 220.5,797.0 205.4,822.6 203.9,823.3 202.7,824.2 200.9,825.3 171.6,856.9 203.2,809.0 204.2,807.3 205.3,805.7 206.8,804.1 207.7,803.0 209.2,801.9 145.5,882.9 147.1,881.2 147.8,880.4 148.7,879.6 149.5,879.1 150.2,878.4 167.7,857.1 228.0,794.9 228.9,793.5 230.3,792.4 231.0,791.7 231.9,790.9 233.0,790.0 217.2,808.9 226.9,797.7 171.2,851.8 232.5,796.4 217.0,813.0 207.3,815.7 221.1,770.9 196.1,823.4 169.6,841.1 228.7,792.3 229.3,791.9 230.1,790.4 231.6,789.0 171.6,864.3 201.6,805.3 202.4,803.6 203.7,802.8 204.5,801.8 205.7,801.3 237.7,781.5 238.6,780.7 239.4,779.4 240.3,778.0 241.3,777.1 204.6,829.1 206.0,828.4 207.2,827.3 152.4,873.1 166.9,850.7 174.3,843.7 192.8,857.4 210.0,805.6 209.2,806.3 208.1,807.8 207.0,808.9 175.1,843.5 186.9,843.1 186.1,844.1 184.9,845.5 184.2,846.4 206.1,814.7 205.7,815.3 204.4,816.7 203.4,817.7 201.9,819.0 200.4,820.2 175.8,822.9 201.2,808.0 217.6,809.7 191.0,834.5 170.9,849.4 149.4,874.4 185.7,844.2 185.2,845.4 184.6,846.2 184.2,847.3 156.2,870.6 157.5,869.8 158.8,868.7 160.4,867.1 161.4,866.5 162.8,865.6 164.2,864.2 156.4,879.2 163.6,863.6 164.3,891.9 171.7,844.9 205.5,800.9 204.5,802.2 203.8,802.7 203.1,804.2 202.1,805.2 201.4,806.6 162.3,905.7 182.5,855.8 198.1,811.1 169.2,839.2 168.1,839.7 167.1,840.3 166.0,841.5 165.1,842.8 163.7,843.5 210.8,809.5 210.2,810.7 208.7,811.6 208.2,812.8 207.2,813.6 206.1,814.3 205.7,814.8 204.4,862.7 193.9,827.5 194.7,826.3 195.7,825.2 196.4,824.5 197.7,824.1 198.9,823.1 195.1,853.9 199.8,797.8 211.9,798.9 194.7,827.9 213.3,811.5 204.6,820.1 185.0,833.9 239.1,776.6 201.2,828.1 197.0,818.4 202.9,817.0 155.8,871.2 175.5,837.0 192.2,883.3 194.9,831.9 168.7,866.3 202.9,813.3 228.8,801.1 187.9,844.2 196.8,832.8 198.1,831.4 199.2,830.1 200.0,828.9 201.0,828.4 201.7,827.5 203.1,827.0 203.4,826.4 192.6,831.2 191.0,784.1 173.9,836.1 194.4,845.7 166.0,867.9 191.5,828.7 165.2,855.6 211.4,804.0 182.7,849.9 214.7,780.7 211.2,806.3 171.9,837.1 170.7,837.9 169.5,838.7 168.1,840.1 162.8,882.0 171.9,845.5 219.6,810.3 196.0,827.3 197.1,826.5 197.5,825.5 198.5,824.2 199.8,823.3 200.5,822.7 201.2,821.8 173.3,817.7 237.8,779.6 178.4,835.8 232.7,786.6 234.8,766.6 197.6,825.5 167.2,889.5 199.9,815.4 200.7,814.4 201.6,813.1 203.0,812.4 204.2,811.6 159.6,852.3 198.1,796.0 213.0,818.1 187.5,793.1 188.1,829.4 224.3,792.8 225.1,792.2 226.6,790.7 227.2,789.1 228.2,788.1 229.9,786.8 230.8,786.0 199.0,806.6 167.6,845.4 182.5,822.6 161.4,862.5 160.4,863.4 158.7,864.3 157.7,865.4 156.6,866.6 155.3,865.1 154.8,866.3 153.9,867.2 153.2,867.7 152.0,868.7 168.4,840.0 169.4,838.6 170.5,837.7 172.3,836.0 173.4,835.1 174.2,834.2 175.4,833.3 176.9,832.3 178.9,857.0 195.8,827.9 179.2,827.1 197.3,828.9 198.9,827.9 199.9,826.8 200.8,825.7 202.1,824.8 203.3,823.9 204.5,823.3 155.5,873.9 190.9,792.0 188.0,840.3 166.7,852.8 156.9,857.7 160.7,853.2 202.2,795.1 221.6,801.9 222.3,800.7 223.5,799.9 225.1,798.3 225.7,797.4 226.4,796.1 227.1,795.0 227.8,794.5 175.5,859.0 174.1,860.2 172.9,861.4 171.8,862.0 170.8,863.1 170.0,864.8 169.6,865.6 173.4,869.0 239.4,772.3 200.7,830.1 201.1,816.0 209.1,813.9 195.3,841.7 153.7,880.4 211.9,811.9 165.4,850.4 206.5,788.5 157.7,862.6 156.5,863.5 155.6,864.7 155.1,865.8 163.6,874.3 174.1,816.9 160.8,858.6 159.5,859.9 158.6,861.1 157.1,862.2 156.4,863.6 155.3,864.6 154.0,865.8 152.5,867.0 150.1,884.7 201.2,800.7 201.7,803.5 177.8,835.8 194.4,822.8 214.1,804.3 199.3,799.3 162.1,866.6 172.5,816.4 166.0,855.6 179.8,831.1 201.0,807.7 231.1,780.2 185.6,861.2 228.6,791.5 176.9,812.2 181.9,832.5 232.1,774.5 218.0,810.3 157.5,857.1 193.8,786.9 171.9,842.3 180.0,842.2 180.8,840.8 182.0,840.0 183.2,838.7 184.7,837.5 185.7,836.8 181.1,893.9 172.6,843.9 178.5,876.2 196.0,806.6 206.8,821.8 165.8,854.9 179.1,850.8 189.0,814.7 216.0,789.7 156.2,883.2 221.4,808.2 223.9,796.4 222.8,797.2 221.2,799.0 219.8,800.7 224.8,789.8 150.4,885.6 189.3,840.4 162.4,856.4 186.9,886.6 170.6,858.9 169.3,860.1 169.0,861.2 167.3,862.2 166.1,864.0 211.3,790.8 228.0,784.7 217.2,803.7 196.5,865.6 171.6,846.9 162.4,857.7 161.4,858.8 160.9,859.7 160.1,860.8 159.4,861.8 158.0,862.9 156.4,863.9 220.8,786.1 198.7,797.8 229.3,794.9 168.7,837.7 167.3,838.8 166.8,840.2 165.2,841.0 164.4,842.5 163.3,843.7 161.7,844.7 161.0,845.6 208.1,808.5 209.5,807.7 210.1,807.3 210.6,806.2 211.4,805.5 151.5,873.5 188.5,836.1 222.7,804.9 167.1,813.4 234.9,786.3 233.6,787.1 232.2,788.5 231.5,789.6 230.7,790.8 161.4,868.5 216.2,798.8 215.3,800.1 214.5,800.9 213.7,801.9 212.7,803.5 212.1,804.3 168.4,846.4 155.0,866.6 190.8,818.7 189.5,819.8 188.2,820.7 187.5,821.6 186.7,822.5 185.9,823.4 185.1,824.9 165.7,842.8 204.4,829.8 208.4,817.8 230.0,790.9 231.2,789.9 232.1,788.6 232.5,788.2 176.0,852.4 174.6,853.8 173.7,855.0 172.1,856.2 171.6,857.1 170.7,858.1 235.3,774.2 233.9,775.8 233.6,777.0 232.4,778.4 202.1,810.1 180.9,818.4 224.4,795.0 223.2,796.5 222.6,797.9 221.4,799.4 219.8,800.8 219.1,801.1 161.0,850.6 162.3,849.5 163.3,848.5 163.8,847.8 164.1,846.9 164.9,846.0 209.6,790.5 185.7,839.4 182.5,825.1 180.8,829.4 185.4,859.8 181.8,837.8 183.2,837.2 184.6,835.8 185.9,834.5 179.4,844.3 178.4,845.5 177.4,846.3 175.8,847.9 155.1,882.7 210.4,799.0 209.0,799.7 208.3,800.2 206.6,801.6 178.4,838.8 176.9,839.7 175.2,840.7 173.9,841.0 172.5,841.8 188.7,831.7 225.3,797.5 224.4,798.4 223.8,799.2 222.6,799.5 233.8,769.6 176.1,808.3 238.7,776.1 240.0,775.0 241.4,774.3 172.2,855.6 172.6,816.0 191.1,825.8 154.6,872.2 147.0,878.0 198.4,826.6 179.5,832.1 180.4,830.6 181.5,829.8 182.2,828.2 183.4,827.6 184.6,827.2 182.4,858.4 160.8,856.3 191.9,832.1 170.3,846.5 182.8,849.9 236.2,784.6 154.5,868.3 153.8,869.7 152.6,870.2 151.5,871.6 150.8,872.9 149.9,873.4 149.6,874.3 218.1,782.9 178.8,820.6 176.6,877.4 162.2,857.1 194.3,803.7 229.5,784.4 191.3,815.7 187.5,853.2 156.9,889.6 222.5,787.9 222.0,792.6 211.9,802.7 178.0,800.2 185.7,831.6 186.1,831.1 186.7,829.9 187.9,828.9 187.4,832.8 223.6,786.9 197.3,800.9 189.3,815.2 172.6,823.7 214.3,814.6 223.0,802.5 179.6,829.0 154.3,878.6 212.5,813.0 212.0,814.0 210.6,814.7 209.6,815.9 208.4,816.4 207.5,817.5 206.4,818.2 205.2,819.1 159.5,849.5 207.4,811.6 179.4,881.9 185.6,832.4 184.8,833.7 183.3,834.8 182.1,836.1 181.3,837.3 182.1,822.3 201.8,821.8 184.5,801.5 181.4,816.9 156.5,879.8 158.2,879.0 159.3,877.9 159.8,877.4 160.8,876.7 161.7,875.7 162.9,874.9 164.1,873.6 169.3,847.1 178.7,773.5 210.5,818.5 171.6,874.6 144.2,881.5 144.9,880.1 145.8,879.1 146.8,877.8 148.2,877.2 148.8,876.6 190.1,850.4 225.6,788.7 216.7,795.9 173.8,857.7 200.2,821.7 175.7,840.4 176.5,839.4 177.5,838.4 178.1,837.5 178.8,836.3 211.1,800.3 233.1,780.1 170.1,864.0 189.0,824.0 190.4,821.4 236.7,777.4 234.9,773.2 172.7,880.8 169.1,856.6 151.3,867.5 210.8,815.1 161.2,854.7 185.5,831.7 233.4,787.7 197.1,795.6 199.5,839.4 168.3,819.3 201.8,792.0 157.9,876.7 221.2,800.0 181.5,790.1 188.8,814.7 187.4,842.1 201.1,831.2 155.7,861.7 181.1,838.6 189.4,827.3 188.4,823.3 206.3,790.5 200.6,826.7 157.3,872.9 194.3,838.5 166.3,869.0 176.2,857.5 155.8,865.0 208.5,811.6 219.1,809.2 217.9,810.1 217.4,811.1 215.8,812.6 215.0,813.6 213.9,814.5 212.5,815.5 180.8,865.1 171.1,876.4 181.6,848.7 181.2,850.0 180.5,851.2 179.3,852.5 177.9,853.8 177.5,854.7 176.4,855.8 175.6,856.8 233.8,780.4 184.0,839.2 169.0,827.0 180.1,841.6 181.7,841.0 182.7,839.9 183.5,839.0 185.1,871.8 188.8,798.3 187.3,835.0 176.8,861.6 199.5,823.1 200.3,822.0 200.6,821.6 202.4,820.2 203.2,819.1 204.8,817.9 206.4,816.4 199.4,830.8 190.0,835.3 189.0,838.6 209.5,805.3 210.0,804.8 210.3,804.1 212.0,802.8 213.7,801.3 214.7,800.2 216.0,799.5 204.4,810.5 173.1,844.1 201.7,834.6 150.1,877.4 151.3,876.4 151.9,876.0 152.4,874.7 153.5,874.3 154.6,873.5 156.2,872.0 157.6,871.4 215.0,818.1 214.3,819.1 213.7,820.5 212.5,821.7 194.6,825.0 185.9,843.2 209.3,802.9 160.4,869.8 162.1,869.0 163.3,868.6 164.0,867.6 165.5,866.7 166.8,865.7 168.5,818.3 195.8,797.4 194.9,836.7 199.6,845.2 178.6,845.7 207.0,834.2 206.1,796.8 160.2,863.9 161.4,862.8 162.0,862.4 163.1,861.5 164.1,860.5 165.9,859.1 167.0,858.1 240.1,781.3 189.2,828.2 167.8,882.5 191.5,798.4 180.7,842.1 185.3,851.0 235.7,777.4 175.6,821.2 219.4,803.4 218.6,804.7 217.4,805.8 216.1,807.0 215.3,808.6 214.8,809.2 213.1,810.2 211.5,811.0 177.2,889.6 185.4,856.5 164.2,879.1 206.7,803.6 207.7,802.0 209.2,800.7 210.5,799.8 211.2,798.7 211.6,797.5 152.1,885.1 168.3,853.4 191.3,824.1 182.8,859.4 175.4,847.1 176.9,846.1 177.5,845.6 178.3,844.2 178.7,843.8 179.8,843.3 180.9,842.4 182.1,841.3 200.3,841.3 199.0,842.3 197.7,843.2 196.1,844.3 195.0,845.3 193.7,846.8 217.7,815.0 220.4,777.3 226.4,797.6 227.8,795.9 228.9,794.5 230.4,793.8 231.8,793.0 232.9,791.9 234.5,791.0 195.3,825.0 194.4,826.0 193.1,827.0 192.2,827.5 191.6,828.2 191.0,828.8 167.4,893.9 178.7,834.2 183.2,852.3 185.6,840.0 186.6,834.4 152.0,873.1 203.3,808.6 204.6,807.1 205.7,805.7 206.9,804.8 208.0,803.4 209.2,802.2 210.2,801.3 226.8,799.0 165.9,841.5 176.7,834.9 188.9,809.8 192.5,830.7 191.5,832.5 190.4,833.8 189.9,834.6 188.1,835.6 183.7,842.5 184.4,841.5 185.0,840.7 185.7,840.3 186.6,839.1 187.7,837.3 188.4,836.8 189.6,835.5 217.0,801.3 215.8,801.8 215.4,802.2 214.2,802.9 213.4,803.7 212.1,804.8 211.3,805.3 210.1,806.5 197.5,808.9 228.4,794.0 227.4,795.6 226.6,797.2 226.2,797.9 184.7,838.3 167.4,814.5 224.6,787.1 209.1,812.9 207.5,814.4 207.1,815.7 206.1,816.5 205.0,817.5 204.0,819.2 203.1,820.2 214.9,805.0 177.9,853.6 178.5,852.6 179.5,851.3 180.7,850.4 182.4,848.8 182.9,847.5 183.9,846.8 184.8,846.1 180.6,869.5 157.4,865.8 158.6,865.1 159.6,863.9 161.0,863.2 162.7,861.5 163.8,860.0 164.3,859.3 154.6,865.8 169.5,868.9 158.8,862.7 202.4,806.8 198.2,867.6 184.7,840.0 203.9,819.6 236.3,785.1 186.7,834.2 188.3,832.8 189.3,831.1 190.7,830.4 192.2,829.6 169.4,832.5 175.8,853.1 166.8,873.1 208.1,814.9 208.8,813.8 209.8,812.1 211.2,811.0 211.8,810.2 212.7,808.5 213.4,807.7 186.4,828.0 148.4,887.4 148.7,886.3 149.1,885.4 150.5,884.0 151.4,882.3 168.1,826.2 166.3,873.0 181.1,863.8 158.5,872.5 157.1,873.4 156.0,874.7 155.4,876.2 154.6,876.9 153.5,877.8 152.6,879.1 151.7,879.4 170.8,835.7 174.3,897.4 205.9,818.6 186.8,842.8 215.7,812.7 184.5,830.6 200.2,841.9 156.4,870.6 214.9,800.7 213.9,801.3 212.7,801.6 211.5,802.7 210.4,804.2 208.9,805.5 208.5,806.5 206.9,807.8 189.9,838.0 146.7,882.9 146.0,883.5 144.8,884.6 143.8,885.7 186.2,837.4 184.7,838.4 183.9,839.4 182.3,840.3 180.6,841.3 204.6,812.6 230.7,774.4 231.6,773.4 232.2,772.9 232.5,772.2 233.4,770.9 234.5,770.2 157.3,861.0 215.4,797.4 182.8,850.4 181.7,851.1 180.9,851.8 179.6,853.5 178.7,855.0 177.9,855.9 219.6,800.9 221.1,799.9 222.7,799.1 223.1,798.1 224.3,797.2 224.9,796.7 219.0,805.0 217.6,806.0 216.4,806.9 215.0,808.0 187.1,825.2 188.2,823.9 189.1,823.2 190.5,821.8 191.8,820.7 192.8,819.8 194.3,818.6 164.7,856.6 199.9,829.0 201.1,828.4 201.6,827.3 202.7,826.7 204.4,825.3 208.3,809.1 171.0,837.8 195.6,840.1 196.4,839.6 197.2,838.7 198.1,837.5 199.3,836.0 199.9,834.6 201.4,833.5 228.8,793.7 227.4,794.8 225.7,795.9 224.5,796.2 223.6,797.1 222.5,798.0 220.8,799.4 224.5,798.3 162.5,851.7 161.6,852.5 160.5,853.8 160.0,854.4 158.7,855.3 157.5,856.0 208.3,814.5 219.0,799.7 149.1,883.5 150.1,882.0 151.5,880.8 153.2,879.7 154.3,879.2 155.1,878.2 156.5,876.6 175.4,806.3 166.0,845.1 191.7,820.0 163.7,836.5 157.3,864.7 238.7,777.6 222.5,797.4 233.1,787.8 169.4,844.5 182.3,820.1 187.2,820.3 164.0,839.3 192.6,828.5 191.7,830.1 189.9,831.6 188.8,832.1 188.1,832.9 187.1,833.8 186.0,834.9 185.3,835.6 149.4,877.1 153.9,870.3 152.4,871.0 151.4,872.1 150.2,873.4 186.2,817.8 215.9,807.6 216.8,806.5 217.7,804.9 218.9,803.6 156.2,858.9 200.4,835.6 173.9,837.4 174.3,836.5 175.0,835.2 175.4,833.9 194.2,798.0 228.3,780.3 188.6,806.9 210.6,803.1 198.6,822.2 156.8,881.1 210.4,812.1 169.8,863.3 185.1,844.7 185.8,843.7 186.8,842.8 188.1,841.7 189.7,840.6 190.9,838.9 192.2,837.9 211.7,812.9 212.0,812.1 213.0,811.6 213.6,811.1 214.6,809.9 215.8,808.7 216.7,808.0 187.0,837.7 186.0,838.2 185.2,839.5 183.9,840.4 181.2,852.8 156.6,880.2 160.5,826.7 157.1,875.8 156.2,876.8 155.4,877.4 154.9,878.6 153.7,879.7 153.3,880.3 152.6,881.9 207.6,818.7 176.2,842.6 204.0,821.3 174.1,857.3 176.9,889.5 190.3,841.1 224.9,783.7 196.5,830.9 217.9,805.3 217.1,806.6 216.1,807.4 214.4,808.5 212.7,809.3 212.4,810.1 197.9,803.5 198.0,865.0 197.1,866.1 196.2,866.9 195.0,867.6 194.5,868.1 166.4,864.6 167.9,803.3 152.1,878.9 231.0,790.2 156.9,882.9 220.9,783.5 186.4,844.2 184.9,845.1 184.3,845.9 183.2,846.6 182.1,847.5 180.9,848.2 179.7,849.2 217.7,798.9 175.5,792.1 201.5,837.9 203.8,799.4 204.7,806.3 168.2,852.5 174.2,888.7 164.4,845.6 233.4,785.8 232.9,787.2 232.4,788.3 231.5,789.6 230.6,791.0 171.6,851.5 205.0,845.4 187.9,866.3 200.3,811.6 208.5,803.0 209.4,801.5 210.5,800.5 211.4,799.3 212.1,798.2 213.2,797.5 214.4,796.8 215.1,795.9 167.9,841.2 182.9,816.1 187.8,826.7 219.0,784.7 150.5,873.6 184.4,785.7 209.8,810.5 210.5,809.4 211.2,808.7 212.7,807.0 213.5,805.8 214.3,805.2 214.7,804.1 215.4,803.5 150.2,875.6 149.3,876.6 148.3,877.5 147.1,879.1 146.6,879.9 146.2,880.3 145.7,881.0 190.0,866.8 205.4,814.1 204.7,814.6 203.0,816.3 202.1,817.9 201.3,819.2 180.1,835.6 159.9,878.8 188.6,829.7 187.7,831.0 186.7,831.9 185.5,833.0 184.4,834.1 183.5,835.0 182.5,836.1 181.6,836.8 222.0,809.7 219.9,811.7 184.0,822.7 169.0,798.5 182.5,863.1 205.1,826.5 206.2,825.1 207.7,823.5 208.5,822.9 190.3,844.9 206.6,801.8 204.0,838.7 174.2,844.7 219.5,806.1 219.0,806.8 217.8,808.0 216.3,809.2 215.2,810.7 214.5,811.1 213.3,811.5 212.3,812.8 185.1,852.5 188.0,826.2 186.7,827.5 185.3,828.9 184.2,829.9 183.2,831.1 181.8,832.2 180.3,832.9 160.0,854.1 162.9,850.1 157.3,885.0 167.6,867.5 182.5,830.9 203.1,821.7 202.3,823.0 201.4,823.9 200.8,824.5 173.7,843.1 173.2,844.2 172.0,845.0 170.7,846.2 169.9,847.3 168.1,848.9 196.3,828.5 172.8,810.6 164.3,867.4 163.5,868.7 162.7,869.7 161.9,870.9 161.2,871.4 160.2,871.8 192.6,820.6 177.7,837.3 186.3,827.6 209.6,801.7 221.2,802.0 220.5,783.5 219.8,798.9 180.0,855.7 188.7,793.0 191.4,801.0 179.1,873.3 178.7,854.8 160.2,852.0 200.0,813.8 189.4,824.1 186.5,885.2 154.2,862.7 151.8,866.5 153.1,865.2 154.0,863.7 155.4,862.9 156.9,861.4 197.8,809.8 216.2,819.0 202.8,808.6 193.8,806.2 187.6,896.3 168.2,835.7 163.0,823.9 190.3,864.3 173.4,861.7 172.2,863.1 171.3,863.5 170.8,864.4 169.8,865.6 168.5,866.7 167.6,867.8 216.6,794.9 199.9,815.5 214.5,795.9 213.1,797.5 212.2,798.9 210.7,800.5 210.0,801.6 209.1,802.9 208.7,804.1 157.8,871.6 149.8,880.5 178.6,792.9 214.7,777.7 232.6,792.0 234.0,790.6 235.1,789.8 235.6,788.9 236.8,787.4 194.9,857.7 166.1,810.4 224.4,807.7 172.3,826.0 210.3,791.6 168.2,815.8 214.1,787.5 214.8,786.1 215.5,785.0 215.9,784.0 217.3,782.6 217.7,809.2 218.2,808.8 219.0,807.6 220.0,806.7 221.2,805.7 222.1,804.7 222.9,803.2 170.6,872.9 177.2,843.9 172.7,839.8 185.2,850.1 227.9,789.2 226.7,790.4 225.8,791.8 224.8,793.0 223.5,793.9 164.7,855.7 194.7,847.5 146.4,883.9 147.1,882.3 148.7,881.5 149.3,880.9 151.1,879.4 151.8,877.8 153.0,877.3 154.2,875.6 212.8,799.8 204.3,813.2 205.2,812.1 206.0,810.7 206.7,810.1 225.3,782.1 183.0,869.8 189.5,846.1 166.7,852.6 166.7,854.7 172.2,839.1 202.9,828.7 171.0,808.0 166.6,868.2 194.2,836.1 191.4,837.1 189.8,838.5 188.7,839.5 188.0,840.9 187.1,842.0 183.5,840.7 179.2,886.0 192.4,820.6 159.9,844.7 176.6,831.1 203.6,813.4 204.3,812.4 205.5,811.5 206.6,810.0 207.3,808.7 220.0,805.9 221.2,805.4 222.2,804.4 223.6,802.9 224.6,801.8 225.7,800.9 160.2,864.5 210.6,800.4 201.8,796.9 196.5,795.7 190.3,843.1 172.5,806.7 182.8,830.5 207.7,812.6 216.8,805.8 208.5,783.8 230.5,787.6 176.8,854.8 175.6,845.3 215.9,782.8 162.5,855.7 163.8,854.7 165.1,853.9 166.6,852.6 167.6,851.9 168.4,851.0 169.0,850.6 170.1,850.3 183.6,894.1 165.7,819.5 178.1,805.7 159.3,877.2 169.3,853.5 197.7,812.8 199.4,838.4 202.8,828.3 202.2,828.9 201.4,829.7 200.6,830.5 191.5,821.9 190.9,822.6 189.9,823.5 188.7,824.3 187.2,825.7 172.4,810.4 217.0,808.3 218.2,807.4 218.7,806.9 219.6,805.3 221.3,804.1 189.4,875.3 183.6,824.0 182.3,787.7 180.8,778.6 179.6,829.2 204.6,827.1 231.7,791.9 148.3,882.3 200.0,824.5 200.9,823.4 202.0,822.6 203.6,821.0 175.0,864.2 178.5,811.4 144.3,881.3 234.7,775.2 235.7,774.4 237.0,773.2 238.2,771.6 191.0,835.0 183.4,825.5 214.9,803.6 166.4,859.2 182.3,843.9 224.7,802.9 223.7,770.4 157.9,870.4 164.3,870.9 186.9,825.7 219.9,785.0 180.2,883.9 232.2,778.3 220.6,772.1 197.8,849.9 181.5,783.7 169.3,857.1 158.9,871.6 200.5,827.0 177.1,825.1 171.0,848.0 171.6,847.0 172.7,845.7 174.2,844.8 175.9,843.9 176.7,842.6 177.2,841.9 180.6,860.0 226.3,801.6 186.8,845.8 227.5,794.9 162.0,890.4 215.4,789.8 177.3,853.2 179.0,852.1 179.7,851.4 180.6,850.4 181.9,849.8 182.8,848.7 169.9,845.5 193.2,833.6 154.0,872.1 152.7,873.3 151.3,874.2 149.9,875.7 148.6,876.5 184.6,894.1 196.9,809.1 212.9,808.2 172.0,877.3 207.1,812.7 221.6,785.9 155.5,874.6 227.5,784.4 216.6,794.3 159.1,864.4 166.3,850.7 179.3,771.0 165.4,874.2 203.2,832.8 204.5,831.4 205.3,830.3 206.2,829.4 207.7,828.0 195.5,828.2 216.2,798.9 167.3,866.8 212.0,788.2 204.6,798.8 206.7,807.2 149.8,869.6 150.5,868.5 151.7,867.3 152.8,866.7 211.5,809.3 213.0,808.2 214.1,806.7 215.1,805.8 216.4,804.6 217.9,803.8 173.3,849.4 202.9,800.6 203.6,798.9 204.2,798.5 205.3,797.6 206.5,796.2 206.9,795.0 185.5,823.6 153.7,876.3 187.5,819.7 186.1,821.0 185.1,822.2 184.0,822.9 183.3,823.8 204.7,828.8 165.9,845.0 161.4,860.5 162.2,859.7 163.6,859.2 164.6,857.9 165.3,857.1 160.8,859.9 161.8,859.0 162.2,858.2 163.3,857.4 233.6,787.6 162.5,820.8 217.5,790.3 206.3,798.8 187.4,826.4 189.8,818.6 164.9,845.5 189.8,785.4 164.7,881.8 200.3,817.5 234.0,777.6 214.4,815.7 183.7,831.9 178.5,859.2 168.4,874.3 200.6,802.7 201.5,801.8 202.4,801.1 203.5,799.8 204.4,798.7 205.7,797.9 206.7,797.1 237.5,776.0 171.5,857.9 152.1,888.1 204.4,814.2 172.4,884.3 180.3,863.8 159.3,858.5 160.7,857.8 161.8,856.9 162.5,856.2 163.4,855.2 164.3,854.0 222.8,793.9 207.6,815.0 208.5,813.8 209.2,813.0 210.4,811.8 211.5,811.3 212.2,810.5 213.4,809.4 213.6,808.6 183.2,845.0 182.3,845.9 181.5,846.8 181.1,847.9 222.7,799.5 178.9,831.0 200.3,832.2 173.3,850.6 189.5,828.7 190.7,827.9 192.2,826.5 193.7,825.9 195.1,824.5 195.5,823.9 188.7,882.7 157.7,875.3 210.6,807.5 185.0,826.5 162.5,869.3 227.1,795.6 228.6,794.1 229.4,793.3 230.8,792.0 231.9,790.7 233.5,789.0 234.8,787.7 236.2,787.3 171.2,813.8 174.5,846.9 173.4,848.1 172.4,849.1 171.7,850.3 170.5,851.4 169.0,852.7 167.4,854.5 166.0,855.5 176.3,861.8 142.9,886.2 174.8,872.6 215.7,781.5 181.5,836.7 182.8,835.9 183.8,835.3 185.1,834.6 185.6,833.5 234.3,775.3 202.2,820.5 168.1,865.1 194.2,818.2 172.2,847.4 171.6,848.0 171.0,848.5 170.5,848.9 169.8,850.2 168.4,851.8 226.3,783.3 225.1,784.2 223.5,785.0 222.2,786.1 220.8,787.4 220.4,788.6 219.7,789.5 218.4,790.5 164.9,837.5 161.5,862.1 166.3,853.5 199.0,820.7 199.7,819.7 200.5,818.4 201.6,817.2 202.1,816.3 203.0,815.4 203.9,813.8 152.3,869.1 193.9,832.1 208.0,828.4 203.6,818.3 202.0,819.5 200.9,820.4 199.9,821.7 198.9,823.1 198.3,824.0 197.3,825.8 204.6,807.5 195.6,791.1 191.4,842.1 161.3,872.3 180.4,895.1 211.7,811.5 210.6,812.0 209.7,813.7 208.2,815.5 180.1,844.9 171.8,871.1 222.6,790.3 196.1,848.6 229.7,784.0 228.3,784.7 227.3,785.6 226.0,786.1 224.7,787.8 224.0,789.1 225.8,782.2 203.1,835.8 177.2,851.2 176.2,851.9 175.7,852.4 174.9,853.1 174.1,854.1 173.6,854.4 173.1,855.3 151.9,870.6 153.1,869.4 154.7,868.6 155.5,867.5 156.5,866.1 186.9,816.4 190.9,862.6 196.3,815.2 192.4,858.3 191.0,859.1 190.1,860.0 189.1,861.3 188.2,862.3 167.4,857.9 219.5,795.5 218.9,796.6 217.6,798.4 217.3,798.9 215.9,799.3 215.3,799.9 206.5,800.2 190.8,834.4 181.1,844.6 180.0,846.2 179.3,846.7 177.7,848.0 176.2,849.7 174.8,850.8 173.6,852.4 172.3,854.0 179.4,841.1 171.8,842.8 170.8,843.5 169.4,844.1 168.1,845.5 167.0,846.6 165.6,848.2 220.3,809.7 221.2,808.4 222.0,807.0 223.4,806.2 224.7,804.9 225.4,804.3 226.9,803.3 228.4,802.5 179.7,833.5 194.5,837.2 193.0,838.7 192.1,839.7 191.3,840.4 190.0,841.5 188.4,842.5 187.4,843.8 186.2,844.4 149.3,876.3 187.8,830.6 186.7,831.4 185.5,831.8 184.2,833.0 183.2,834.6 205.6,809.7 173.3,851.0 174.3,849.9 175.5,848.7 177.0,847.5 148.8,887.4 168.8,852.7 169.9,852.2 170.5,851.5 171.6,850.0 173.0,849.4 174.6,848.1 175.3,847.0 228.4,790.9 161.0,865.2 162.0,864.2 162.6,863.1 163.9,862.3 165.1,861.3 210.6,794.9 194.4,815.6 219.8,808.9 219.1,810.1 218.0,810.5 216.6,811.4 214.9,813.0 214.2,813.7 213.5,814.8 212.3,815.2 157.3,867.9 206.1,821.6 179.1,826.2 207.7,800.2 149.4,874.0 164.8,850.8 177.4,782.6 224.7,800.1 188.9,883.7 235.7,777.2 166.8,850.9 194.2,820.8 194.9,820.0 195.9,819.4 196.9,818.0 197.7,816.7 199.4,815.1 201.2,827.0 166.1,847.9 215.1,811.7 214.0,813.0 212.8,813.7 212.4,814.9 203.3,785.7 235.7,779.6 192.1,851.9 191.5,852.7 190.5,854.0 189.7,855.1 162.4,862.2 228.6,791.1 206.6,818.4 196.9,840.9 204.1,820.5 205.7,819.3 207.2,818.1 207.9,817.5 209.2,816.5 209.8,815.7 202.1,813.4 157.0,882.1 155.3,883.5 153.9,884.1 153.1,885.4 151.4,886.7 150.1,888.2 149.1,889.1 193.5,835.9 226.3,789.6 185.9,834.3 207.8,811.3 165.4,877.1 180.4,851.7 178.8,842.6 198.6,860.8 155.5,862.2 197.8,811.4 208.1,808.7 211.9,806.0 210.9,806.6 210.0,807.5 209.0,808.4 165.1,870.1 181.5,838.2 182.0,837.2 183.0,836.2 184.4,835.2 185.7,834.7 186.6,834.0 187.7,832.7 201.0,836.1 199.9,837.3 198.8,838.8 198.1,839.1 197.2,840.5 238.9,776.7 237.9,777.9 237.1,778.3 236.4,779.7 235.8,781.0 234.5,782.4 233.5,783.4 192.2,847.4 214.5,801.5 159.4,873.2 196.4,838.6 180.2,853.1 234.4,774.6 189.7,833.7 152.0,868.8 198.1,814.1 149.2,878.5 211.3,804.8 210.4,805.7 209.8,806.6 209.1,807.5 192.9,864.3 195.4,825.5 235.2,782.1 234.2,783.4 233.9,783.9 233.0,784.5 231.8,785.7 231.2,786.8 200.9,837.9 201.6,836.6 203.1,835.7 204.3,834.7 168.8,866.8 163.6,871.1 163.0,872.1 162.0,872.4 160.8,874.0 159.2,875.4 157.9,876.6 156.9,877.6 202.3,828.2 189.4,832.7 220.3,806.8 219.2,807.9 218.1,809.3 217.1,810.5 216.6,811.7 215.2,812.5 214.7,813.9 180.0,847.8 194.4,813.9 221.5,803.4 220.8,803.9 219.8,805.3 218.8,806.2 217.9,806.6 185.7,851.1 217.8,796.6 188.7,840.3 187.7,841.0 186.6,841.5 185.6,842.4 202.9,817.5 204.0,816.6 205.5,815.1 206.6,813.9 208.3,812.8 186.7,871.1 163.8,869.2 202.4,824.1 234.1,774.9 220.9,773.0 190.3,782.7 217.5,785.9 190.7,831.0 162.6,871.9 163.7,870.6 164.6,869.3 166.1,868.0 182.8,883.8 155.9,884.6 203.8,789.9 162.2,853.5 163.2,852.5 164.3,851.4 165.1,850.5 165.3,849.6 167.0,848.3 191.4,833.3 192.0,837.4 193.6,836.5 195.3,834.7 196.6,834.0 197.8,832.5 198.8,831.3 200.4,830.2 150.0,874.2 227.4,786.3 175.8,802.9 180.7,865.3 201.1,812.8 195.5,833.3 200.4,799.6 211.6,778.3 237.5,779.7 238.3,778.7 239.1,778.4 239.9,776.9 206.2,820.2 197.5,825.4 196.5,826.4 195.0,827.1 193.9,828.7 193.0,830.4 191.9,831.7 191.4,833.0 186.9,827.7 188.2,826.8 189.0,825.8 190.1,824.9 213.9,800.3 178.0,812.5 178.4,849.7 213.4,809.8 214.8,809.0 216.0,808.0 217.7,806.8 218.7,806.1 220.2,805.0 221.4,803.9 225.0,803.1 223.3,804.2 222.9,805.2 221.5,806.4 220.9,807.5 220.0,807.9 219.3,808.5 172.0,870.8 191.9,828.1 193.2,826.7 194.4,825.3 195.2,824.6 196.3,823.8 197.9,822.5 199.2,821.1 200.1,819.9 173.5,857.7 179.7,805.0 171.0,819.9 169.7,823.4 162.8,863.3 151.6,869.6 183.4,878.4 225.3,789.5 186.3,840.9 177.2,817.3 178.1,853.1 151.5,868.2 197.1,813.5 198.0,812.3 199.0,811.4 200.4,810.7 201.8,809.7 202.9,809.2 159.3,869.5 224.2,813.6 220.7,792.9 193.0,821.7 181.3,853.6 182.1,842.4 181.3,844.1 180.7,844.6 180.3,845.6 178.9,847.0 177.4,848.4 176.7,848.9 223.6,803.2 228.8,791.2 229.7,790.4 230.9,790.0 231.8,789.0 233.2,788.0 203.6,811.7 195.1,831.5 195.0,812.8 207.1,792.1 177.3,820.6 182.3,850.9 179.5,819.6 215.3,806.2 214.0,807.2 213.3,808.4 212.3,809.5 210.8,810.6 210.2,810.9 184.8,892.2 213.8,813.7 214.4,813.4 215.4,812.0 216.0,811.2 217.7,809.9 218.7,808.4 219.8,807.9 220.6,806.8 169.9,852.3 188.5,873.4 152.6,876.0 191.7,830.1 213.1,815.5 206.6,789.5 180.9,846.0 210.5,816.8 208.5,804.9 227.5,784.8 229.0,783.4 230.5,782.1 231.4,781.5 232.4,779.9 233.4,778.4 234.6,777.1 236.1,776.4 229.2,783.0 237.2,761.5 203.8,808.0 187.6,831.2 188.9,830.0 190.1,828.8 190.8,827.7 217.2,812.2 179.3,845.7 170.3,870.7 179.3,843.7 181.3,831.1 183.0,829.3 183.7,828.8 184.8,827.5 185.7,826.3 186.8,825.5 172.3,809.4 238.0,776.0 165.7,859.7 172.1,836.6 183.9,835.8 175.3,853.5 217.1,779.2 217.3,801.9 218.8,800.9 219.9,799.8 221.2,798.5 222.8,797.6 164.6,834.1 196.4,828.9 197.6,828.5 198.5,827.4 199.4,826.3 200.6,824.7 201.1,824.0 201.6,823.2 188.2,847.4 226.7,797.5 227.4,796.5 228.5,795.6 229.3,794.7 230.0,793.7 231.2,792.4 232.4,791.7 233.4,791.2 181.4,895.7 175.0,850.5 178.6,835.2 178.9,834.2 180.0,833.0 181.2,832.5 181.5,831.8 173.7,835.7 174.7,834.5 175.3,833.5 176.3,832.1 177.1,831.1 178.1,829.7 179.6,829.0 160.0,856.8 160.5,856.2 162.0,855.5 163.1,854.6 163.8,853.7 164.6,852.2 177.9,830.8 181.2,855.0 173.0,855.5 172.1,856.5 171.2,857.4 170.0,858.7 169.6,859.8 168.3,861.1 183.9,831.8 231.9,782.9 230.8,783.9 229.4,784.6 228.2,785.1 226.9,786.0 226.5,787.3 187.9,841.0 232.3,791.8 230.9,792.8 229.7,793.5 229.1,794.1 227.4,795.4 226.1,796.2 169.0,850.0 171.3,854.6 169.8,855.5 169.1,856.4 168.7,857.0 167.7,858.0 166.6,859.3 164.9,860.5 164.1,861.2 169.2,839.1 170.2,852.0 212.6,778.5 191.0,833.4 189.5,834.6 188.2,835.2 187.0,836.3 186.2,836.9 184.7,838.0 198.6,845.8 214.6,790.4 184.5,838.5 224.5,778.5 225.9,777.5 226.9,776.3 228.3,775.2 229.7,773.8 230.4,773.2 231.2,772.1 231.8,771.5 200.1,810.3 206.8,808.3 208.1,807.3 209.6,806.0 210.7,805.2 211.5,804.5 193.5,815.2 156.7,863.0 158.4,861.9 159.3,860.7 160.1,860.3 160.9,859.0 226.2,788.7 218.7,807.0 230.2,793.9 229.1,794.8 228.4,795.4 227.9,796.9 226.6,797.9 225.1,799.5 224.0,800.5 223.0,801.2 224.8,785.7 170.9,842.5 169.8,843.5 169.2,844.4 167.6,845.9 166.1,846.8 165.0,847.8 164.5,848.3 210.0,819.2 211.3,818.5 212.2,817.5 213.6,816.6 215.1,815.5 215.9,814.4 216.7,813.2 201.2,812.4 201.5,811.5 202.6,810.9 203.4,809.3 204.6,808.4 204.9,807.2 205.9,805.7 180.0,894.0 231.2,773.8 188.4,839.6 236.4,772.7 178.8,857.7 154.0,874.5 196.7,868.9 207.5,820.7 179.0,846.2 216.6,783.8 188.0,862.9 165.6,877.2 225.2,803.8 226.8,802.6 228.3,801.6 153.8,867.5 188.5,814.3 195.4,805.2 189.7,840.9 184.1,822.0 235.8,785.7 154.8,885.1 217.6,798.4 173.6,847.0 174.8,845.6 175.7,844.9 176.5,843.5 176.9,842.8 177.7,841.3 183.6,830.2 171.9,867.3 154.4,877.2 225.4,793.0 223.9,794.2 223.1,794.7 222.8,795.3 221.1,796.5 220.1,797.4 219.1,798.8 197.6,840.4 233.0,772.3 198.8,796.7 229.0,778.4 187.3,814.8 164.1,879.4 234.4,777.9 176.8,832.2 180.5,879.2 213.5,816.0 207.5,818.2 202.0,816.8 213.3,792.7 182.0,897.2 219.9,766.7 197.5,838.5 178.7,839.0 152.4,878.7 150.8,880.2 149.9,880.8 148.4,882.1 169.7,832.2 185.6,825.8 184.9,826.4 183.1,828.1 182.2,828.5 181.6,829.6 180.8,831.4 179.4,833.1 183.7,847.5 209.1,808.3 208.3,809.7 207.0,810.8 205.9,812.0 222.7,791.9 188.4,834.5 187.4,835.3 186.4,835.7 185.5,836.8 158.3,867.3 244.5,776.8 156.2,861.3 167.7,839.9 166.8,840.9 166.3,842.1 165.1,842.8 164.6,844.1 163.3,845.4 162.6,845.9 162.0,846.5 162.9,829.3 198.6,822.0 187.4,788.9 174.8,838.8 203.6,818.2 210.9,802.1 211.8,800.6 213.3,799.2 214.4,798.2 216.0,796.5 217.2,795.1 217.5,794.8 203.9,801.9 202.6,802.7 201.9,803.5 200.9,804.4 200.2,805.0 199.3,805.6 198.6,806.7 197.8,807.8 197.0,819.8 195.8,820.3 194.6,821.1 193.8,821.7 193.1,822.6 192.4,824.0 191.2,824.6 189.9,825.2 186.9,819.9 197.1,821.9 161.3,874.8 209.8,805.7 231.2,784.7 170.2,875.8 152.0,880.8 151.4,882.3 150.9,883.5 150.4,884.8 213.4,807.0 192.3,845.0 177.9,839.0 206.8,809.5 188.4,810.1 166.7,837.5 165.3,839.0 164.0,840.0 163.3,841.5 162.2,842.3 231.7,776.5 173.5,849.0 207.2,816.8 208.3,815.4 209.4,814.5 209.7,813.8 210.5,812.7 211.9,811.7 212.3,810.4 213.1,809.1 229.8,783.9 227.9,785.9 210.3,819.6 203.6,811.9 204.7,810.6 205.7,809.1 206.7,807.5 208.3,806.5 209.5,805.7 210.0,804.7 172.5,842.9 205.7,815.5 204.3,816.5 202.9,817.6 201.9,818.7 201.1,819.9 200.4,820.8 200.1,822.9 175.3,816.6 208.3,816.6 229.4,794.8 228.0,796.1 227.3,797.1 225.6,798.3 224.3,798.8 223.5,799.5 222.3,800.9 221.0,801.8 230.0,787.7 228.3,789.2 227.5,790.0 226.3,791.3 225.2,792.3 185.2,783.3 207.4,818.0 206.6,819.7 170.2,858.1 171.3,857.3 172.7,855.9 173.4,854.4 174.2,812.0 184.6,856.5 191.6,812.9 155.4,869.1 156.1,868.3 157.1,867.6 158.1,866.2 223.0,799.0 167.2,863.1 224.3,799.9 195.4,825.5 196.9,824.5 197.9,824.2 199.4,822.4 200.4,821.3 210.4,782.4 181.8,834.8 212.9,792.6 177.4,846.7 186.9,885.9 157.6,870.0 169.0,875.5 212.3,815.9 174.5,841.7 176.0,840.1 177.3,838.9 178.3,838.0 179.6,836.9 180.2,835.7 182.0,834.3 183.2,833.8 175.1,828.0 228.9,777.1 206.6,798.9 175.2,826.7 191.8,825.0 222.6,782.1 221.2,801.3 142.3,889.1 192.8,820.8 191.7,821.6 190.4,823.1 189.4,824.4 215.8,817.9 180.7,850.8 182.6,839.6 183.7,839.2 185.4,838.0 186.1,837.4 187.0,836.4 235.5,781.2 188.0,835.2 223.6,795.7 150.3,881.1 165.5,892.2 153.4,884.0 220.7,773.7 195.3,826.4 196.5,825.8 197.3,824.4 198.4,823.4 199.4,822.3 200.3,821.1 201.2,819.8 201.6,818.9 205.5,801.6 181.3,883.4 191.7,828.5 192.8,827.6 193.4,827.0 194.8,825.3 172.6,832.1 198.0,787.9 176.0,884.2 167.0,859.0 218.3,792.4 226.5,776.3 180.1,797.8 226.7,805.0 225.9,805.6 224.4,806.4 223.8,807.4 222.7,809.2 221.4,809.9 175.8,842.7 146.9,881.3 218.8,800.8 223.0,804.2 171.9,866.2 204.9,796.4 225.9,780.4 160.9,875.7 150.2,873.1 192.3,808.8 232.0,780.0 211.0,812.8 177.8,823.1 158.6,861.5 157.3,862.1 156.0,862.6 155.3,863.5 171.6,848.4 171.2,848.8 169.7,850.3 168.9,851.1 167.6,852.4 166.3,853.5 165.6,854.2 173.1,842.1 165.0,885.2 168.0,859.4 164.1,853.9 165.3,853.3 166.3,851.9 167.1,851.0 168.1,850.1 170.3,856.3 205.9,814.9 207.0,814.1 208.0,812.9 209.6,811.5 210.8,810.8 211.7,809.5 156.7,872.9 235.4,779.1 219.7,783.2 155.3,864.6 204.9,814.1 205.3,813.6 206.3,812.4 207.6,810.8 204.9,807.7 203.4,825.9 226.0,777.9 184.7,834.5 224.4,799.8 147.6,882.8 147.0,883.9 145.3,885.1 144.8,886.1 143.1,887.8 142.4,888.9 190.4,794.3 161.6,865.2 195.0,818.5 232.0,787.3 231.1,787.8 230.1,788.8 228.5,790.1 227.3,790.6 226.4,791.1 217.0,805.9 215.6,807.5 214.1,809.0 213.7,809.6 157.9,877.6 164.0,876.0 176.8,872.6 176.2,834.5 169.0,855.4 168.5,856.2 167.4,857.5 166.5,859.1 165.9,860.3 164.3,861.6 163.4,863.0 161.9,864.5 193.0,837.6 158.5,867.3 187.4,845.4 233.0,780.2 231.8,781.2 230.9,782.3 230.0,783.1 228.7,783.5 227.4,784.7 213.4,815.5 214.2,814.6 215.9,813.6 217.0,812.9 218.3,811.8 199.2,823.8 200.3,823.0 200.8,821.8 201.3,820.5 217.4,782.6 159.0,870.5 157.9,871.9 157.0,873.2 156.2,874.3 154.9,875.2 229.2,778.9 215.6,807.1 203.0,816.4 187.7,838.5 225.7,796.7 200.0,811.4 201.6,823.6 165.3,853.8 226.8,788.2 173.2,897.5 195.2,808.9 228.4,779.6 223.8,801.9 173.0,842.7 174.5,841.2 176.0,840.0 177.3,839.0 178.4,838.4 179.9,837.7 180.5,836.8 181.2,836.4 214.6,794.7 203.6,816.3 229.6,782.2 222.7,790.8 167.8,865.0 220.9,783.5 189.2,877.9 163.9,855.1 224.9,796.3 226.2,795.3 227.1,794.3 228.2,793.5 230.0,792.6 230.8,791.4 231.6,790.2 232.7,789.4 176.2,855.2 211.8,791.0 187.6,791.8 173.1,846.1 173.3,845.2 173.9,844.1 175.6,843.1 176.7,841.9 185.8,856.2 183.1,833.7 188.9,813.8 209.4,822.0 163.6,897.7 232.9,764.7 181.4,847.3 182.7,845.9 184.0,845.4 185.3,844.4 186.1,843.3 236.4,785.6 236.8,784.7 237.8,784.2 238.3,783.8 239.6,782.5 230.6,805.6 176.4,787.7 175.6,777.2 179.1,900.4 165.8,809.6 207.9,812.1 208.9,810.3 210.3,808.9 211.0,807.8 220.8,810.6 220.3,811.5 219.3,812.2 218.2,813.3 183.9,844.7 189.3,887.3 207.4,821.2 221.4,819.2 237.4,785.9 188.9,891.9 139.7,884.7 196.1,850.2 223.5,806.7 167.1,905.8 202.3,812.6 174.2,798.9 148.2,877.2 193.5,873.0 153.5,891.7 179.9,847.6 141.9,879.8 207.9,816.6 172.7,844.6 174.1,843.0 175.3,842.6 176.5,841.1 199.3,811.5 193.5,823.4 150.1,870.2 225.2,774.0 187.0,829.3 192.1,826.7 191.3,827.7 189.8,828.8 188.7,829.4 230.2,769.3 177.5,856.2 186.5,851.6 214.3,774.4 160.5,892.5 210.1,777.5 146.3,876.6 236.0,776.7 183.6,900.9 224.6,797.0 223.9,798.2 223.5,799.0 222.6,800.0 221.2,800.8 219.5,801.6 218.4,802.6 217.5,803.9 186.0,823.8 198.5,831.9 199.6,831.2 200.1,830.6 200.9,829.9 201.9,828.7 202.7,827.5 168.3,824.5 226.3,793.1 228.0,791.4 229.0,790.4 229.6,789.2 180.4,851.4 159.7,883.6 191.3,809.0 165.0,833.0 197.8,817.5 196.6,818.6 195.7,819.2 194.4,820.3 192.8,821.2 198.4,848.3 234.7,792.4 182.1,836.3 181.4,837.3 180.3,838.1 179.4,839.5 206.3,781.7 233.6,780.3 163.9,902.9 220.5,801.1 203.0,860.5 186.9,896.0 184.2,863.1 202.9,820.2 164.4,878.8 231.3,773.6 163.1,804.1 193.9,832.1 160.6,837.9 216.6,805.7 182.8,846.7 169.0,901.5 215.6,822.0 217.1,772.1 207.9,774.8 224.0,784.4 164.2,814.3 148.9,889.6 184.5,839.2 185.4,828.6 180.1,741.7 188.2,745.9 162.4,747.7 160.1,752.6 173.6,755.6 176.8,759.8 191.8,758.9 188.2,766.1 159.1,787.7 160.1,793.1 240.5,804.3 229.5,858.1 227.3,861.7 210.7,870.3 204.4,883.8 211.1,891.1 172.7,939.8 196.2,900.1 182.6,902.2 200.4,869.9"/>
<path class="rl" d="M71.20 950.40L311.50 709.60"/>
<path class="ax" d="M71.20 709.10V950.40H312.00"/>
<path class="tkm" d="M71.20 950.40v-3.3M151.30 950.40v-3.3M231.40 950.40v-3.3M311.50 950.40v-3.3M71.20 950.40h3.3M71.20 910.27h3.3M71.20 870.13h3.3M71.20 830.00h3.3M71.20 789.87h3.3M71.20 749.73h3.3M71.20 709.60h3.3"/>
<text class="tk" text-anchor="middle" x="71.20" y="970.40">-20</text>
<text class="tk" text-anchor="middle" x="151.30" y="970.40">0</text>
<text class="tk" text-anchor="middle" x="231.40" y="970.40">20</text>
<text class="tk" text-anchor="middle" x="311.50" y="970.40">40</text>
<text class="tk" text-anchor="end" x="63.90" y="954.90">-20</text>
<text class="tk" text-anchor="end" x="63.90" y="914.77">-10</text>
<text class="tk" text-anchor="end" x="63.90" y="874.63">0</text>
<text class="tk" text-anchor="end" x="63.90" y="834.50">10</text>
<text class="tk" text-anchor="end" x="63.90" y="794.37">20</text>
<text class="tk" text-anchor="end" x="63.90" y="754.23">30</text>
<text class="tk" text-anchor="end" x="63.90" y="714.10">40</text>
<text class="lb" text-anchor="middle" x="191.35" y="989.90">Reference [mmHg]</text>
<text class="lb" text-anchor="middle" transform="translate(30.30 830.00) rotate(-90)">Predicition [mmHg]</text>
<text class="tt" text-anchor="middle" x="191.35" y="692.10">R<tspan font-size="14.2" dy="9.4">CVP</tspan><tspan dy="-9.4">: 0.92</tspan></text>
</g>
</svg></body></html>
